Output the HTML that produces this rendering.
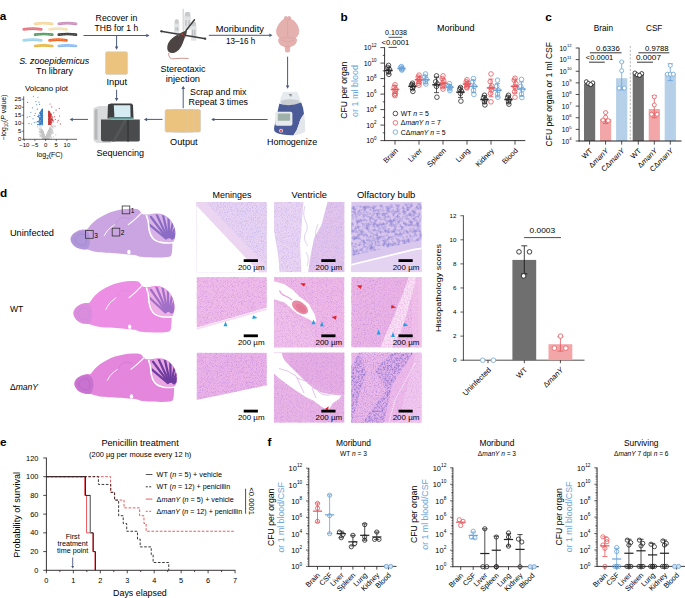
<!DOCTYPE html><html><head><meta charset="utf-8"><style>html,body{margin:0;padding:0;background:#fff;}svg{display:block;}</style></head><body>
<svg width="685" height="598" viewBox="0 0 685 598" font-family='"Liberation Sans", sans-serif'>
<rect width="685" height="598" fill="#fff"/>
<text x="-0.30" y="20.30" font-size="11.8" fill="#000" font-weight="bold" >a</text>
<path d="M35.099999999999994,23.799999999999997 Q43.7,22.4 52.300000000000004,23.799999999999997" fill="none" stroke="#f4d89e" stroke-width="2.7" stroke-linecap="round"/>
<path d="M35.099999999999994,23.799999999999997 Q43.7,22.4 52.300000000000004,23.799999999999997" fill="none" stroke="#ffffff" stroke-width="1.0" stroke-linecap="round" stroke-dasharray="0.01 1.55" opacity="0.35"/>
<path d="M58.8,23.799999999999997 Q67.4,22.4 76.0,23.799999999999997" fill="none" stroke="#c98dbd" stroke-width="2.7" stroke-linecap="round"/>
<path d="M58.8,23.799999999999997 Q67.4,22.4 76.0,23.799999999999997" fill="none" stroke="#ffffff" stroke-width="1.0" stroke-linecap="round" stroke-dasharray="0.01 1.55" opacity="0.35"/>
<path d="M23.7,29.4 Q32.5,28.0 41.300000000000004,29.4" fill="none" stroke="#e66f79" stroke-width="2.7" stroke-linecap="round"/>
<path d="M23.7,29.4 Q32.5,28.0 41.300000000000004,29.4" fill="none" stroke="#ffffff" stroke-width="1.0" stroke-linecap="round" stroke-dasharray="0.01 1.55" opacity="0.35"/>
<path d="M49.5,29.4 Q58.0,28.0 66.5,29.4" fill="none" stroke="#f4e1b6" stroke-width="2.7" stroke-linecap="round"/>
<path d="M49.5,29.4 Q58.0,28.0 66.5,29.4" fill="none" stroke="#ffffff" stroke-width="1.0" stroke-linecap="round" stroke-dasharray="0.01 1.55" opacity="0.35"/>
<path d="M35.099999999999994,34.699999999999996 Q43.7,33.3 52.300000000000004,34.699999999999996" fill="none" stroke="#4f9a5b" stroke-width="2.7" stroke-linecap="round"/>
<path d="M35.099999999999994,34.699999999999996 Q43.7,33.3 52.300000000000004,34.699999999999996" fill="none" stroke="#ffffff" stroke-width="1.0" stroke-linecap="round" stroke-dasharray="0.01 1.55" opacity="0.35"/>
<path d="M58.8,34.699999999999996 Q67.4,33.3 76.0,34.699999999999996" fill="none" stroke="#363636" stroke-width="2.7" stroke-linecap="round"/>
<path d="M58.8,34.699999999999996 Q67.4,33.3 76.0,34.699999999999996" fill="none" stroke="#ffffff" stroke-width="1.0" stroke-linecap="round" stroke-dasharray="0.01 1.55" opacity="0.35"/>
<path d="M23.7,40.3 Q32.5,38.9 41.300000000000004,40.3" fill="none" stroke="#9dd2ed" stroke-width="2.7" stroke-linecap="round"/>
<path d="M23.7,40.3 Q32.5,38.9 41.300000000000004,40.3" fill="none" stroke="#ffffff" stroke-width="1.0" stroke-linecap="round" stroke-dasharray="0.01 1.55" opacity="0.35"/>
<path d="M49.5,40.3 Q58.0,38.9 66.5,40.3" fill="none" stroke="#f3621f" stroke-width="2.7" stroke-linecap="round"/>
<path d="M49.5,40.3 Q58.0,38.9 66.5,40.3" fill="none" stroke="#ffffff" stroke-width="1.0" stroke-linecap="round" stroke-dasharray="0.01 1.55" opacity="0.35"/>
<path d="M35.099999999999994,46.0 Q43.7,44.6 52.300000000000004,46.0" fill="none" stroke="#e4b644" stroke-width="2.7" stroke-linecap="round"/>
<path d="M35.099999999999994,46.0 Q43.7,44.6 52.300000000000004,46.0" fill="none" stroke="#ffffff" stroke-width="1.0" stroke-linecap="round" stroke-dasharray="0.01 1.55" opacity="0.35"/>
<path d="M58.8,46.0 Q67.4,44.6 76.0,46.0" fill="none" stroke="#8abaf0" stroke-width="2.7" stroke-linecap="round"/>
<path d="M58.8,46.0 Q67.4,44.6 76.0,46.0" fill="none" stroke="#ffffff" stroke-width="1.0" stroke-linecap="round" stroke-dasharray="0.01 1.55" opacity="0.35"/>
<text x="19.20" y="64.00" font-size="8.6" font-style="italic" textLength="70" lengthAdjust="spacingAndGlyphs" >S. zooepidemicus</text>
<text x="36.00" y="74.20" font-size="8.6" textLength="37" lengthAdjust="spacingAndGlyphs" >Tn library</text>
<line x1="83.50" y1="35.50" x2="146.80" y2="35.50" stroke="#4c5a7a" stroke-width="1.0" />
<path d="M149.50,35.50 L146.30,37.26 L146.30,33.74 Z" fill="#4c5a7a"/>
<line x1="116.60" y1="35.50" x2="116.60" y2="47.10" stroke="#4c5a7a" stroke-width="1.0" />
<path d="M116.60,49.80 L114.84,46.60 L118.36,46.60 Z" fill="#4c5a7a"/>
<text x="95.60" y="20.90" font-size="8.4" textLength="41.8" lengthAdjust="spacingAndGlyphs" >Recover in</text>
<text x="94.60" y="31.10" font-size="8.4" textLength="43.6" lengthAdjust="spacingAndGlyphs" >THB for 1 h</text>
<rect x="105.50" y="51.70" width="22.10" height="22.80" fill="#ebc27e" rx="1.6" stroke="#d7d2cc" stroke-width="0.7"/>
<text x="106.40" y="85.00" font-size="8.4" textLength="20.7" lengthAdjust="spacingAndGlyphs" >Input</text>
<line x1="116.60" y1="89.80" x2="116.60" y2="98.60" stroke="#4c5a7a" stroke-width="1.0" />
<path d="M116.60,101.30 L114.84,98.10 L118.36,98.10 Z" fill="#4c5a7a"/>
<path d="M93.5,108 L99,106 L111,106 L111,143 L98,143 Q93.5,142 93.5,139 Z" fill="#d9dadc" stroke="none" stroke-width="1" />
<path d="M94.5,110 L97.5,109 L97.5,140 L94.5,139 Z" fill="#b5b7ba" stroke="none" stroke-width="1" />
<path d="M107.5,118.5 L108,104.5 L111,103.5 L131.5,103.5 L133,105 L133.5,118.5 Z" fill="#3e3f41" stroke="none" stroke-width="1" />
<path d="M113.8,105.3 L130.3,105.3 L130.6,117 L114.4,117 Z" fill="#d6ecf3" stroke="none" stroke-width="1" />
<rect x="109.00" y="117.30" width="24.50" height="1.60" fill="#5f9c98" />
<path d="M101,119.6 L139.8,119.6 L139.8,140.5 Q139.5,141.6 137.5,141.6 L103,141.6 Q101,141.2 101,139.5 Z" fill="#4a4b4d" stroke="none" stroke-width="1" />
<path d="M127,120 L129,120 L129,141.5 L127,141.5 Z" fill="#3b3c3e" stroke="none" stroke-width="1" />
<path d="M112,141.5 L124,120 L127,120 L115,141.5 Z" fill="#555658" stroke="none" stroke-width="1" />
<text x="96.40" y="156.30" font-size="8.6" textLength="47.7" lengthAdjust="spacingAndGlyphs" >Sequencing</text>
<line x1="162.50" y1="119.40" x2="146.60" y2="119.40" stroke="#4c5a7a" stroke-width="1.0" />
<path d="M143.90,119.40 L147.10,117.64 L147.10,121.16 Z" fill="#4c5a7a"/>
<text x="25.00" y="91.40" font-size="7.2" textLength="43" lengthAdjust="spacingAndGlyphs" >Volcano plot</text>
<circle cx="42.63" cy="131.26" r="0.55" fill="#c6c6c6"/><circle cx="47.07" cy="136.25" r="0.55" fill="#c6c6c6"/><circle cx="42.34" cy="135.99" r="0.55" fill="#c6c6c6"/><circle cx="45.85" cy="138.05" r="0.55" fill="#c6c6c6"/><circle cx="42.65" cy="137.27" r="0.55" fill="#c6c6c6"/><circle cx="42.44" cy="134.96" r="0.55" fill="#c6c6c6"/><circle cx="50.28" cy="129.23" r="0.55" fill="#c6c6c6"/><circle cx="48.75" cy="137.98" r="0.55" fill="#c6c6c6"/><circle cx="53.16" cy="127.86" r="0.55" fill="#c6c6c6"/><circle cx="45.23" cy="137.67" r="0.55" fill="#c6c6c6"/><circle cx="46.29" cy="137.29" r="0.55" fill="#c6c6c6"/><circle cx="46.43" cy="138.70" r="0.55" fill="#c6c6c6"/><circle cx="46.78" cy="138.80" r="0.55" fill="#c6c6c6"/><circle cx="47.95" cy="134.93" r="0.55" fill="#c6c6c6"/><circle cx="41.06" cy="131.07" r="0.55" fill="#c6c6c6"/><circle cx="47.97" cy="133.95" r="0.55" fill="#c6c6c6"/><circle cx="41.94" cy="132.99" r="0.55" fill="#c6c6c6"/><circle cx="46.03" cy="138.22" r="0.55" fill="#c6c6c6"/><circle cx="55.19" cy="126.01" r="0.55" fill="#c6c6c6"/><circle cx="45.89" cy="137.69" r="0.55" fill="#c6c6c6"/><circle cx="45.23" cy="138.27" r="0.55" fill="#c6c6c6"/><circle cx="47.87" cy="137.93" r="0.55" fill="#c6c6c6"/><circle cx="46.31" cy="136.59" r="0.55" fill="#c6c6c6"/><circle cx="43.23" cy="135.36" r="0.55" fill="#c6c6c6"/><circle cx="51.22" cy="139.14" r="0.55" fill="#c6c6c6"/><circle cx="44.62" cy="137.88" r="0.55" fill="#c6c6c6"/><circle cx="48.67" cy="130.74" r="0.55" fill="#c6c6c6"/><circle cx="44.36" cy="136.84" r="0.55" fill="#c6c6c6"/><circle cx="49.53" cy="130.06" r="0.55" fill="#c6c6c6"/><circle cx="47.76" cy="136.35" r="0.55" fill="#c6c6c6"/><circle cx="48.16" cy="132.03" r="0.55" fill="#c6c6c6"/><circle cx="47.33" cy="134.70" r="0.55" fill="#c6c6c6"/><circle cx="47.57" cy="137.78" r="0.55" fill="#c6c6c6"/><circle cx="47.44" cy="138.25" r="0.55" fill="#c6c6c6"/><circle cx="46.53" cy="136.81" r="0.55" fill="#c6c6c6"/><circle cx="44.37" cy="136.68" r="0.55" fill="#c6c6c6"/><circle cx="47.67" cy="137.45" r="0.55" fill="#c6c6c6"/><circle cx="50.22" cy="129.79" r="0.55" fill="#c6c6c6"/><circle cx="48.18" cy="136.34" r="0.55" fill="#c6c6c6"/><circle cx="47.97" cy="136.12" r="0.55" fill="#c6c6c6"/><circle cx="50.95" cy="132.37" r="0.55" fill="#c6c6c6"/><circle cx="45.12" cy="137.03" r="0.55" fill="#c6c6c6"/><circle cx="46.71" cy="135.71" r="0.55" fill="#c6c6c6"/><circle cx="48.72" cy="132.56" r="0.55" fill="#c6c6c6"/><circle cx="52.78" cy="133.46" r="0.55" fill="#c6c6c6"/><circle cx="50.96" cy="133.02" r="0.55" fill="#c6c6c6"/><circle cx="46.38" cy="137.78" r="0.55" fill="#c6c6c6"/><circle cx="43.57" cy="138.02" r="0.55" fill="#c6c6c6"/><circle cx="49.12" cy="135.13" r="0.55" fill="#c6c6c6"/><circle cx="48.00" cy="134.11" r="0.55" fill="#c6c6c6"/><circle cx="43.92" cy="134.10" r="0.55" fill="#c6c6c6"/><circle cx="48.23" cy="134.38" r="0.55" fill="#c6c6c6"/><circle cx="41.06" cy="134.90" r="0.55" fill="#c6c6c6"/><circle cx="43.51" cy="137.25" r="0.55" fill="#c6c6c6"/><circle cx="50.32" cy="133.80" r="0.55" fill="#c6c6c6"/><circle cx="43.24" cy="136.73" r="0.55" fill="#c6c6c6"/><circle cx="45.59" cy="138.81" r="0.55" fill="#c6c6c6"/><circle cx="39.45" cy="124.99" r="0.55" fill="#c6c6c6"/><circle cx="48.81" cy="133.93" r="0.55" fill="#c6c6c6"/><circle cx="43.48" cy="137.66" r="0.55" fill="#c6c6c6"/><circle cx="52.94" cy="133.06" r="0.55" fill="#c6c6c6"/><circle cx="47.74" cy="134.09" r="0.55" fill="#c6c6c6"/><circle cx="45.80" cy="138.01" r="0.55" fill="#c6c6c6"/><circle cx="51.19" cy="132.24" r="0.55" fill="#c6c6c6"/><circle cx="48.03" cy="137.87" r="0.55" fill="#c6c6c6"/><circle cx="49.98" cy="134.43" r="0.55" fill="#c6c6c6"/><circle cx="40.97" cy="130.03" r="0.55" fill="#c6c6c6"/><circle cx="44.05" cy="136.96" r="0.55" fill="#c6c6c6"/><circle cx="47.65" cy="138.77" r="0.55" fill="#c6c6c6"/><circle cx="45.10" cy="138.17" r="0.55" fill="#c6c6c6"/><circle cx="45.10" cy="138.43" r="0.55" fill="#c6c6c6"/><circle cx="46.35" cy="137.60" r="0.55" fill="#c6c6c6"/><circle cx="44.70" cy="137.43" r="0.55" fill="#c6c6c6"/><circle cx="45.38" cy="137.61" r="0.55" fill="#c6c6c6"/><circle cx="50.06" cy="129.69" r="0.55" fill="#c6c6c6"/><circle cx="45.53" cy="138.25" r="0.55" fill="#c6c6c6"/><circle cx="46.50" cy="138.99" r="0.55" fill="#c6c6c6"/><circle cx="46.60" cy="135.82" r="0.55" fill="#c6c6c6"/><circle cx="43.87" cy="138.76" r="0.55" fill="#c6c6c6"/><circle cx="39.24" cy="128.05" r="0.55" fill="#c6c6c6"/><circle cx="41.56" cy="133.76" r="0.55" fill="#c6c6c6"/><circle cx="46.53" cy="135.79" r="0.55" fill="#c6c6c6"/><circle cx="49.13" cy="131.16" r="0.55" fill="#c6c6c6"/><circle cx="47.62" cy="133.55" r="0.55" fill="#c6c6c6"/><circle cx="45.68" cy="138.02" r="0.55" fill="#c6c6c6"/><circle cx="41.71" cy="129.22" r="0.55" fill="#c6c6c6"/><circle cx="43.51" cy="133.37" r="0.55" fill="#c6c6c6"/><circle cx="49.41" cy="129.68" r="0.55" fill="#c6c6c6"/><circle cx="41.77" cy="129.69" r="0.55" fill="#c6c6c6"/><circle cx="48.47" cy="133.45" r="0.55" fill="#c6c6c6"/><circle cx="44.10" cy="135.76" r="0.55" fill="#c6c6c6"/><circle cx="44.10" cy="135.67" r="0.55" fill="#c6c6c6"/><circle cx="49.50" cy="128.69" r="0.55" fill="#c6c6c6"/><circle cx="47.94" cy="132.90" r="0.55" fill="#c6c6c6"/><circle cx="45.65" cy="138.13" r="0.55" fill="#c6c6c6"/><circle cx="43.30" cy="134.38" r="0.55" fill="#c6c6c6"/><circle cx="41.09" cy="136.56" r="0.55" fill="#c6c6c6"/><circle cx="47.96" cy="133.44" r="0.55" fill="#c6c6c6"/><circle cx="49.73" cy="132.08" r="0.55" fill="#c6c6c6"/><circle cx="46.73" cy="137.65" r="0.55" fill="#c6c6c6"/><circle cx="44.99" cy="137.24" r="0.55" fill="#c6c6c6"/><circle cx="42.94" cy="132.00" r="0.55" fill="#c6c6c6"/><circle cx="46.01" cy="138.19" r="0.55" fill="#c6c6c6"/><circle cx="46.45" cy="136.67" r="0.55" fill="#c6c6c6"/><circle cx="46.52" cy="136.00" r="0.55" fill="#c6c6c6"/><circle cx="47.64" cy="134.47" r="0.55" fill="#c6c6c6"/><circle cx="40.56" cy="132.45" r="0.55" fill="#c6c6c6"/><circle cx="48.12" cy="133.56" r="0.55" fill="#c6c6c6"/><circle cx="46.96" cy="135.29" r="0.55" fill="#c6c6c6"/><circle cx="48.82" cy="130.75" r="0.55" fill="#c6c6c6"/><circle cx="48.02" cy="134.16" r="0.55" fill="#c6c6c6"/><circle cx="44.16" cy="136.92" r="0.55" fill="#c6c6c6"/><circle cx="48.16" cy="132.62" r="0.55" fill="#c6c6c6"/><circle cx="48.48" cy="131.86" r="0.55" fill="#c6c6c6"/><circle cx="44.39" cy="137.36" r="0.55" fill="#c6c6c6"/><circle cx="39.43" cy="134.22" r="0.55" fill="#c6c6c6"/><circle cx="43.91" cy="137.18" r="0.55" fill="#c6c6c6"/><circle cx="46.71" cy="136.98" r="0.55" fill="#c6c6c6"/><circle cx="43.75" cy="136.43" r="0.55" fill="#c6c6c6"/><circle cx="43.73" cy="134.09" r="0.55" fill="#c6c6c6"/><circle cx="49.05" cy="137.28" r="0.55" fill="#c6c6c6"/><circle cx="45.68" cy="139.11" r="0.55" fill="#c6c6c6"/><circle cx="46.59" cy="136.32" r="0.55" fill="#c6c6c6"/><circle cx="45.45" cy="138.12" r="0.55" fill="#c6c6c6"/><circle cx="44.25" cy="138.88" r="0.55" fill="#c6c6c6"/><circle cx="50.61" cy="135.28" r="0.55" fill="#c6c6c6"/><circle cx="45.43" cy="137.79" r="0.55" fill="#c6c6c6"/><circle cx="46.20" cy="138.15" r="0.55" fill="#c6c6c6"/><circle cx="46.57" cy="136.56" r="0.55" fill="#c6c6c6"/><circle cx="46.69" cy="136.89" r="0.55" fill="#c6c6c6"/><circle cx="43.25" cy="133.21" r="0.55" fill="#c6c6c6"/><circle cx="43.08" cy="132.13" r="0.55" fill="#c6c6c6"/><circle cx="45.29" cy="138.00" r="0.55" fill="#c6c6c6"/><circle cx="44.33" cy="137.76" r="0.55" fill="#c6c6c6"/><circle cx="49.16" cy="131.26" r="0.55" fill="#c6c6c6"/><circle cx="46.24" cy="138.30" r="0.55" fill="#c6c6c6"/><circle cx="45.67" cy="138.13" r="0.55" fill="#c6c6c6"/><circle cx="48.56" cy="133.63" r="0.55" fill="#c6c6c6"/><circle cx="42.52" cy="134.33" r="0.55" fill="#c6c6c6"/><circle cx="42.96" cy="132.66" r="0.55" fill="#c6c6c6"/><circle cx="47.01" cy="134.81" r="0.55" fill="#c6c6c6"/><circle cx="45.37" cy="137.79" r="0.55" fill="#c6c6c6"/><circle cx="48.12" cy="133.77" r="0.55" fill="#c6c6c6"/><circle cx="48.25" cy="132.07" r="0.55" fill="#c6c6c6"/><circle cx="43.45" cy="133.33" r="0.55" fill="#c6c6c6"/><circle cx="48.54" cy="132.01" r="0.55" fill="#c6c6c6"/><circle cx="48.94" cy="132.10" r="0.55" fill="#c6c6c6"/><circle cx="44.96" cy="138.21" r="0.55" fill="#c6c6c6"/><circle cx="45.13" cy="137.45" r="0.55" fill="#c6c6c6"/><circle cx="40.98" cy="129.15" r="0.55" fill="#c6c6c6"/><circle cx="47.39" cy="133.78" r="0.55" fill="#c6c6c6"/><circle cx="51.83" cy="124.74" r="0.55" fill="#c6c6c6"/><circle cx="41.25" cy="133.37" r="0.55" fill="#c6c6c6"/><circle cx="44.90" cy="136.49" r="0.55" fill="#c6c6c6"/><circle cx="47.61" cy="137.93" r="0.55" fill="#c6c6c6"/><circle cx="44.00" cy="136.17" r="0.55" fill="#c6c6c6"/><circle cx="41.52" cy="132.09" r="0.55" fill="#c6c6c6"/><circle cx="44.55" cy="138.85" r="0.55" fill="#c6c6c6"/><circle cx="46.39" cy="136.51" r="0.55" fill="#c6c6c6"/><circle cx="45.09" cy="138.42" r="0.55" fill="#c6c6c6"/><circle cx="43.54" cy="137.38" r="0.55" fill="#c6c6c6"/><circle cx="50.23" cy="135.34" r="0.55" fill="#c6c6c6"/><circle cx="41.60" cy="129.48" r="0.55" fill="#c6c6c6"/><circle cx="45.57" cy="138.21" r="0.55" fill="#c6c6c6"/><circle cx="49.07" cy="129.96" r="0.55" fill="#c6c6c6"/><circle cx="44.95" cy="138.64" r="0.55" fill="#c6c6c6"/><circle cx="46.63" cy="137.51" r="0.55" fill="#c6c6c6"/><circle cx="49.37" cy="130.75" r="0.55" fill="#c6c6c6"/><circle cx="43.86" cy="134.36" r="0.55" fill="#c6c6c6"/><circle cx="43.44" cy="134.73" r="0.55" fill="#c6c6c6"/><circle cx="45.00" cy="136.83" r="0.55" fill="#c6c6c6"/><circle cx="48.54" cy="131.45" r="0.55" fill="#c6c6c6"/><circle cx="47.43" cy="133.72" r="0.55" fill="#c6c6c6"/><circle cx="51.26" cy="129.28" r="0.55" fill="#c6c6c6"/><circle cx="44.36" cy="136.37" r="0.55" fill="#c6c6c6"/><circle cx="45.20" cy="137.82" r="0.55" fill="#c6c6c6"/><circle cx="45.51" cy="137.82" r="0.55" fill="#c6c6c6"/><circle cx="45.62" cy="138.40" r="0.55" fill="#c6c6c6"/><circle cx="41.98" cy="132.23" r="0.55" fill="#c6c6c6"/><circle cx="48.94" cy="133.22" r="0.55" fill="#c6c6c6"/><circle cx="45.66" cy="138.32" r="0.55" fill="#c6c6c6"/><circle cx="45.07" cy="137.80" r="0.55" fill="#c6c6c6"/><circle cx="52.09" cy="132.58" r="0.55" fill="#c6c6c6"/><circle cx="44.34" cy="136.55" r="0.55" fill="#c6c6c6"/><circle cx="48.09" cy="132.86" r="0.55" fill="#c6c6c6"/><circle cx="48.15" cy="132.35" r="0.55" fill="#c6c6c6"/><circle cx="43.63" cy="137.07" r="0.55" fill="#c6c6c6"/><circle cx="46.38" cy="136.93" r="0.55" fill="#c6c6c6"/><circle cx="47.33" cy="134.61" r="0.55" fill="#c6c6c6"/><circle cx="45.37" cy="139.11" r="0.55" fill="#c6c6c6"/><circle cx="46.71" cy="136.14" r="0.55" fill="#c6c6c6"/><circle cx="47.90" cy="135.85" r="0.55" fill="#c6c6c6"/><circle cx="43.65" cy="137.76" r="0.55" fill="#c6c6c6"/><circle cx="49.07" cy="131.32" r="0.55" fill="#c6c6c6"/><circle cx="48.41" cy="135.80" r="0.55" fill="#c6c6c6"/><circle cx="48.34" cy="136.32" r="0.55" fill="#c6c6c6"/><circle cx="43.11" cy="135.26" r="0.55" fill="#c6c6c6"/><circle cx="45.46" cy="138.35" r="0.55" fill="#c6c6c6"/><circle cx="44.42" cy="137.71" r="0.55" fill="#c6c6c6"/><circle cx="45.73" cy="138.09" r="0.55" fill="#c6c6c6"/><circle cx="43.83" cy="134.27" r="0.55" fill="#c6c6c6"/><circle cx="43.42" cy="134.44" r="0.55" fill="#c6c6c6"/><circle cx="47.28" cy="134.85" r="0.55" fill="#c6c6c6"/><circle cx="44.44" cy="135.72" r="0.55" fill="#c6c6c6"/><circle cx="48.01" cy="135.76" r="0.55" fill="#c6c6c6"/><circle cx="44.64" cy="135.87" r="0.55" fill="#c6c6c6"/><circle cx="48.00" cy="132.73" r="0.55" fill="#c6c6c6"/><circle cx="55.77" cy="134.88" r="0.55" fill="#c6c6c6"/><circle cx="46.33" cy="137.95" r="0.55" fill="#c6c6c6"/><circle cx="50.49" cy="136.09" r="0.55" fill="#c6c6c6"/><circle cx="47.46" cy="134.30" r="0.55" fill="#c6c6c6"/><circle cx="43.50" cy="137.47" r="0.55" fill="#c6c6c6"/><circle cx="42.57" cy="138.54" r="0.55" fill="#c6c6c6"/><circle cx="48.45" cy="136.20" r="0.55" fill="#c6c6c6"/><circle cx="43.51" cy="133.11" r="0.55" fill="#c6c6c6"/><circle cx="40.46" cy="135.57" r="0.55" fill="#c6c6c6"/><circle cx="41.35" cy="131.69" r="0.55" fill="#c6c6c6"/><circle cx="45.86" cy="137.78" r="0.55" fill="#c6c6c6"/><circle cx="46.42" cy="138.45" r="0.55" fill="#c6c6c6"/><circle cx="47.01" cy="138.65" r="0.55" fill="#c6c6c6"/><circle cx="42.86" cy="133.70" r="0.55" fill="#c6c6c6"/><circle cx="44.96" cy="138.41" r="0.55" fill="#c6c6c6"/><circle cx="46.78" cy="135.60" r="0.55" fill="#c6c6c6"/><circle cx="47.75" cy="132.90" r="0.55" fill="#c6c6c6"/><circle cx="47.14" cy="138.36" r="0.55" fill="#c6c6c6"/><circle cx="45.48" cy="137.77" r="0.55" fill="#c6c6c6"/><circle cx="41.44" cy="133.53" r="0.55" fill="#c6c6c6"/><circle cx="47.14" cy="136.14" r="0.55" fill="#c6c6c6"/><circle cx="43.10" cy="133.92" r="0.55" fill="#c6c6c6"/><circle cx="45.74" cy="139.18" r="0.55" fill="#c6c6c6"/><circle cx="44.41" cy="137.81" r="0.55" fill="#c6c6c6"/><circle cx="40.93" cy="131.50" r="0.55" fill="#c6c6c6"/><circle cx="45.84" cy="138.60" r="0.55" fill="#c6c6c6"/><circle cx="43.20" cy="136.91" r="0.55" fill="#c6c6c6"/><circle cx="45.54" cy="137.96" r="0.55" fill="#c6c6c6"/><circle cx="45.99" cy="137.36" r="0.55" fill="#c6c6c6"/><circle cx="44.48" cy="136.29" r="0.55" fill="#c6c6c6"/><circle cx="40.74" cy="131.76" r="0.55" fill="#c6c6c6"/><circle cx="43.36" cy="132.71" r="0.55" fill="#c6c6c6"/><circle cx="44.10" cy="135.01" r="0.55" fill="#c6c6c6"/><circle cx="45.71" cy="138.00" r="0.55" fill="#c6c6c6"/><circle cx="52.13" cy="126.61" r="0.55" fill="#c6c6c6"/><circle cx="47.15" cy="134.62" r="0.55" fill="#c6c6c6"/><circle cx="43.43" cy="133.27" r="0.55" fill="#c6c6c6"/><circle cx="44.42" cy="135.78" r="0.55" fill="#c6c6c6"/><circle cx="41.57" cy="132.91" r="0.55" fill="#c6c6c6"/><circle cx="45.85" cy="138.32" r="0.55" fill="#c6c6c6"/><circle cx="44.98" cy="137.54" r="0.55" fill="#c6c6c6"/><circle cx="48.62" cy="132.77" r="0.55" fill="#c6c6c6"/><circle cx="46.20" cy="137.25" r="0.55" fill="#c6c6c6"/><circle cx="46.78" cy="136.08" r="0.55" fill="#c6c6c6"/><circle cx="52.66" cy="131.61" r="0.55" fill="#c6c6c6"/><circle cx="44.09" cy="135.93" r="0.55" fill="#c6c6c6"/><circle cx="42.99" cy="135.00" r="0.55" fill="#c6c6c6"/><circle cx="50.01" cy="129.70" r="0.55" fill="#c6c6c6"/><circle cx="46.02" cy="137.34" r="0.55" fill="#c6c6c6"/><circle cx="46.62" cy="136.51" r="0.55" fill="#c6c6c6"/><circle cx="45.95" cy="137.52" r="0.55" fill="#c6c6c6"/><circle cx="45.91" cy="138.96" r="0.55" fill="#c6c6c6"/><circle cx="48.84" cy="135.90" r="0.55" fill="#c6c6c6"/><circle cx="45.13" cy="138.25" r="0.55" fill="#c6c6c6"/><circle cx="46.92" cy="135.11" r="0.55" fill="#c6c6c6"/><circle cx="42.88" cy="131.64" r="0.55" fill="#c6c6c6"/><circle cx="45.00" cy="137.37" r="0.55" fill="#c6c6c6"/><circle cx="49.98" cy="128.89" r="0.55" fill="#c6c6c6"/><circle cx="45.91" cy="138.87" r="0.55" fill="#c6c6c6"/><circle cx="42.20" cy="137.82" r="0.55" fill="#c6c6c6"/><circle cx="43.33" cy="132.85" r="0.55" fill="#c6c6c6"/><circle cx="47.71" cy="137.11" r="0.55" fill="#c6c6c6"/><circle cx="48.67" cy="133.61" r="0.55" fill="#c6c6c6"/><circle cx="45.29" cy="137.34" r="0.55" fill="#c6c6c6"/><circle cx="45.41" cy="138.26" r="0.55" fill="#c6c6c6"/><circle cx="42.33" cy="134.30" r="0.55" fill="#c6c6c6"/><circle cx="45.40" cy="138.47" r="0.55" fill="#c6c6c6"/><circle cx="44.03" cy="136.92" r="0.55" fill="#c6c6c6"/><circle cx="43.08" cy="133.29" r="0.55" fill="#c6c6c6"/><circle cx="45.89" cy="138.44" r="0.55" fill="#c6c6c6"/><circle cx="46.47" cy="138.79" r="0.55" fill="#c6c6c6"/><circle cx="48.60" cy="134.47" r="0.55" fill="#c6c6c6"/><circle cx="49.90" cy="128.41" r="0.55" fill="#c6c6c6"/><circle cx="46.02" cy="137.03" r="0.55" fill="#c6c6c6"/><circle cx="45.14" cy="136.98" r="0.55" fill="#c6c6c6"/><circle cx="51.42" cy="130.41" r="0.55" fill="#c6c6c6"/><circle cx="48.71" cy="133.67" r="0.55" fill="#c6c6c6"/><circle cx="48.07" cy="134.40" r="0.55" fill="#c6c6c6"/><circle cx="45.68" cy="137.88" r="0.55" fill="#c6c6c6"/><circle cx="45.50" cy="137.78" r="0.55" fill="#c6c6c6"/><circle cx="42.95" cy="132.53" r="0.55" fill="#c6c6c6"/><circle cx="44.94" cy="137.13" r="0.55" fill="#c6c6c6"/><circle cx="45.20" cy="137.89" r="0.55" fill="#c6c6c6"/><circle cx="46.29" cy="137.30" r="0.55" fill="#c6c6c6"/><circle cx="46.90" cy="138.04" r="0.55" fill="#c6c6c6"/><circle cx="42.17" cy="133.35" r="0.55" fill="#c6c6c6"/><circle cx="47.47" cy="136.71" r="0.55" fill="#c6c6c6"/><circle cx="43.51" cy="133.87" r="0.55" fill="#c6c6c6"/><circle cx="44.60" cy="136.77" r="0.55" fill="#c6c6c6"/><circle cx="52.88" cy="127.04" r="0.55" fill="#c6c6c6"/><circle cx="45.93" cy="138.43" r="0.55" fill="#c6c6c6"/><circle cx="50.45" cy="128.11" r="0.55" fill="#c6c6c6"/><circle cx="49.87" cy="130.58" r="0.55" fill="#c6c6c6"/><circle cx="44.63" cy="136.41" r="0.55" fill="#c6c6c6"/><circle cx="47.74" cy="134.74" r="0.55" fill="#c6c6c6"/><circle cx="42.73" cy="132.40" r="0.55" fill="#c6c6c6"/><circle cx="43.89" cy="137.31" r="0.55" fill="#c6c6c6"/><circle cx="46.08" cy="136.99" r="0.55" fill="#c6c6c6"/><circle cx="53.78" cy="125.64" r="0.55" fill="#c6c6c6"/><circle cx="46.98" cy="137.20" r="0.55" fill="#c6c6c6"/><circle cx="46.27" cy="137.57" r="0.55" fill="#c6c6c6"/><circle cx="45.11" cy="137.59" r="0.55" fill="#c6c6c6"/><circle cx="45.12" cy="138.80" r="0.55" fill="#c6c6c6"/><circle cx="49.60" cy="131.69" r="0.55" fill="#c6c6c6"/><circle cx="48.18" cy="133.62" r="0.55" fill="#c6c6c6"/><circle cx="43.81" cy="137.11" r="0.55" fill="#c6c6c6"/><circle cx="48.29" cy="135.21" r="0.55" fill="#c6c6c6"/><circle cx="45.85" cy="138.90" r="0.55" fill="#c6c6c6"/><circle cx="40.73" cy="135.66" r="0.55" fill="#c6c6c6"/><circle cx="47.44" cy="134.43" r="0.55" fill="#c6c6c6"/><circle cx="42.41" cy="135.76" r="0.55" fill="#c6c6c6"/><circle cx="44.12" cy="135.03" r="0.55" fill="#c6c6c6"/><circle cx="47.01" cy="136.73" r="0.55" fill="#c6c6c6"/><circle cx="41.28" cy="133.34" r="0.55" fill="#c6c6c6"/><circle cx="39.16" cy="129.01" r="0.55" fill="#c6c6c6"/><circle cx="45.87" cy="138.13" r="0.55" fill="#c6c6c6"/><circle cx="39.78" cy="131.18" r="0.55" fill="#c6c6c6"/><circle cx="50.67" cy="136.37" r="0.55" fill="#c6c6c6"/><circle cx="49.27" cy="137.03" r="0.55" fill="#c6c6c6"/><circle cx="43.09" cy="133.46" r="0.55" fill="#c6c6c6"/><circle cx="44.77" cy="137.71" r="0.55" fill="#c6c6c6"/><circle cx="46.20" cy="138.22" r="0.55" fill="#c6c6c6"/><circle cx="44.94" cy="137.05" r="0.55" fill="#c6c6c6"/><circle cx="48.08" cy="133.32" r="0.55" fill="#c6c6c6"/><circle cx="47.19" cy="135.20" r="0.55" fill="#c6c6c6"/><circle cx="45.71" cy="138.46" r="0.55" fill="#c6c6c6"/><circle cx="47.54" cy="134.40" r="0.55" fill="#c6c6c6"/><circle cx="45.10" cy="137.28" r="0.55" fill="#c6c6c6"/><circle cx="47.06" cy="135.88" r="0.55" fill="#c6c6c6"/><circle cx="51.77" cy="125.32" r="0.55" fill="#c6c6c6"/><circle cx="42.80" cy="134.42" r="0.55" fill="#c6c6c6"/><circle cx="46.80" cy="137.20" r="0.55" fill="#c6c6c6"/><circle cx="43.79" cy="136.05" r="0.55" fill="#c6c6c6"/><circle cx="51.43" cy="132.90" r="0.55" fill="#c6c6c6"/><circle cx="43.68" cy="136.09" r="0.55" fill="#c6c6c6"/><circle cx="44.28" cy="136.74" r="0.55" fill="#c6c6c6"/><circle cx="48.00" cy="135.31" r="0.55" fill="#c6c6c6"/><circle cx="47.24" cy="134.74" r="0.55" fill="#c6c6c6"/><circle cx="49.39" cy="132.11" r="0.55" fill="#c6c6c6"/><circle cx="47.87" cy="136.92" r="0.55" fill="#c6c6c6"/><circle cx="42.97" cy="132.85" r="0.55" fill="#c6c6c6"/><circle cx="47.68" cy="138.66" r="0.55" fill="#c6c6c6"/><circle cx="44.49" cy="136.65" r="0.55" fill="#c6c6c6"/><circle cx="42.57" cy="130.91" r="0.55" fill="#c6c6c6"/><circle cx="45.04" cy="137.27" r="0.55" fill="#c6c6c6"/><circle cx="46.37" cy="137.13" r="0.55" fill="#c6c6c6"/><circle cx="45.08" cy="137.09" r="0.55" fill="#c6c6c6"/><circle cx="47.02" cy="135.40" r="0.55" fill="#c6c6c6"/><circle cx="46.60" cy="135.83" r="0.55" fill="#c6c6c6"/><circle cx="49.42" cy="136.03" r="0.55" fill="#c6c6c6"/><circle cx="48.02" cy="133.34" r="0.55" fill="#c6c6c6"/><circle cx="44.79" cy="138.00" r="0.55" fill="#c6c6c6"/><circle cx="44.35" cy="135.65" r="0.55" fill="#c6c6c6"/><circle cx="41.35" cy="132.72" r="0.55" fill="#c6c6c6"/><circle cx="45.39" cy="138.37" r="0.55" fill="#c6c6c6"/><circle cx="50.09" cy="131.39" r="0.55" fill="#c6c6c6"/><circle cx="45.21" cy="137.76" r="0.55" fill="#c6c6c6"/><circle cx="45.24" cy="137.25" r="0.55" fill="#c6c6c6"/><circle cx="41.74" cy="133.11" r="0.55" fill="#c6c6c6"/><circle cx="47.92" cy="133.05" r="0.55" fill="#c6c6c6"/><circle cx="42.38" cy="131.36" r="0.55" fill="#c6c6c6"/><circle cx="48.95" cy="130.20" r="0.55" fill="#c6c6c6"/><circle cx="41.00" cy="129.85" r="0.55" fill="#c6c6c6"/><circle cx="41.71" cy="129.98" r="0.55" fill="#c6c6c6"/><circle cx="45.37" cy="138.21" r="0.55" fill="#c6c6c6"/><circle cx="44.66" cy="136.33" r="0.55" fill="#c6c6c6"/><circle cx="46.77" cy="135.21" r="0.55" fill="#c6c6c6"/><circle cx="44.83" cy="138.09" r="0.55" fill="#c6c6c6"/><circle cx="47.21" cy="136.21" r="0.55" fill="#c6c6c6"/><circle cx="44.11" cy="138.41" r="0.55" fill="#c6c6c6"/><circle cx="53.11" cy="132.01" r="0.55" fill="#c6c6c6"/><circle cx="49.04" cy="131.10" r="0.55" fill="#c6c6c6"/><circle cx="48.68" cy="136.20" r="0.55" fill="#c6c6c6"/><circle cx="48.87" cy="132.68" r="0.55" fill="#c6c6c6"/><circle cx="47.20" cy="134.45" r="0.55" fill="#c6c6c6"/><circle cx="47.32" cy="137.33" r="0.55" fill="#c6c6c6"/><circle cx="46.33" cy="138.09" r="0.55" fill="#c6c6c6"/><circle cx="46.43" cy="136.90" r="0.55" fill="#c6c6c6"/><circle cx="50.42" cy="134.06" r="0.55" fill="#c6c6c6"/><circle cx="46.92" cy="137.75" r="0.55" fill="#c6c6c6"/><circle cx="48.10" cy="133.13" r="0.55" fill="#c6c6c6"/><circle cx="44.70" cy="136.25" r="0.55" fill="#c6c6c6"/><circle cx="49.27" cy="132.80" r="0.55" fill="#c6c6c6"/><circle cx="45.65" cy="137.98" r="0.55" fill="#c6c6c6"/><circle cx="51.82" cy="131.55" r="0.55" fill="#c6c6c6"/><circle cx="39.37" cy="129.77" r="0.55" fill="#c6c6c6"/><circle cx="43.99" cy="137.21" r="0.55" fill="#c6c6c6"/><circle cx="52.44" cy="126.38" r="0.55" fill="#c6c6c6"/><circle cx="48.10" cy="135.19" r="0.55" fill="#c6c6c6"/><circle cx="42.73" cy="135.54" r="0.55" fill="#c6c6c6"/><circle cx="45.45" cy="137.67" r="0.55" fill="#c6c6c6"/><circle cx="44.91" cy="139.10" r="0.55" fill="#c6c6c6"/><circle cx="44.32" cy="136.52" r="0.55" fill="#c6c6c6"/><circle cx="42.60" cy="132.36" r="0.55" fill="#c6c6c6"/><circle cx="49.61" cy="131.22" r="0.55" fill="#c6c6c6"/><circle cx="46.92" cy="137.04" r="0.55" fill="#c6c6c6"/><circle cx="47.38" cy="136.82" r="0.55" fill="#c6c6c6"/><circle cx="48.30" cy="133.36" r="0.55" fill="#c6c6c6"/><circle cx="43.58" cy="133.18" r="0.55" fill="#c6c6c6"/><circle cx="45.67" cy="138.83" r="0.55" fill="#c6c6c6"/><circle cx="49.44" cy="130.31" r="0.55" fill="#c6c6c6"/><circle cx="51.18" cy="126.01" r="0.55" fill="#c6c6c6"/><circle cx="46.07" cy="137.15" r="0.55" fill="#c6c6c6"/><circle cx="47.94" cy="133.64" r="0.55" fill="#c6c6c6"/><circle cx="47.12" cy="138.08" r="0.55" fill="#c6c6c6"/><circle cx="42.93" cy="131.81" r="0.55" fill="#c6c6c6"/><circle cx="46.42" cy="136.94" r="0.55" fill="#c6c6c6"/><circle cx="47.50" cy="134.22" r="0.55" fill="#c6c6c6"/><circle cx="44.18" cy="136.53" r="0.55" fill="#c6c6c6"/><circle cx="47.08" cy="134.99" r="0.55" fill="#c6c6c6"/><circle cx="45.42" cy="138.63" r="0.55" fill="#c6c6c6"/><circle cx="42.76" cy="136.63" r="0.55" fill="#c6c6c6"/><circle cx="45.11" cy="137.11" r="0.55" fill="#c6c6c6"/><circle cx="45.13" cy="138.78" r="0.55" fill="#c6c6c6"/><circle cx="48.25" cy="135.55" r="0.55" fill="#c6c6c6"/><circle cx="41.72" cy="133.56" r="0.55" fill="#c6c6c6"/><circle cx="46.93" cy="135.73" r="0.55" fill="#c6c6c6"/><circle cx="48.21" cy="134.54" r="0.55" fill="#c6c6c6"/><circle cx="47.74" cy="133.00" r="0.55" fill="#c6c6c6"/><circle cx="47.97" cy="138.80" r="0.55" fill="#c6c6c6"/><circle cx="42.48" cy="134.41" r="0.55" fill="#c6c6c6"/><circle cx="45.52" cy="138.25" r="0.55" fill="#c6c6c6"/><circle cx="44.05" cy="136.16" r="0.55" fill="#c6c6c6"/><circle cx="54.59" cy="126.40" r="0.55" fill="#c6c6c6"/><circle cx="46.59" cy="137.88" r="0.55" fill="#c6c6c6"/><circle cx="44.31" cy="136.87" r="0.55" fill="#c6c6c6"/><circle cx="44.50" cy="136.58" r="0.55" fill="#c6c6c6"/><circle cx="45.28" cy="138.12" r="0.55" fill="#c6c6c6"/><circle cx="48.43" cy="132.96" r="0.55" fill="#c6c6c6"/><circle cx="45.95" cy="137.54" r="0.55" fill="#c6c6c6"/><circle cx="47.88" cy="135.83" r="0.55" fill="#c6c6c6"/><circle cx="49.39" cy="130.74" r="0.55" fill="#c6c6c6"/><circle cx="44.82" cy="137.67" r="0.55" fill="#c6c6c6"/><circle cx="46.59" cy="138.17" r="0.55" fill="#c6c6c6"/><circle cx="44.95" cy="138.61" r="0.55" fill="#c6c6c6"/><circle cx="44.12" cy="137.57" r="0.55" fill="#c6c6c6"/><circle cx="42.11" cy="133.70" r="0.55" fill="#c6c6c6"/><circle cx="47.96" cy="137.66" r="0.55" fill="#c6c6c6"/><circle cx="42.85" cy="136.06" r="0.55" fill="#c6c6c6"/><circle cx="46.81" cy="136.85" r="0.55" fill="#c6c6c6"/><circle cx="47.22" cy="138.23" r="0.55" fill="#c6c6c6"/><circle cx="48.60" cy="133.62" r="0.55" fill="#c6c6c6"/><circle cx="44.63" cy="136.51" r="0.55" fill="#c6c6c6"/><circle cx="46.57" cy="137.26" r="0.55" fill="#c6c6c6"/><circle cx="40.91" cy="132.82" r="0.55" fill="#c6c6c6"/><circle cx="45.61" cy="138.54" r="0.55" fill="#c6c6c6"/><circle cx="46.28" cy="136.94" r="0.55" fill="#c6c6c6"/><circle cx="50.90" cy="128.37" r="0.55" fill="#c6c6c6"/><circle cx="45.47" cy="138.12" r="0.55" fill="#c6c6c6"/><circle cx="48.50" cy="134.96" r="0.55" fill="#c6c6c6"/><circle cx="46.32" cy="136.98" r="0.55" fill="#c6c6c6"/><circle cx="48.15" cy="134.36" r="0.55" fill="#c6c6c6"/><circle cx="47.70" cy="133.81" r="0.55" fill="#c6c6c6"/><circle cx="47.76" cy="137.15" r="0.55" fill="#c6c6c6"/><circle cx="42.63" cy="132.12" r="0.55" fill="#c6c6c6"/><circle cx="48.90" cy="134.37" r="0.55" fill="#c6c6c6"/><circle cx="44.02" cy="135.95" r="0.55" fill="#c6c6c6"/><circle cx="48.79" cy="130.43" r="0.55" fill="#c6c6c6"/><circle cx="49.44" cy="132.23" r="0.55" fill="#c6c6c6"/><circle cx="44.89" cy="138.17" r="0.55" fill="#c6c6c6"/><circle cx="40.88" cy="127.09" r="0.55" fill="#c6c6c6"/><circle cx="44.74" cy="138.55" r="0.55" fill="#c6c6c6"/><circle cx="44.71" cy="137.83" r="0.55" fill="#c6c6c6"/><circle cx="42.22" cy="134.47" r="0.55" fill="#c6c6c6"/><circle cx="44.04" cy="134.49" r="0.55" fill="#c6c6c6"/><circle cx="44.04" cy="137.86" r="0.55" fill="#c6c6c6"/><circle cx="48.40" cy="131.42" r="0.55" fill="#c6c6c6"/><circle cx="49.98" cy="131.10" r="0.55" fill="#c6c6c6"/><circle cx="50.55" cy="129.98" r="0.55" fill="#c6c6c6"/><circle cx="44.01" cy="134.47" r="0.55" fill="#c6c6c6"/><circle cx="45.22" cy="137.12" r="0.55" fill="#c6c6c6"/><circle cx="47.58" cy="137.59" r="0.55" fill="#c6c6c6"/><circle cx="42.60" cy="131.72" r="0.55" fill="#c6c6c6"/><circle cx="44.61" cy="137.74" r="0.55" fill="#c6c6c6"/><circle cx="51.77" cy="128.73" r="0.55" fill="#c6c6c6"/><circle cx="46.89" cy="136.24" r="0.55" fill="#c6c6c6"/><circle cx="44.47" cy="138.45" r="0.55" fill="#c6c6c6"/><circle cx="47.74" cy="132.92" r="0.55" fill="#c6c6c6"/><circle cx="46.38" cy="136.27" r="0.55" fill="#c6c6c6"/><circle cx="44.73" cy="136.65" r="0.55" fill="#c6c6c6"/><circle cx="44.03" cy="135.09" r="0.55" fill="#c6c6c6"/><circle cx="43.29" cy="133.31" r="0.55" fill="#c6c6c6"/><circle cx="48.54" cy="138.59" r="0.55" fill="#c6c6c6"/><circle cx="47.00" cy="137.85" r="0.55" fill="#c6c6c6"/><circle cx="48.99" cy="133.97" r="0.55" fill="#c6c6c6"/><circle cx="44.47" cy="136.60" r="0.55" fill="#c6c6c6"/><circle cx="45.30" cy="138.40" r="0.55" fill="#c6c6c6"/><circle cx="43.76" cy="134.92" r="0.55" fill="#c6c6c6"/><circle cx="44.99" cy="138.92" r="0.55" fill="#c6c6c6"/><circle cx="45.29" cy="137.32" r="0.55" fill="#c6c6c6"/><circle cx="44.66" cy="136.70" r="0.55" fill="#c6c6c6"/><circle cx="43.22" cy="134.02" r="0.55" fill="#c6c6c6"/><circle cx="46.56" cy="136.42" r="0.55" fill="#c6c6c6"/><circle cx="46.26" cy="137.44" r="0.55" fill="#c6c6c6"/><circle cx="41.40" cy="127.96" r="0.55" fill="#c6c6c6"/><circle cx="48.90" cy="133.91" r="0.55" fill="#c6c6c6"/><circle cx="41.39" cy="132.39" r="0.55" fill="#c6c6c6"/><circle cx="40.51" cy="130.11" r="0.55" fill="#c6c6c6"/><circle cx="43.60" cy="135.16" r="0.55" fill="#c6c6c6"/><circle cx="40.55" cy="132.52" r="0.55" fill="#c6c6c6"/><circle cx="48.51" cy="137.85" r="0.55" fill="#c6c6c6"/><circle cx="45.12" cy="137.27" r="0.55" fill="#c6c6c6"/><circle cx="40.14" cy="128.72" r="0.55" fill="#c6c6c6"/><circle cx="46.06" cy="137.56" r="0.55" fill="#c6c6c6"/><circle cx="43.66" cy="138.10" r="0.55" fill="#c6c6c6"/><circle cx="48.17" cy="134.36" r="0.55" fill="#c6c6c6"/><circle cx="48.16" cy="135.03" r="0.55" fill="#c6c6c6"/><circle cx="50.08" cy="131.10" r="0.55" fill="#c6c6c6"/><circle cx="47.40" cy="136.92" r="0.55" fill="#c6c6c6"/><circle cx="45.06" cy="138.22" r="0.55" fill="#c6c6c6"/><circle cx="48.64" cy="137.58" r="0.55" fill="#c6c6c6"/><circle cx="52.17" cy="127.74" r="0.55" fill="#c6c6c6"/><circle cx="42.20" cy="130.62" r="0.55" fill="#c6c6c6"/><circle cx="41.61" cy="134.89" r="0.55" fill="#c6c6c6"/><circle cx="48.41" cy="132.56" r="0.55" fill="#c6c6c6"/><circle cx="40.55" cy="135.96" r="0.55" fill="#c6c6c6"/><circle cx="43.58" cy="133.96" r="0.55" fill="#c6c6c6"/><circle cx="48.48" cy="131.33" r="0.55" fill="#c6c6c6"/><circle cx="48.45" cy="139.21" r="0.55" fill="#c6c6c6"/><circle cx="46.12" cy="138.01" r="0.55" fill="#c6c6c6"/><circle cx="48.37" cy="137.80" r="0.55" fill="#c6c6c6"/><circle cx="50.06" cy="132.40" r="0.55" fill="#c6c6c6"/><circle cx="42.90" cy="135.12" r="0.55" fill="#c6c6c6"/><circle cx="45.30" cy="139.05" r="0.55" fill="#c6c6c6"/><circle cx="45.59" cy="138.08" r="0.55" fill="#c6c6c6"/><circle cx="44.87" cy="136.38" r="0.55" fill="#c6c6c6"/><circle cx="49.07" cy="129.80" r="0.55" fill="#c6c6c6"/><circle cx="44.17" cy="137.03" r="0.55" fill="#c6c6c6"/><circle cx="46.35" cy="136.36" r="0.55" fill="#c6c6c6"/><circle cx="47.49" cy="134.07" r="0.55" fill="#c6c6c6"/><circle cx="44.92" cy="137.74" r="0.55" fill="#c6c6c6"/><circle cx="44.35" cy="135.32" r="0.55" fill="#c6c6c6"/><circle cx="46.32" cy="136.29" r="0.55" fill="#c6c6c6"/><circle cx="47.19" cy="137.40" r="0.55" fill="#c6c6c6"/><circle cx="49.78" cy="128.81" r="0.55" fill="#c6c6c6"/><circle cx="47.28" cy="134.91" r="0.55" fill="#c6c6c6"/><circle cx="46.43" cy="137.66" r="0.55" fill="#c6c6c6"/><circle cx="50.57" cy="128.51" r="0.55" fill="#c6c6c6"/><circle cx="42.74" cy="136.85" r="0.55" fill="#c6c6c6"/><circle cx="43.85" cy="135.92" r="0.55" fill="#c6c6c6"/><circle cx="39.86" cy="136.08" r="0.55" fill="#c6c6c6"/><circle cx="46.42" cy="136.64" r="0.55" fill="#c6c6c6"/><circle cx="48.37" cy="136.31" r="0.55" fill="#c6c6c6"/><circle cx="46.88" cy="135.89" r="0.55" fill="#c6c6c6"/><circle cx="47.87" cy="133.44" r="0.55" fill="#c6c6c6"/><circle cx="43.18" cy="132.71" r="0.55" fill="#c6c6c6"/><circle cx="48.96" cy="132.48" r="0.55" fill="#c6c6c6"/><circle cx="46.34" cy="136.38" r="0.55" fill="#c6c6c6"/><circle cx="48.36" cy="133.10" r="0.55" fill="#c6c6c6"/><circle cx="45.36" cy="138.86" r="0.55" fill="#c6c6c6"/><circle cx="49.94" cy="127.71" r="0.55" fill="#c6c6c6"/><circle cx="42.86" cy="133.92" r="0.55" fill="#c6c6c6"/><circle cx="47.27" cy="138.47" r="0.55" fill="#c6c6c6"/><circle cx="44.19" cy="137.26" r="0.55" fill="#c6c6c6"/><circle cx="44.70" cy="136.27" r="0.55" fill="#c6c6c6"/><circle cx="47.97" cy="133.40" r="0.55" fill="#c6c6c6"/><circle cx="47.21" cy="137.08" r="0.55" fill="#c6c6c6"/><circle cx="45.39" cy="138.65" r="0.55" fill="#c6c6c6"/><circle cx="49.47" cy="129.39" r="0.55" fill="#c6c6c6"/><circle cx="46.75" cy="136.75" r="0.55" fill="#c6c6c6"/><circle cx="45.97" cy="137.47" r="0.55" fill="#c6c6c6"/><circle cx="41.24" cy="131.54" r="0.55" fill="#c6c6c6"/><circle cx="50.26" cy="134.84" r="0.55" fill="#c6c6c6"/><circle cx="42.28" cy="134.28" r="0.55" fill="#c6c6c6"/><circle cx="44.65" cy="136.52" r="0.55" fill="#c6c6c6"/><circle cx="46.72" cy="136.67" r="0.55" fill="#c6c6c6"/><circle cx="42.75" cy="131.95" r="0.55" fill="#c6c6c6"/><circle cx="44.68" cy="135.90" r="0.55" fill="#c6c6c6"/><circle cx="42.94" cy="136.62" r="0.55" fill="#c6c6c6"/><circle cx="46.34" cy="137.04" r="0.55" fill="#c6c6c6"/><circle cx="44.39" cy="137.54" r="0.55" fill="#c6c6c6"/><circle cx="41.58" cy="129.82" r="0.55" fill="#c6c6c6"/><circle cx="47.77" cy="133.64" r="0.55" fill="#c6c6c6"/><circle cx="46.31" cy="138.09" r="0.55" fill="#c6c6c6"/><circle cx="49.23" cy="132.08" r="0.55" fill="#c6c6c6"/><circle cx="45.28" cy="137.80" r="0.55" fill="#c6c6c6"/><circle cx="46.03" cy="137.40" r="0.55" fill="#c6c6c6"/><circle cx="40.97" cy="134.86" r="0.55" fill="#c6c6c6"/><circle cx="43.54" cy="137.29" r="0.55" fill="#c6c6c6"/><circle cx="49.26" cy="133.19" r="0.55" fill="#c6c6c6"/><circle cx="46.39" cy="137.35" r="0.55" fill="#c6c6c6"/><circle cx="45.62" cy="139.02" r="0.55" fill="#c6c6c6"/><circle cx="50.98" cy="125.89" r="0.55" fill="#c6c6c6"/><circle cx="42.87" cy="132.49" r="0.55" fill="#c6c6c6"/><circle cx="44.57" cy="137.71" r="0.55" fill="#c6c6c6"/><circle cx="47.48" cy="138.43" r="0.55" fill="#c6c6c6"/><circle cx="47.93" cy="135.86" r="0.55" fill="#c6c6c6"/><circle cx="43.57" cy="136.53" r="0.55" fill="#c6c6c6"/><circle cx="43.69" cy="135.02" r="0.55" fill="#c6c6c6"/><circle cx="50.40" cy="134.85" r="0.55" fill="#c6c6c6"/><circle cx="48.74" cy="135.41" r="0.55" fill="#c6c6c6"/><circle cx="48.31" cy="132.32" r="0.55" fill="#c6c6c6"/><circle cx="49.61" cy="129.83" r="0.55" fill="#c6c6c6"/><circle cx="48.67" cy="134.57" r="0.55" fill="#c6c6c6"/><circle cx="47.10" cy="137.35" r="0.55" fill="#c6c6c6"/><circle cx="46.83" cy="136.54" r="0.55" fill="#c6c6c6"/><circle cx="45.88" cy="137.64" r="0.55" fill="#c6c6c6"/><circle cx="47.57" cy="135.54" r="0.55" fill="#c6c6c6"/><circle cx="45.89" cy="137.64" r="0.55" fill="#c6c6c6"/><circle cx="48.02" cy="132.67" r="0.55" fill="#c6c6c6"/><circle cx="46.53" cy="138.21" r="0.55" fill="#c6c6c6"/><circle cx="44.20" cy="136.52" r="0.55" fill="#c6c6c6"/><circle cx="47.48" cy="138.06" r="0.55" fill="#c6c6c6"/><circle cx="55.06" cy="126.75" r="0.55" fill="#c6c6c6"/><circle cx="48.00" cy="133.43" r="0.55" fill="#c6c6c6"/><circle cx="46.29" cy="137.23" r="0.55" fill="#c6c6c6"/><circle cx="48.13" cy="136.16" r="0.55" fill="#c6c6c6"/><circle cx="39.77" cy="131.25" r="0.55" fill="#c6c6c6"/><circle cx="47.57" cy="136.17" r="0.55" fill="#c6c6c6"/><circle cx="49.81" cy="137.65" r="0.55" fill="#c6c6c6"/><circle cx="45.58" cy="138.53" r="0.55" fill="#c6c6c6"/><circle cx="45.46" cy="138.45" r="0.55" fill="#c6c6c6"/><circle cx="45.25" cy="137.59" r="0.55" fill="#c6c6c6"/><circle cx="48.47" cy="131.69" r="0.55" fill="#c6c6c6"/><circle cx="43.24" cy="134.91" r="0.55" fill="#c6c6c6"/><circle cx="41.85" cy="133.53" r="0.55" fill="#c6c6c6"/><circle cx="49.36" cy="130.41" r="0.55" fill="#c6c6c6"/><circle cx="46.58" cy="137.98" r="0.55" fill="#c6c6c6"/><circle cx="48.53" cy="133.48" r="0.55" fill="#c6c6c6"/><circle cx="46.99" cy="137.46" r="0.55" fill="#c6c6c6"/><circle cx="47.63" cy="135.39" r="0.55" fill="#c6c6c6"/><circle cx="44.94" cy="136.44" r="0.55" fill="#c6c6c6"/><circle cx="48.85" cy="132.09" r="0.55" fill="#c6c6c6"/><circle cx="47.25" cy="136.35" r="0.55" fill="#c6c6c6"/><circle cx="44.60" cy="138.53" r="0.55" fill="#c6c6c6"/><circle cx="45.08" cy="138.13" r="0.55" fill="#c6c6c6"/><circle cx="43.57" cy="138.74" r="0.55" fill="#c6c6c6"/><circle cx="46.92" cy="136.75" r="0.55" fill="#c6c6c6"/><circle cx="48.00" cy="132.58" r="0.55" fill="#c6c6c6"/><circle cx="45.55" cy="138.54" r="0.55" fill="#c6c6c6"/><circle cx="43.88" cy="137.54" r="0.55" fill="#c6c6c6"/><circle cx="48.44" cy="132.38" r="0.55" fill="#c6c6c6"/><circle cx="45.01" cy="137.08" r="0.55" fill="#c6c6c6"/><circle cx="46.50" cy="137.56" r="0.55" fill="#c6c6c6"/><circle cx="45.72" cy="138.42" r="0.55" fill="#c6c6c6"/><circle cx="51.00" cy="132.02" r="0.55" fill="#c6c6c6"/><circle cx="48.89" cy="131.43" r="0.55" fill="#c6c6c6"/><circle cx="45.10" cy="137.88" r="0.55" fill="#c6c6c6"/><circle cx="45.91" cy="138.44" r="0.55" fill="#c6c6c6"/><circle cx="47.56" cy="134.90" r="0.55" fill="#c6c6c6"/><circle cx="46.43" cy="138.89" r="0.55" fill="#c6c6c6"/><circle cx="44.91" cy="137.27" r="0.55" fill="#c6c6c6"/><circle cx="48.72" cy="136.64" r="0.55" fill="#c6c6c6"/><circle cx="45.45" cy="137.94" r="0.55" fill="#c6c6c6"/><circle cx="43.95" cy="135.19" r="0.55" fill="#c6c6c6"/><circle cx="47.16" cy="136.96" r="0.55" fill="#c6c6c6"/><circle cx="47.53" cy="134.47" r="0.55" fill="#c6c6c6"/><circle cx="43.75" cy="134.05" r="0.55" fill="#c6c6c6"/><circle cx="47.56" cy="136.84" r="0.55" fill="#c6c6c6"/><circle cx="45.36" cy="138.56" r="0.55" fill="#c6c6c6"/><circle cx="48.49" cy="138.09" r="0.55" fill="#c6c6c6"/><circle cx="49.90" cy="131.05" r="0.55" fill="#c6c6c6"/><circle cx="46.63" cy="135.99" r="0.55" fill="#c6c6c6"/><circle cx="48.33" cy="133.12" r="0.55" fill="#c6c6c6"/><circle cx="45.67" cy="137.92" r="0.55" fill="#c6c6c6"/><circle cx="46.92" cy="135.80" r="0.55" fill="#c6c6c6"/><circle cx="50.17" cy="127.35" r="0.55" fill="#c6c6c6"/><circle cx="47.40" cy="135.04" r="0.55" fill="#c6c6c6"/><circle cx="44.53" cy="138.39" r="0.55" fill="#c6c6c6"/><circle cx="43.54" cy="138.14" r="0.55" fill="#c6c6c6"/><circle cx="47.24" cy="136.36" r="0.55" fill="#c6c6c6"/><circle cx="44.49" cy="137.46" r="0.55" fill="#c6c6c6"/><circle cx="48.90" cy="136.25" r="0.55" fill="#c6c6c6"/><circle cx="43.45" cy="137.10" r="0.55" fill="#c6c6c6"/><circle cx="47.84" cy="134.08" r="0.55" fill="#c6c6c6"/><circle cx="46.11" cy="137.99" r="0.55" fill="#c6c6c6"/><circle cx="47.25" cy="136.17" r="0.55" fill="#c6c6c6"/><circle cx="48.17" cy="133.27" r="0.55" fill="#c6c6c6"/><circle cx="49.01" cy="132.66" r="0.55" fill="#c6c6c6"/><circle cx="45.84" cy="138.24" r="0.55" fill="#c6c6c6"/><circle cx="45.46" cy="138.41" r="0.55" fill="#c6c6c6"/><circle cx="48.63" cy="137.80" r="0.55" fill="#c6c6c6"/><circle cx="47.12" cy="136.07" r="0.55" fill="#c6c6c6"/><circle cx="43.35" cy="135.88" r="0.55" fill="#c6c6c6"/><circle cx="44.42" cy="137.49" r="0.55" fill="#c6c6c6"/><circle cx="48.56" cy="131.45" r="0.55" fill="#c6c6c6"/><circle cx="46.40" cy="137.01" r="0.55" fill="#c6c6c6"/><circle cx="45.72" cy="138.73" r="0.55" fill="#c6c6c6"/><circle cx="50.14" cy="131.56" r="0.55" fill="#c6c6c6"/><circle cx="40.86" cy="132.40" r="0.55" fill="#c6c6c6"/><circle cx="41.45" cy="131.22" r="0.55" fill="#c6c6c6"/><circle cx="50.49" cy="129.45" r="0.55" fill="#c6c6c6"/><circle cx="44.34" cy="136.06" r="0.55" fill="#c6c6c6"/><circle cx="43.59" cy="136.47" r="0.55" fill="#c6c6c6"/><circle cx="47.55" cy="133.95" r="0.55" fill="#c6c6c6"/><circle cx="48.01" cy="132.62" r="0.55" fill="#c6c6c6"/><circle cx="44.16" cy="138.63" r="0.55" fill="#c6c6c6"/><circle cx="48.20" cy="135.58" r="0.55" fill="#c6c6c6"/><circle cx="48.51" cy="134.81" r="0.55" fill="#c6c6c6"/><circle cx="47.59" cy="137.04" r="0.55" fill="#c6c6c6"/><circle cx="45.80" cy="138.57" r="0.55" fill="#c6c6c6"/><circle cx="45.16" cy="139.26" r="0.55" fill="#c6c6c6"/><circle cx="44.19" cy="136.06" r="0.55" fill="#c6c6c6"/><circle cx="44.41" cy="136.59" r="0.55" fill="#c6c6c6"/><circle cx="47.30" cy="135.16" r="0.55" fill="#c6c6c6"/><circle cx="42.32" cy="132.82" r="0.55" fill="#c6c6c6"/><circle cx="44.87" cy="136.58" r="0.55" fill="#c6c6c6"/><circle cx="48.48" cy="134.95" r="0.55" fill="#c6c6c6"/><circle cx="45.54" cy="137.97" r="0.55" fill="#c6c6c6"/><circle cx="44.32" cy="135.79" r="0.55" fill="#c6c6c6"/><circle cx="50.09" cy="129.67" r="0.55" fill="#c6c6c6"/><circle cx="51.07" cy="134.50" r="0.55" fill="#c6c6c6"/><circle cx="44.86" cy="137.00" r="0.55" fill="#c6c6c6"/><circle cx="42.46" cy="134.44" r="0.55" fill="#c6c6c6"/><circle cx="46.24" cy="137.97" r="0.55" fill="#c6c6c6"/><circle cx="46.00" cy="138.35" r="0.55" fill="#c6c6c6"/><circle cx="42.60" cy="135.61" r="0.55" fill="#c6c6c6"/><circle cx="45.24" cy="137.86" r="0.55" fill="#c6c6c6"/><circle cx="47.57" cy="137.56" r="0.55" fill="#c6c6c6"/><circle cx="46.99" cy="138.12" r="0.55" fill="#c6c6c6"/><circle cx="46.43" cy="136.64" r="0.55" fill="#c6c6c6"/><circle cx="48.34" cy="132.57" r="0.55" fill="#c6c6c6"/><circle cx="48.01" cy="134.74" r="0.55" fill="#c6c6c6"/><circle cx="48.93" cy="130.75" r="0.55" fill="#c6c6c6"/><circle cx="50.78" cy="136.93" r="0.55" fill="#c6c6c6"/><circle cx="45.95" cy="137.45" r="0.55" fill="#c6c6c6"/><circle cx="49.33" cy="133.45" r="0.55" fill="#c6c6c6"/><circle cx="45.58" cy="138.21" r="0.55" fill="#c6c6c6"/><circle cx="43.96" cy="136.63" r="0.55" fill="#c6c6c6"/><circle cx="43.67" cy="133.96" r="0.55" fill="#c6c6c6"/><circle cx="50.08" cy="128.54" r="0.55" fill="#c6c6c6"/><circle cx="43.38" cy="133.93" r="0.55" fill="#c6c6c6"/><circle cx="44.83" cy="136.95" r="0.55" fill="#c6c6c6"/><circle cx="48.46" cy="136.96" r="0.55" fill="#c6c6c6"/><circle cx="41.67" cy="133.32" r="0.55" fill="#c6c6c6"/><circle cx="45.05" cy="138.36" r="0.55" fill="#c6c6c6"/><circle cx="44.27" cy="138.96" r="0.55" fill="#c6c6c6"/><circle cx="40.35" cy="125.65" r="0.55" fill="#c6c6c6"/><circle cx="42.65" cy="136.79" r="0.55" fill="#c6c6c6"/><circle cx="44.92" cy="137.09" r="0.55" fill="#c6c6c6"/><circle cx="43.35" cy="135.46" r="0.55" fill="#c6c6c6"/><circle cx="53.63" cy="136.89" r="0.55" fill="#c6c6c6"/><circle cx="42.65" cy="132.45" r="0.55" fill="#c6c6c6"/><circle cx="46.63" cy="137.53" r="0.55" fill="#c6c6c6"/><circle cx="46.58" cy="136.28" r="0.55" fill="#c6c6c6"/><circle cx="47.43" cy="136.38" r="0.55" fill="#c6c6c6"/><circle cx="45.97" cy="139.05" r="0.55" fill="#c6c6c6"/><circle cx="42.95" cy="135.06" r="0.55" fill="#c6c6c6"/><circle cx="45.18" cy="138.17" r="0.55" fill="#c6c6c6"/><circle cx="47.68" cy="136.35" r="0.55" fill="#c6c6c6"/><circle cx="40.99" cy="132.25" r="0.55" fill="#c6c6c6"/><circle cx="42.54" cy="130.75" r="0.55" fill="#c6c6c6"/><circle cx="42.84" cy="134.80" r="0.55" fill="#c6c6c6"/><circle cx="44.83" cy="136.55" r="0.55" fill="#c6c6c6"/><circle cx="42.75" cy="136.73" r="0.55" fill="#c6c6c6"/><circle cx="46.63" cy="135.70" r="0.55" fill="#c6c6c6"/><circle cx="47.20" cy="137.06" r="0.55" fill="#c6c6c6"/><circle cx="44.63" cy="137.46" r="0.55" fill="#c6c6c6"/><circle cx="46.13" cy="139.06" r="0.55" fill="#c6c6c6"/><circle cx="44.61" cy="136.54" r="0.55" fill="#c6c6c6"/><circle cx="45.40" cy="138.49" r="0.55" fill="#c6c6c6"/><circle cx="46.47" cy="137.45" r="0.55" fill="#c6c6c6"/><circle cx="49.18" cy="134.90" r="0.55" fill="#c6c6c6"/><circle cx="46.99" cy="134.99" r="0.55" fill="#c6c6c6"/><circle cx="46.35" cy="137.78" r="0.55" fill="#c6c6c6"/><circle cx="47.58" cy="135.39" r="0.55" fill="#c6c6c6"/><circle cx="46.86" cy="134.99" r="0.55" fill="#c6c6c6"/><circle cx="47.68" cy="135.24" r="0.55" fill="#c6c6c6"/><circle cx="51.36" cy="130.60" r="0.55" fill="#c6c6c6"/><circle cx="47.00" cy="138.46" r="0.55" fill="#c6c6c6"/><circle cx="43.42" cy="134.73" r="0.55" fill="#c6c6c6"/><circle cx="43.89" cy="136.80" r="0.55" fill="#c6c6c6"/><circle cx="42.79" cy="131.57" r="0.55" fill="#c6c6c6"/><circle cx="51.91" cy="130.24" r="0.55" fill="#c6c6c6"/><circle cx="39.32" cy="126.07" r="0.55" fill="#c6c6c6"/><circle cx="45.76" cy="139.11" r="0.55" fill="#c6c6c6"/><circle cx="44.32" cy="137.80" r="0.55" fill="#c6c6c6"/><circle cx="46.83" cy="137.01" r="0.55" fill="#c6c6c6"/><circle cx="46.77" cy="135.84" r="0.55" fill="#c6c6c6"/><circle cx="44.80" cy="139.09" r="0.55" fill="#c6c6c6"/><circle cx="49.13" cy="135.47" r="0.55" fill="#c6c6c6"/><circle cx="46.43" cy="137.07" r="0.55" fill="#c6c6c6"/><circle cx="45.92" cy="137.49" r="0.55" fill="#c6c6c6"/><circle cx="47.22" cy="136.32" r="0.55" fill="#c6c6c6"/><circle cx="41.66" cy="129.87" r="0.55" fill="#c6c6c6"/><circle cx="48.25" cy="131.71" r="0.55" fill="#c6c6c6"/><circle cx="41.84" cy="136.69" r="0.55" fill="#c6c6c6"/><circle cx="48.71" cy="132.20" r="0.55" fill="#c6c6c6"/><circle cx="45.16" cy="138.28" r="0.55" fill="#c6c6c6"/><circle cx="46.54" cy="136.76" r="0.55" fill="#c6c6c6"/><circle cx="45.70" cy="138.67" r="0.55" fill="#c6c6c6"/><circle cx="43.99" cy="135.30" r="0.55" fill="#c6c6c6"/><circle cx="47.75" cy="133.62" r="0.55" fill="#c6c6c6"/><circle cx="43.42" cy="135.80" r="0.55" fill="#c6c6c6"/><circle cx="49.00" cy="134.90" r="0.55" fill="#c6c6c6"/><circle cx="48.05" cy="137.56" r="0.55" fill="#c6c6c6"/><circle cx="44.65" cy="137.46" r="0.55" fill="#c6c6c6"/><circle cx="45.93" cy="137.57" r="0.55" fill="#c6c6c6"/><circle cx="44.12" cy="135.93" r="0.55" fill="#c6c6c6"/><circle cx="45.29" cy="138.77" r="0.55" fill="#c6c6c6"/><circle cx="44.46" cy="138.05" r="0.55" fill="#c6c6c6"/><circle cx="44.29" cy="139.03" r="0.55" fill="#c6c6c6"/><circle cx="48.41" cy="133.98" r="0.55" fill="#c6c6c6"/><circle cx="44.02" cy="135.80" r="0.55" fill="#c6c6c6"/><circle cx="47.42" cy="133.80" r="0.55" fill="#c6c6c6"/><circle cx="47.63" cy="136.18" r="0.55" fill="#c6c6c6"/><circle cx="51.52" cy="126.84" r="0.55" fill="#c6c6c6"/><circle cx="52.41" cy="130.41" r="0.55" fill="#c6c6c6"/><circle cx="51.20" cy="124.89" r="0.55" fill="#c6c6c6"/><circle cx="46.57" cy="136.37" r="0.55" fill="#c6c6c6"/><circle cx="48.82" cy="136.10" r="0.55" fill="#c6c6c6"/><circle cx="45.42" cy="137.63" r="0.55" fill="#c6c6c6"/><circle cx="50.16" cy="133.10" r="0.55" fill="#c6c6c6"/><circle cx="47.09" cy="134.47" r="0.55" fill="#c6c6c6"/><circle cx="48.41" cy="136.74" r="0.55" fill="#c6c6c6"/><circle cx="44.23" cy="135.79" r="0.55" fill="#c6c6c6"/><circle cx="44.00" cy="137.28" r="0.55" fill="#c6c6c6"/><circle cx="41.70" cy="129.60" r="0.55" fill="#c6c6c6"/><circle cx="42.15" cy="132.06" r="0.55" fill="#c6c6c6"/><circle cx="42.43" cy="136.88" r="0.55" fill="#c6c6c6"/><circle cx="45.92" cy="137.46" r="0.55" fill="#c6c6c6"/><circle cx="44.90" cy="136.98" r="0.55" fill="#c6c6c6"/><circle cx="43.19" cy="135.10" r="0.55" fill="#c6c6c6"/><circle cx="44.52" cy="136.45" r="0.55" fill="#c6c6c6"/><circle cx="47.36" cy="135.36" r="0.55" fill="#c6c6c6"/><circle cx="45.32" cy="137.82" r="0.55" fill="#c6c6c6"/><circle cx="45.96" cy="137.98" r="0.55" fill="#c6c6c6"/><circle cx="42.92" cy="131.90" r="0.55" fill="#c6c6c6"/><circle cx="43.96" cy="137.61" r="0.55" fill="#c6c6c6"/><circle cx="37.47" cy="127.00" r="0.55" fill="#c6c6c6"/><circle cx="47.73" cy="136.11" r="0.55" fill="#c6c6c6"/><circle cx="45.33" cy="138.18" r="0.55" fill="#c6c6c6"/><circle cx="37.68" cy="125.75" r="0.55" fill="#c6c6c6"/><circle cx="51.92" cy="129.67" r="0.55" fill="#c6c6c6"/><circle cx="52.05" cy="133.12" r="0.55" fill="#c6c6c6"/><circle cx="48.18" cy="132.09" r="0.55" fill="#c6c6c6"/><circle cx="42.64" cy="131.79" r="0.55" fill="#c6c6c6"/><circle cx="47.01" cy="134.65" r="0.55" fill="#c6c6c6"/><circle cx="42.85" cy="137.77" r="0.55" fill="#c6c6c6"/><circle cx="49.03" cy="135.15" r="0.55" fill="#c6c6c6"/><circle cx="42.84" cy="132.33" r="0.55" fill="#c6c6c6"/><circle cx="42.73" cy="131.79" r="0.55" fill="#c6c6c6"/><circle cx="47.01" cy="137.55" r="0.55" fill="#c6c6c6"/><circle cx="45.29" cy="138.88" r="0.55" fill="#c6c6c6"/><circle cx="49.95" cy="131.06" r="0.55" fill="#c6c6c6"/><circle cx="46.77" cy="137.55" r="0.55" fill="#c6c6c6"/><circle cx="42.89" cy="132.48" r="0.55" fill="#c6c6c6"/><circle cx="48.95" cy="132.79" r="0.55" fill="#c6c6c6"/><circle cx="42.26" cy="130.53" r="0.55" fill="#c6c6c6"/><circle cx="46.49" cy="137.43" r="0.55" fill="#c6c6c6"/><circle cx="44.50" cy="138.31" r="0.55" fill="#c6c6c6"/><circle cx="48.52" cy="131.70" r="0.55" fill="#c6c6c6"/><circle cx="46.61" cy="135.97" r="0.55" fill="#c6c6c6"/><circle cx="47.33" cy="136.22" r="0.55" fill="#c6c6c6"/><circle cx="47.21" cy="134.63" r="0.55" fill="#c6c6c6"/><circle cx="41.59" cy="137.05" r="0.55" fill="#c6c6c6"/><circle cx="42.02" cy="129.47" r="0.55" fill="#c6c6c6"/><circle cx="47.08" cy="134.83" r="0.55" fill="#c6c6c6"/><circle cx="49.79" cy="129.91" r="0.55" fill="#c6c6c6"/><circle cx="47.37" cy="135.95" r="0.55" fill="#c6c6c6"/><circle cx="49.92" cy="138.35" r="0.55" fill="#c6c6c6"/><circle cx="44.74" cy="136.76" r="0.55" fill="#c6c6c6"/><circle cx="48.07" cy="135.95" r="0.55" fill="#c6c6c6"/><circle cx="42.62" cy="136.27" r="0.55" fill="#c6c6c6"/><circle cx="43.45" cy="137.42" r="0.55" fill="#c6c6c6"/><circle cx="44.95" cy="138.47" r="0.55" fill="#c6c6c6"/><circle cx="43.11" cy="137.30" r="0.55" fill="#c6c6c6"/><circle cx="49.58" cy="133.45" r="0.55" fill="#c6c6c6"/><circle cx="44.65" cy="137.96" r="0.55" fill="#c6c6c6"/><circle cx="50.28" cy="128.86" r="0.55" fill="#c6c6c6"/><circle cx="45.89" cy="138.23" r="0.55" fill="#c6c6c6"/><circle cx="44.98" cy="138.42" r="0.55" fill="#c6c6c6"/><circle cx="48.67" cy="132.73" r="0.55" fill="#c6c6c6"/><circle cx="41.45" cy="132.71" r="0.55" fill="#c6c6c6"/><circle cx="48.37" cy="134.34" r="0.55" fill="#c6c6c6"/><circle cx="39.42" cy="131.49" r="0.55" fill="#c6c6c6"/><circle cx="45.76" cy="137.95" r="0.55" fill="#c6c6c6"/><circle cx="46.37" cy="137.83" r="0.55" fill="#c6c6c6"/><circle cx="49.66" cy="129.12" r="0.55" fill="#c6c6c6"/><circle cx="44.79" cy="136.74" r="0.55" fill="#c6c6c6"/><circle cx="51.33" cy="130.10" r="0.55" fill="#c6c6c6"/><circle cx="48.54" cy="132.31" r="0.55" fill="#c6c6c6"/><circle cx="44.91" cy="137.14" r="0.55" fill="#c6c6c6"/><circle cx="45.07" cy="137.78" r="0.55" fill="#c6c6c6"/><circle cx="46.35" cy="137.86" r="0.55" fill="#c6c6c6"/><circle cx="39.60" cy="132.24" r="0.55" fill="#c6c6c6"/><circle cx="48.53" cy="132.60" r="0.55" fill="#c6c6c6"/><circle cx="45.05" cy="137.77" r="0.55" fill="#c6c6c6"/><circle cx="44.19" cy="137.91" r="0.55" fill="#c6c6c6"/><circle cx="47.70" cy="135.53" r="0.55" fill="#c6c6c6"/><circle cx="44.74" cy="137.54" r="0.55" fill="#c6c6c6"/><circle cx="48.35" cy="133.55" r="0.55" fill="#c6c6c6"/><circle cx="41.14" cy="130.95" r="0.55" fill="#c6c6c6"/><circle cx="50.82" cy="136.07" r="0.55" fill="#c6c6c6"/><circle cx="49.48" cy="133.51" r="0.55" fill="#c6c6c6"/><circle cx="42.89" cy="133.18" r="0.55" fill="#c6c6c6"/><circle cx="49.18" cy="134.08" r="0.55" fill="#c6c6c6"/><circle cx="51.46" cy="137.76" r="0.55" fill="#c6c6c6"/><circle cx="41.97" cy="131.69" r="0.55" fill="#c6c6c6"/><circle cx="43.45" cy="135.22" r="0.55" fill="#c6c6c6"/><circle cx="46.53" cy="137.53" r="0.55" fill="#c6c6c6"/><circle cx="44.22" cy="134.78" r="0.55" fill="#c6c6c6"/><circle cx="42.70" cy="131.16" r="0.55" fill="#c6c6c6"/><circle cx="40.69" cy="113.61" r="0.5" fill="#3b7dc4"/><circle cx="42.62" cy="114.02" r="0.5" fill="#3b7dc4"/><circle cx="40.58" cy="123.97" r="0.5" fill="#3b7dc4"/><circle cx="36.00" cy="122.06" r="0.5" fill="#3b7dc4"/><circle cx="40.31" cy="122.03" r="0.5" fill="#3b7dc4"/><circle cx="41.00" cy="110.93" r="0.5" fill="#3b7dc4"/><circle cx="42.23" cy="122.57" r="0.5" fill="#3b7dc4"/><circle cx="40.83" cy="119.41" r="0.5" fill="#3b7dc4"/><circle cx="42.67" cy="122.07" r="0.5" fill="#3b7dc4"/><circle cx="41.87" cy="114.81" r="0.5" fill="#3b7dc4"/><circle cx="40.33" cy="121.57" r="0.5" fill="#3b7dc4"/><circle cx="40.39" cy="114.23" r="0.5" fill="#3b7dc4"/><circle cx="42.30" cy="122.93" r="0.5" fill="#3b7dc4"/><circle cx="39.23" cy="119.59" r="0.5" fill="#3b7dc4"/><circle cx="38.72" cy="115.01" r="0.5" fill="#3b7dc4"/><circle cx="42.32" cy="110.35" r="0.5" fill="#3b7dc4"/><circle cx="40.85" cy="117.44" r="0.5" fill="#3b7dc4"/><circle cx="42.43" cy="116.12" r="0.5" fill="#3b7dc4"/><circle cx="39.98" cy="121.11" r="0.5" fill="#3b7dc4"/><circle cx="40.42" cy="118.19" r="0.5" fill="#3b7dc4"/><circle cx="40.86" cy="123.07" r="0.5" fill="#3b7dc4"/><circle cx="40.86" cy="123.64" r="0.5" fill="#3b7dc4"/><circle cx="41.03" cy="113.87" r="0.5" fill="#3b7dc4"/><circle cx="42.59" cy="120.76" r="0.5" fill="#3b7dc4"/><circle cx="42.14" cy="121.40" r="0.5" fill="#3b7dc4"/><circle cx="42.37" cy="117.51" r="0.5" fill="#3b7dc4"/><circle cx="40.62" cy="113.40" r="0.5" fill="#3b7dc4"/><circle cx="41.91" cy="123.24" r="0.5" fill="#3b7dc4"/><circle cx="42.03" cy="109.60" r="0.5" fill="#3b7dc4"/><circle cx="41.77" cy="116.82" r="0.5" fill="#3b7dc4"/><circle cx="40.39" cy="113.53" r="0.5" fill="#3b7dc4"/><circle cx="41.17" cy="111.02" r="0.5" fill="#3b7dc4"/><circle cx="42.46" cy="122.34" r="0.5" fill="#3b7dc4"/><circle cx="42.56" cy="111.28" r="0.5" fill="#3b7dc4"/><circle cx="42.41" cy="122.31" r="0.5" fill="#3b7dc4"/><circle cx="39.53" cy="118.63" r="0.5" fill="#3b7dc4"/><circle cx="41.75" cy="120.26" r="0.5" fill="#3b7dc4"/><circle cx="42.54" cy="108.86" r="0.5" fill="#3b7dc4"/><circle cx="40.27" cy="124.27" r="0.5" fill="#3b7dc4"/><circle cx="39.64" cy="119.91" r="0.5" fill="#3b7dc4"/><circle cx="41.33" cy="123.23" r="0.5" fill="#3b7dc4"/><circle cx="41.97" cy="110.49" r="0.5" fill="#3b7dc4"/><circle cx="41.60" cy="115.02" r="0.5" fill="#3b7dc4"/><circle cx="40.65" cy="112.87" r="0.5" fill="#3b7dc4"/><circle cx="40.24" cy="118.42" r="0.5" fill="#3b7dc4"/><circle cx="41.85" cy="110.90" r="0.5" fill="#3b7dc4"/><circle cx="41.37" cy="114.01" r="0.5" fill="#3b7dc4"/><circle cx="41.66" cy="120.95" r="0.5" fill="#3b7dc4"/><circle cx="41.27" cy="117.94" r="0.5" fill="#3b7dc4"/><circle cx="41.13" cy="119.74" r="0.5" fill="#3b7dc4"/><circle cx="40.71" cy="124.19" r="0.5" fill="#3b7dc4"/><circle cx="41.78" cy="112.05" r="0.5" fill="#3b7dc4"/><circle cx="40.42" cy="117.66" r="0.5" fill="#3b7dc4"/><circle cx="41.78" cy="118.73" r="0.5" fill="#3b7dc4"/><circle cx="42.56" cy="118.69" r="0.5" fill="#3b7dc4"/><circle cx="41.80" cy="120.03" r="0.5" fill="#3b7dc4"/><circle cx="41.26" cy="114.00" r="0.5" fill="#3b7dc4"/><circle cx="42.57" cy="116.77" r="0.5" fill="#3b7dc4"/><circle cx="40.65" cy="111.79" r="0.5" fill="#3b7dc4"/><circle cx="42.60" cy="124.75" r="0.5" fill="#3b7dc4"/><circle cx="38.42" cy="121.22" r="0.5" fill="#3b7dc4"/><circle cx="39.86" cy="117.53" r="0.5" fill="#3b7dc4"/><circle cx="41.55" cy="115.74" r="0.5" fill="#3b7dc4"/><circle cx="41.46" cy="116.13" r="0.5" fill="#3b7dc4"/><circle cx="41.77" cy="116.95" r="0.5" fill="#3b7dc4"/><circle cx="40.53" cy="114.81" r="0.5" fill="#3b7dc4"/><circle cx="41.87" cy="120.96" r="0.5" fill="#3b7dc4"/><circle cx="42.42" cy="120.44" r="0.5" fill="#3b7dc4"/><circle cx="42.11" cy="111.21" r="0.5" fill="#3b7dc4"/><circle cx="40.67" cy="119.41" r="0.5" fill="#3b7dc4"/><circle cx="42.04" cy="123.52" r="0.5" fill="#3b7dc4"/><circle cx="39.73" cy="113.00" r="0.5" fill="#3b7dc4"/><circle cx="41.83" cy="119.97" r="0.5" fill="#3b7dc4"/><circle cx="41.14" cy="113.13" r="0.5" fill="#3b7dc4"/><circle cx="42.02" cy="123.97" r="0.5" fill="#3b7dc4"/><circle cx="39.89" cy="115.46" r="0.5" fill="#3b7dc4"/><circle cx="40.01" cy="117.96" r="0.5" fill="#3b7dc4"/><circle cx="41.88" cy="110.50" r="0.5" fill="#3b7dc4"/><circle cx="42.44" cy="109.54" r="0.5" fill="#3b7dc4"/><circle cx="42.39" cy="112.58" r="0.5" fill="#3b7dc4"/><circle cx="42.53" cy="112.68" r="0.5" fill="#3b7dc4"/><circle cx="42.61" cy="117.89" r="0.5" fill="#3b7dc4"/><circle cx="40.23" cy="113.08" r="0.5" fill="#3b7dc4"/><circle cx="37.46" cy="124.23" r="0.5" fill="#3b7dc4"/><circle cx="42.29" cy="112.72" r="0.5" fill="#3b7dc4"/><circle cx="40.57" cy="119.80" r="0.5" fill="#3b7dc4"/><circle cx="40.66" cy="123.27" r="0.5" fill="#3b7dc4"/><circle cx="42.02" cy="119.84" r="0.5" fill="#3b7dc4"/><circle cx="42.64" cy="122.93" r="0.5" fill="#3b7dc4"/><circle cx="41.94" cy="111.86" r="0.5" fill="#3b7dc4"/><circle cx="41.43" cy="123.19" r="0.5" fill="#3b7dc4"/><circle cx="40.51" cy="123.29" r="0.5" fill="#3b7dc4"/><circle cx="40.86" cy="117.09" r="0.5" fill="#3b7dc4"/><circle cx="38.04" cy="116.24" r="0.5" fill="#3b7dc4"/><circle cx="42.21" cy="116.27" r="0.5" fill="#3b7dc4"/><circle cx="40.68" cy="113.47" r="0.5" fill="#3b7dc4"/><circle cx="39.77" cy="119.14" r="0.5" fill="#3b7dc4"/><circle cx="39.83" cy="124.48" r="0.5" fill="#3b7dc4"/><circle cx="40.92" cy="115.45" r="0.5" fill="#3b7dc4"/><circle cx="41.90" cy="110.45" r="0.5" fill="#3b7dc4"/><circle cx="39.62" cy="120.26" r="0.5" fill="#3b7dc4"/><circle cx="42.59" cy="111.91" r="0.5" fill="#3b7dc4"/><circle cx="40.08" cy="122.76" r="0.5" fill="#3b7dc4"/><circle cx="40.67" cy="116.92" r="0.5" fill="#3b7dc4"/><circle cx="42.16" cy="122.25" r="0.5" fill="#3b7dc4"/><circle cx="40.93" cy="119.97" r="0.5" fill="#3b7dc4"/><circle cx="40.65" cy="119.60" r="0.5" fill="#3b7dc4"/><circle cx="41.38" cy="116.42" r="0.5" fill="#3b7dc4"/><circle cx="41.67" cy="116.01" r="0.5" fill="#3b7dc4"/><circle cx="41.12" cy="118.00" r="0.5" fill="#3b7dc4"/><circle cx="40.92" cy="115.12" r="0.5" fill="#3b7dc4"/><circle cx="42.50" cy="121.01" r="0.5" fill="#3b7dc4"/><circle cx="42.49" cy="115.39" r="0.5" fill="#3b7dc4"/><circle cx="39.44" cy="121.88" r="0.5" fill="#3b7dc4"/><circle cx="39.24" cy="120.61" r="0.5" fill="#3b7dc4"/><circle cx="41.23" cy="114.50" r="0.5" fill="#3b7dc4"/><circle cx="40.15" cy="117.74" r="0.5" fill="#3b7dc4"/><circle cx="41.56" cy="110.23" r="0.5" fill="#3b7dc4"/><circle cx="40.83" cy="118.14" r="0.5" fill="#3b7dc4"/><circle cx="41.51" cy="121.41" r="0.5" fill="#3b7dc4"/><circle cx="42.70" cy="119.71" r="0.5" fill="#3b7dc4"/><circle cx="41.78" cy="111.87" r="0.5" fill="#3b7dc4"/><circle cx="39.65" cy="118.09" r="0.5" fill="#3b7dc4"/><circle cx="42.03" cy="116.18" r="0.5" fill="#3b7dc4"/><circle cx="42.14" cy="109.73" r="0.5" fill="#3b7dc4"/><circle cx="41.71" cy="113.22" r="0.5" fill="#3b7dc4"/><circle cx="42.40" cy="112.06" r="0.5" fill="#3b7dc4"/><circle cx="41.85" cy="121.49" r="0.5" fill="#3b7dc4"/><circle cx="41.93" cy="115.36" r="0.5" fill="#3b7dc4"/><circle cx="40.33" cy="123.29" r="0.5" fill="#3b7dc4"/><circle cx="42.47" cy="110.08" r="0.5" fill="#3b7dc4"/><circle cx="40.05" cy="113.25" r="0.5" fill="#3b7dc4"/><circle cx="42.00" cy="109.94" r="0.5" fill="#3b7dc4"/><circle cx="40.93" cy="114.82" r="0.5" fill="#3b7dc4"/><circle cx="41.70" cy="113.81" r="0.5" fill="#3b7dc4"/><circle cx="38.84" cy="122.05" r="0.5" fill="#3b7dc4"/><circle cx="42.72" cy="115.82" r="0.5" fill="#3b7dc4"/><circle cx="42.31" cy="120.76" r="0.5" fill="#3b7dc4"/><circle cx="42.30" cy="122.74" r="0.5" fill="#3b7dc4"/><circle cx="41.23" cy="117.86" r="0.5" fill="#3b7dc4"/><circle cx="42.48" cy="120.29" r="0.5" fill="#3b7dc4"/><circle cx="41.07" cy="117.63" r="0.5" fill="#3b7dc4"/><circle cx="41.88" cy="111.54" r="0.5" fill="#3b7dc4"/><circle cx="41.86" cy="111.64" r="0.5" fill="#3b7dc4"/><circle cx="40.75" cy="114.81" r="0.5" fill="#3b7dc4"/><circle cx="41.11" cy="117.24" r="0.5" fill="#3b7dc4"/><circle cx="40.28" cy="114.84" r="0.5" fill="#3b7dc4"/><circle cx="38.88" cy="122.09" r="0.5" fill="#3b7dc4"/><circle cx="38.23" cy="121.36" r="0.5" fill="#3b7dc4"/><circle cx="41.12" cy="113.62" r="0.5" fill="#3b7dc4"/><circle cx="42.49" cy="118.76" r="0.5" fill="#3b7dc4"/><circle cx="40.50" cy="115.17" r="0.5" fill="#3b7dc4"/><circle cx="40.46" cy="117.38" r="0.5" fill="#3b7dc4"/><circle cx="41.88" cy="119.46" r="0.5" fill="#3b7dc4"/><circle cx="42.16" cy="123.10" r="0.5" fill="#3b7dc4"/><circle cx="37.79" cy="116.46" r="0.5" fill="#3b7dc4"/><circle cx="42.29" cy="110.30" r="0.5" fill="#3b7dc4"/><circle cx="42.06" cy="123.25" r="0.5" fill="#3b7dc4"/><circle cx="41.78" cy="109.70" r="0.5" fill="#3b7dc4"/><circle cx="42.31" cy="119.86" r="0.5" fill="#3b7dc4"/><circle cx="42.22" cy="114.18" r="0.5" fill="#3b7dc4"/><circle cx="42.20" cy="123.78" r="0.5" fill="#3b7dc4"/><circle cx="40.12" cy="112.39" r="0.5" fill="#3b7dc4"/><circle cx="42.23" cy="113.86" r="0.5" fill="#3b7dc4"/><circle cx="40.53" cy="117.91" r="0.5" fill="#3b7dc4"/><circle cx="39.91" cy="123.91" r="0.5" fill="#3b7dc4"/><circle cx="41.44" cy="117.07" r="0.5" fill="#3b7dc4"/><circle cx="42.50" cy="119.02" r="0.5" fill="#3b7dc4"/><circle cx="41.37" cy="114.51" r="0.5" fill="#3b7dc4"/><circle cx="42.71" cy="117.84" r="0.5" fill="#3b7dc4"/><circle cx="41.90" cy="117.30" r="0.5" fill="#3b7dc4"/><circle cx="42.65" cy="115.54" r="0.5" fill="#3b7dc4"/><circle cx="40.15" cy="123.15" r="0.5" fill="#3b7dc4"/><circle cx="42.27" cy="120.02" r="0.5" fill="#3b7dc4"/><circle cx="41.10" cy="111.48" r="0.5" fill="#3b7dc4"/><circle cx="40.01" cy="112.66" r="0.5" fill="#3b7dc4"/><circle cx="38.32" cy="116.45" r="0.5" fill="#3b7dc4"/><circle cx="41.29" cy="111.26" r="0.5" fill="#3b7dc4"/><circle cx="40.38" cy="117.13" r="0.5" fill="#3b7dc4"/><circle cx="42.42" cy="113.64" r="0.5" fill="#3b7dc4"/><circle cx="40.59" cy="112.32" r="0.5" fill="#3b7dc4"/><circle cx="40.90" cy="123.66" r="0.5" fill="#3b7dc4"/><circle cx="37.62" cy="124.59" r="0.5" fill="#3b7dc4"/><circle cx="42.10" cy="123.09" r="0.5" fill="#3b7dc4"/><circle cx="39.25" cy="124.59" r="0.5" fill="#3b7dc4"/><circle cx="38.99" cy="124.52" r="0.5" fill="#3b7dc4"/><circle cx="41.23" cy="117.35" r="0.5" fill="#3b7dc4"/><circle cx="40.00" cy="117.62" r="0.5" fill="#3b7dc4"/><circle cx="42.55" cy="124.85" r="0.5" fill="#3b7dc4"/><circle cx="39.04" cy="124.12" r="0.5" fill="#3b7dc4"/><circle cx="41.21" cy="112.85" r="0.5" fill="#3b7dc4"/><circle cx="37.41" cy="121.47" r="0.5" fill="#3b7dc4"/><circle cx="41.76" cy="124.64" r="0.5" fill="#3b7dc4"/><circle cx="41.11" cy="113.88" r="0.5" fill="#3b7dc4"/><circle cx="42.51" cy="116.18" r="0.5" fill="#3b7dc4"/><circle cx="40.03" cy="120.66" r="0.5" fill="#3b7dc4"/><circle cx="41.70" cy="121.30" r="0.5" fill="#3b7dc4"/><circle cx="40.73" cy="112.82" r="0.5" fill="#3b7dc4"/><circle cx="42.20" cy="120.81" r="0.5" fill="#3b7dc4"/><circle cx="41.69" cy="117.59" r="0.5" fill="#3b7dc4"/><circle cx="42.33" cy="121.00" r="0.5" fill="#3b7dc4"/><circle cx="40.93" cy="115.71" r="0.5" fill="#3b7dc4"/><circle cx="42.56" cy="120.64" r="0.5" fill="#3b7dc4"/><circle cx="40.26" cy="113.55" r="0.5" fill="#3b7dc4"/><circle cx="42.13" cy="120.07" r="0.5" fill="#3b7dc4"/><circle cx="41.37" cy="120.03" r="0.5" fill="#3b7dc4"/><circle cx="42.27" cy="112.12" r="0.5" fill="#3b7dc4"/><circle cx="39.71" cy="118.37" r="0.5" fill="#3b7dc4"/><circle cx="39.68" cy="121.93" r="0.5" fill="#3b7dc4"/><circle cx="41.09" cy="121.76" r="0.5" fill="#3b7dc4"/><circle cx="37.44" cy="121.75" r="0.5" fill="#3b7dc4"/><circle cx="39.57" cy="120.66" r="0.5" fill="#3b7dc4"/><circle cx="37.47" cy="121.60" r="0.5" fill="#3b7dc4"/><circle cx="39.44" cy="123.29" r="0.5" fill="#3b7dc4"/><circle cx="41.85" cy="119.64" r="0.5" fill="#3b7dc4"/><circle cx="39.29" cy="115.90" r="0.5" fill="#3b7dc4"/><circle cx="41.51" cy="116.02" r="0.5" fill="#3b7dc4"/><circle cx="41.57" cy="113.74" r="0.5" fill="#3b7dc4"/><circle cx="39.01" cy="124.71" r="0.5" fill="#3b7dc4"/><circle cx="42.15" cy="116.91" r="0.5" fill="#3b7dc4"/><circle cx="42.17" cy="110.26" r="0.5" fill="#3b7dc4"/><circle cx="42.21" cy="122.56" r="0.5" fill="#3b7dc4"/><circle cx="41.57" cy="110.45" r="0.5" fill="#3b7dc4"/><circle cx="38.72" cy="115.15" r="0.5" fill="#3b7dc4"/><circle cx="40.16" cy="123.06" r="0.5" fill="#3b7dc4"/><circle cx="38.79" cy="117.33" r="0.5" fill="#3b7dc4"/><circle cx="41.47" cy="122.85" r="0.5" fill="#3b7dc4"/><circle cx="42.27" cy="113.92" r="0.5" fill="#3b7dc4"/><circle cx="40.30" cy="112.55" r="0.5" fill="#3b7dc4"/><circle cx="40.52" cy="118.82" r="0.5" fill="#3b7dc4"/><circle cx="49.08" cy="121.15" r="0.5" fill="#c8393b"/><circle cx="49.10" cy="112.11" r="0.5" fill="#c8393b"/><circle cx="49.47" cy="120.32" r="0.5" fill="#c8393b"/><circle cx="48.96" cy="124.19" r="0.5" fill="#c8393b"/><circle cx="48.86" cy="123.16" r="0.5" fill="#c8393b"/><circle cx="49.50" cy="117.99" r="0.5" fill="#c8393b"/><circle cx="50.62" cy="116.10" r="0.5" fill="#c8393b"/><circle cx="49.04" cy="117.66" r="0.5" fill="#c8393b"/><circle cx="49.15" cy="121.85" r="0.5" fill="#c8393b"/><circle cx="48.71" cy="123.78" r="0.5" fill="#c8393b"/><circle cx="49.54" cy="112.86" r="0.5" fill="#c8393b"/><circle cx="51.17" cy="119.45" r="0.5" fill="#c8393b"/><circle cx="49.30" cy="117.30" r="0.5" fill="#c8393b"/><circle cx="49.78" cy="121.14" r="0.5" fill="#c8393b"/><circle cx="49.70" cy="119.00" r="0.5" fill="#c8393b"/><circle cx="52.90" cy="119.82" r="0.5" fill="#c8393b"/><circle cx="49.57" cy="122.39" r="0.5" fill="#c8393b"/><circle cx="50.06" cy="113.28" r="0.5" fill="#c8393b"/><circle cx="48.86" cy="114.25" r="0.5" fill="#c8393b"/><circle cx="48.53" cy="119.11" r="0.5" fill="#c8393b"/><circle cx="49.45" cy="122.60" r="0.5" fill="#c8393b"/><circle cx="48.81" cy="114.56" r="0.5" fill="#c8393b"/><circle cx="48.56" cy="121.72" r="0.5" fill="#c8393b"/><circle cx="48.81" cy="113.69" r="0.5" fill="#c8393b"/><circle cx="50.97" cy="119.74" r="0.5" fill="#c8393b"/><circle cx="48.50" cy="122.23" r="0.5" fill="#c8393b"/><circle cx="49.93" cy="124.35" r="0.5" fill="#c8393b"/><circle cx="48.62" cy="121.15" r="0.5" fill="#c8393b"/><circle cx="49.69" cy="118.82" r="0.5" fill="#c8393b"/><circle cx="49.60" cy="116.81" r="0.5" fill="#c8393b"/><circle cx="49.14" cy="112.90" r="0.5" fill="#c8393b"/><circle cx="49.95" cy="117.64" r="0.5" fill="#c8393b"/><circle cx="50.33" cy="119.39" r="0.5" fill="#c8393b"/><circle cx="49.54" cy="120.55" r="0.5" fill="#c8393b"/><circle cx="49.55" cy="112.72" r="0.5" fill="#c8393b"/><circle cx="49.12" cy="113.30" r="0.5" fill="#c8393b"/><circle cx="49.23" cy="118.04" r="0.5" fill="#c8393b"/><circle cx="49.17" cy="111.58" r="0.5" fill="#c8393b"/><circle cx="48.73" cy="114.67" r="0.5" fill="#c8393b"/><circle cx="49.50" cy="121.80" r="0.5" fill="#c8393b"/><circle cx="49.35" cy="112.31" r="0.5" fill="#c8393b"/><circle cx="48.98" cy="120.96" r="0.5" fill="#c8393b"/><circle cx="50.62" cy="120.87" r="0.5" fill="#c8393b"/><circle cx="49.97" cy="117.93" r="0.5" fill="#c8393b"/><circle cx="52.35" cy="120.17" r="0.5" fill="#c8393b"/><circle cx="48.55" cy="119.43" r="0.5" fill="#c8393b"/><circle cx="50.48" cy="121.72" r="0.5" fill="#c8393b"/><circle cx="48.50" cy="116.59" r="0.5" fill="#c8393b"/><circle cx="49.77" cy="123.72" r="0.5" fill="#c8393b"/><circle cx="49.88" cy="118.64" r="0.5" fill="#c8393b"/><circle cx="50.91" cy="114.10" r="0.5" fill="#c8393b"/><circle cx="48.76" cy="120.93" r="0.5" fill="#c8393b"/><circle cx="49.15" cy="114.05" r="0.5" fill="#c8393b"/><circle cx="48.74" cy="121.56" r="0.5" fill="#c8393b"/><circle cx="49.94" cy="121.70" r="0.5" fill="#c8393b"/><circle cx="51.17" cy="115.16" r="0.5" fill="#c8393b"/><circle cx="50.28" cy="118.22" r="0.5" fill="#c8393b"/><circle cx="48.53" cy="111.27" r="0.5" fill="#c8393b"/><circle cx="50.44" cy="121.45" r="0.5" fill="#c8393b"/><circle cx="48.61" cy="112.87" r="0.5" fill="#c8393b"/><circle cx="50.05" cy="122.45" r="0.5" fill="#c8393b"/><circle cx="48.51" cy="121.77" r="0.5" fill="#c8393b"/><circle cx="50.04" cy="112.82" r="0.5" fill="#c8393b"/><circle cx="51.14" cy="114.98" r="0.5" fill="#c8393b"/><circle cx="49.69" cy="115.77" r="0.5" fill="#c8393b"/><circle cx="51.28" cy="116.29" r="0.5" fill="#c8393b"/><circle cx="48.82" cy="113.48" r="0.5" fill="#c8393b"/><circle cx="49.49" cy="120.91" r="0.5" fill="#c8393b"/><circle cx="48.62" cy="124.54" r="0.5" fill="#c8393b"/><circle cx="52.31" cy="120.17" r="0.5" fill="#c8393b"/><circle cx="50.15" cy="117.45" r="0.5" fill="#c8393b"/><circle cx="51.00" cy="114.87" r="0.5" fill="#c8393b"/><circle cx="50.72" cy="124.13" r="0.5" fill="#c8393b"/><circle cx="49.49" cy="116.16" r="0.5" fill="#c8393b"/><circle cx="52.23" cy="116.77" r="0.5" fill="#c8393b"/><circle cx="51.56" cy="121.69" r="0.5" fill="#c8393b"/><circle cx="49.51" cy="114.99" r="0.5" fill="#c8393b"/><circle cx="50.90" cy="113.92" r="0.5" fill="#c8393b"/><circle cx="49.12" cy="115.01" r="0.5" fill="#c8393b"/><circle cx="49.10" cy="124.07" r="0.5" fill="#c8393b"/><circle cx="50.45" cy="115.65" r="0.5" fill="#c8393b"/><circle cx="50.64" cy="114.84" r="0.5" fill="#c8393b"/><circle cx="52.20" cy="118.90" r="0.5" fill="#c8393b"/><circle cx="50.21" cy="118.93" r="0.5" fill="#c8393b"/><circle cx="49.68" cy="124.57" r="0.5" fill="#c8393b"/><circle cx="49.54" cy="122.77" r="0.5" fill="#c8393b"/><circle cx="48.83" cy="115.74" r="0.5" fill="#c8393b"/><circle cx="49.66" cy="114.93" r="0.5" fill="#c8393b"/><circle cx="49.19" cy="120.61" r="0.5" fill="#c8393b"/><circle cx="50.42" cy="121.65" r="0.5" fill="#c8393b"/><circle cx="49.43" cy="115.85" r="0.5" fill="#c8393b"/><circle cx="50.76" cy="114.21" r="0.5" fill="#c8393b"/><circle cx="50.38" cy="114.08" r="0.5" fill="#c8393b"/><circle cx="51.90" cy="122.03" r="0.5" fill="#c8393b"/><circle cx="50.75" cy="113.97" r="0.5" fill="#c8393b"/><circle cx="49.19" cy="114.44" r="0.5" fill="#c8393b"/><circle cx="49.17" cy="117.82" r="0.5" fill="#c8393b"/><circle cx="49.68" cy="118.62" r="0.5" fill="#c8393b"/><circle cx="51.80" cy="119.57" r="0.5" fill="#c8393b"/><circle cx="49.23" cy="118.52" r="0.5" fill="#c8393b"/><circle cx="48.53" cy="122.00" r="0.5" fill="#c8393b"/><circle cx="49.78" cy="117.51" r="0.5" fill="#c8393b"/><circle cx="48.57" cy="123.86" r="0.5" fill="#c8393b"/><circle cx="50.00" cy="124.22" r="0.5" fill="#c8393b"/><circle cx="49.77" cy="112.84" r="0.5" fill="#c8393b"/><circle cx="50.13" cy="117.08" r="0.5" fill="#c8393b"/><circle cx="49.98" cy="121.95" r="0.5" fill="#c8393b"/><circle cx="49.38" cy="118.60" r="0.5" fill="#c8393b"/><circle cx="49.32" cy="119.11" r="0.5" fill="#c8393b"/><circle cx="48.70" cy="115.17" r="0.5" fill="#c8393b"/><circle cx="48.65" cy="115.76" r="0.5" fill="#c8393b"/><circle cx="50.65" cy="114.11" r="0.5" fill="#c8393b"/><circle cx="49.55" cy="117.84" r="0.5" fill="#c8393b"/><circle cx="49.23" cy="111.49" r="0.5" fill="#c8393b"/><circle cx="49.57" cy="114.95" r="0.5" fill="#c8393b"/><circle cx="48.67" cy="124.06" r="0.5" fill="#c8393b"/><circle cx="49.75" cy="121.40" r="0.5" fill="#c8393b"/><circle cx="50.23" cy="116.21" r="0.5" fill="#c8393b"/><circle cx="48.70" cy="114.02" r="0.5" fill="#c8393b"/><circle cx="49.96" cy="116.83" r="0.5" fill="#c8393b"/><circle cx="49.00" cy="118.93" r="0.5" fill="#c8393b"/><circle cx="50.30" cy="123.59" r="0.5" fill="#c8393b"/><circle cx="52.68" cy="117.16" r="0.5" fill="#c8393b"/><circle cx="49.15" cy="124.11" r="0.5" fill="#c8393b"/><circle cx="49.70" cy="116.00" r="0.5" fill="#c8393b"/><circle cx="49.07" cy="118.90" r="0.5" fill="#c8393b"/><circle cx="49.73" cy="117.57" r="0.5" fill="#c8393b"/><circle cx="49.78" cy="115.44" r="0.5" fill="#c8393b"/><circle cx="50.51" cy="116.93" r="0.5" fill="#c8393b"/><circle cx="49.90" cy="117.17" r="0.5" fill="#c8393b"/><circle cx="51.06" cy="123.46" r="0.5" fill="#c8393b"/><circle cx="49.26" cy="124.13" r="0.5" fill="#c8393b"/><circle cx="48.79" cy="123.84" r="0.5" fill="#c8393b"/><circle cx="48.53" cy="119.25" r="0.5" fill="#c8393b"/><circle cx="49.27" cy="112.13" r="0.5" fill="#c8393b"/><circle cx="48.64" cy="112.75" r="0.5" fill="#c8393b"/><circle cx="50.75" cy="121.29" r="0.5" fill="#c8393b"/><circle cx="48.67" cy="110.92" r="0.5" fill="#c8393b"/><circle cx="49.54" cy="122.00" r="0.5" fill="#c8393b"/><circle cx="49.48" cy="113.55" r="0.5" fill="#c8393b"/><circle cx="50.24" cy="120.07" r="0.5" fill="#c8393b"/><circle cx="48.58" cy="112.18" r="0.5" fill="#c8393b"/><circle cx="48.62" cy="114.78" r="0.5" fill="#c8393b"/><circle cx="51.50" cy="120.25" r="0.5" fill="#c8393b"/><circle cx="49.70" cy="119.08" r="0.5" fill="#c8393b"/><circle cx="49.85" cy="120.90" r="0.5" fill="#c8393b"/><circle cx="49.73" cy="121.00" r="0.5" fill="#c8393b"/><circle cx="49.72" cy="115.02" r="0.5" fill="#c8393b"/><circle cx="50.34" cy="114.41" r="0.5" fill="#c8393b"/><circle cx="49.02" cy="118.64" r="0.5" fill="#c8393b"/><circle cx="51.08" cy="114.25" r="0.5" fill="#c8393b"/><circle cx="51.05" cy="116.29" r="0.5" fill="#c8393b"/><circle cx="50.56" cy="116.28" r="0.5" fill="#c8393b"/><circle cx="49.96" cy="121.19" r="0.5" fill="#c8393b"/><circle cx="49.16" cy="116.01" r="0.5" fill="#c8393b"/><circle cx="52.60" cy="119.00" r="0.5" fill="#c8393b"/><circle cx="50.76" cy="122.31" r="0.5" fill="#c8393b"/><circle cx="49.47" cy="114.79" r="0.5" fill="#c8393b"/><circle cx="53.11" cy="122.11" r="0.5" fill="#c8393b"/><circle cx="49.65" cy="115.73" r="0.5" fill="#c8393b"/><circle cx="50.24" cy="115.66" r="0.5" fill="#c8393b"/><circle cx="48.67" cy="121.18" r="0.5" fill="#c8393b"/><circle cx="49.39" cy="119.61" r="0.5" fill="#c8393b"/><circle cx="49.27" cy="111.60" r="0.5" fill="#c8393b"/><circle cx="49.72" cy="124.10" r="0.5" fill="#c8393b"/><circle cx="52.04" cy="119.30" r="0.5" fill="#c8393b"/><circle cx="49.89" cy="119.97" r="0.5" fill="#c8393b"/><circle cx="51.42" cy="118.72" r="0.5" fill="#c8393b"/><circle cx="49.16" cy="114.78" r="0.5" fill="#c8393b"/><circle cx="51.29" cy="118.74" r="0.5" fill="#c8393b"/><circle cx="48.51" cy="116.78" r="0.5" fill="#c8393b"/><circle cx="51.15" cy="119.00" r="0.5" fill="#c8393b"/><circle cx="49.40" cy="114.58" r="0.5" fill="#c8393b"/><circle cx="48.56" cy="120.21" r="0.5" fill="#c8393b"/><circle cx="49.10" cy="121.13" r="0.5" fill="#c8393b"/><circle cx="52.62" cy="119.90" r="0.5" fill="#c8393b"/><circle cx="50.45" cy="122.90" r="0.5" fill="#c8393b"/><circle cx="48.84" cy="116.14" r="0.5" fill="#c8393b"/><circle cx="50.46" cy="121.47" r="0.5" fill="#c8393b"/><circle cx="50.05" cy="114.96" r="0.5" fill="#c8393b"/><circle cx="49.32" cy="116.82" r="0.5" fill="#c8393b"/><circle cx="48.94" cy="118.51" r="0.5" fill="#c8393b"/><circle cx="53.64" cy="120.68" r="0.5" fill="#c8393b"/><circle cx="49.46" cy="112.38" r="0.5" fill="#c8393b"/><circle cx="50.21" cy="123.96" r="0.5" fill="#c8393b"/><circle cx="50.78" cy="121.48" r="0.5" fill="#c8393b"/><circle cx="49.42" cy="113.97" r="0.5" fill="#c8393b"/><circle cx="50.92" cy="120.65" r="0.5" fill="#c8393b"/><circle cx="48.72" cy="117.28" r="0.5" fill="#c8393b"/><circle cx="50.07" cy="124.57" r="0.5" fill="#c8393b"/><circle cx="50.24" cy="123.08" r="0.5" fill="#c8393b"/><circle cx="50.25" cy="121.13" r="0.5" fill="#c8393b"/><circle cx="51.25" cy="122.21" r="0.5" fill="#c8393b"/><circle cx="51.34" cy="122.99" r="0.5" fill="#c8393b"/><circle cx="49.02" cy="113.98" r="0.5" fill="#c8393b"/><circle cx="48.97" cy="114.69" r="0.5" fill="#c8393b"/><circle cx="48.66" cy="115.00" r="0.5" fill="#c8393b"/><circle cx="50.45" cy="124.53" r="0.5" fill="#c8393b"/><circle cx="49.90" cy="122.23" r="0.5" fill="#c8393b"/><circle cx="51.55" cy="117.68" r="0.5" fill="#c8393b"/><circle cx="27.67" cy="102.41" r="0.55" fill="#3b7dc4"/><circle cx="33.43" cy="96.31" r="0.55" fill="#3b7dc4"/><circle cx="37.91" cy="97.28" r="0.55" fill="#3b7dc4"/><circle cx="32.36" cy="107.86" r="0.55" fill="#3b7dc4"/><circle cx="29.80" cy="116.52" r="0.55" fill="#3b7dc4"/><circle cx="27.24" cy="117.16" r="0.55" fill="#3b7dc4"/><circle cx="31.72" cy="124.06" r="0.55" fill="#3b7dc4"/><circle cx="34.28" cy="122.46" r="0.55" fill="#3b7dc4"/><circle cx="35.35" cy="113.32" r="0.55" fill="#3b7dc4"/><circle cx="36.63" cy="104.81" r="0.55" fill="#3b7dc4"/><circle cx="30.87" cy="112.19" r="0.55" fill="#3b7dc4"/><circle cx="33.00" cy="118.77" r="0.55" fill="#3b7dc4"/><circle cx="35.99" cy="101.61" r="0.55" fill="#3b7dc4"/><circle cx="38.98" cy="102.09" r="0.55" fill="#3b7dc4"/><circle cx="39.62" cy="104.33" r="0.55" fill="#3b7dc4"/><circle cx="28.95" cy="123.58" r="0.55" fill="#3b7dc4"/><circle cx="34.71" cy="115.56" r="0.55" fill="#3b7dc4"/><circle cx="37.27" cy="109.14" r="0.55" fill="#3b7dc4"/><circle cx="50.08" cy="104.01" r="0.55" fill="#c8393b"/><circle cx="59.26" cy="108.34" r="0.55" fill="#c8393b"/><circle cx="59.48" cy="116.04" r="0.55" fill="#c8393b"/><circle cx="55.42" cy="119.25" r="0.55" fill="#c8393b"/><circle cx="60.33" cy="123.90" r="0.55" fill="#c8393b"/><circle cx="57.34" cy="121.98" r="0.55" fill="#c8393b"/><circle cx="53.71" cy="112.83" r="0.55" fill="#c8393b"/><circle cx="56.06" cy="110.11" r="0.55" fill="#c8393b"/><circle cx="51.79" cy="106.90" r="0.55" fill="#c8393b"/><circle cx="58.20" cy="120.37" r="0.55" fill="#c8393b"/><circle cx="54.57" cy="116.68" r="0.55" fill="#c8393b"/>
<line x1="23.70" y1="96.30" x2="23.70" y2="139.70" stroke="#231f20" stroke-width="0.7" />
<line x1="23.40" y1="139.30" x2="77.00" y2="139.30" stroke="#231f20" stroke-width="0.7" />
<line x1="21.90" y1="139.30" x2="23.70" y2="139.30" stroke="#231f20" stroke-width="0.6" />
<text x="21.30" y="141.40" font-size="6.0" text-anchor="end" >0</text>
<line x1="21.90" y1="131.28" x2="23.70" y2="131.28" stroke="#231f20" stroke-width="0.6" />
<text x="21.30" y="133.38" font-size="6.0" text-anchor="end" >5</text>
<line x1="21.90" y1="123.26" x2="23.70" y2="123.26" stroke="#231f20" stroke-width="0.6" />
<text x="21.30" y="125.36" font-size="6.0" text-anchor="end" >10</text>
<line x1="21.90" y1="115.24" x2="23.70" y2="115.24" stroke="#231f20" stroke-width="0.6" />
<text x="21.30" y="117.34" font-size="6.0" text-anchor="end" >15</text>
<line x1="21.90" y1="107.22" x2="23.70" y2="107.22" stroke="#231f20" stroke-width="0.6" />
<text x="21.30" y="109.32" font-size="6.0" text-anchor="end" >20</text>
<line x1="21.90" y1="99.20" x2="23.70" y2="99.20" stroke="#231f20" stroke-width="0.6" />
<text x="21.30" y="101.30" font-size="6.0" text-anchor="end" >25</text>
<line x1="24.25" y1="139.30" x2="24.25" y2="141.10" stroke="#231f20" stroke-width="0.6" />
<text x="24.25" y="147.40" font-size="6.0" text-anchor="middle" >−10</text>
<line x1="34.92" y1="139.30" x2="34.92" y2="141.10" stroke="#231f20" stroke-width="0.6" />
<text x="34.92" y="147.40" font-size="6.0" text-anchor="middle" >−5</text>
<line x1="45.60" y1="139.30" x2="45.60" y2="141.10" stroke="#231f20" stroke-width="0.6" />
<text x="45.60" y="147.40" font-size="6.0" text-anchor="middle" >0</text>
<line x1="56.28" y1="139.30" x2="56.28" y2="141.10" stroke="#231f20" stroke-width="0.6" />
<text x="56.28" y="147.40" font-size="6.0" text-anchor="middle" >5</text>
<line x1="66.95" y1="139.30" x2="66.95" y2="141.10" stroke="#231f20" stroke-width="0.6" />
<text x="66.95" y="147.40" font-size="6.0" text-anchor="middle" >10</text>
<text x="36.80" y="157.00" font-size="7.0" >log<tspan font-size="4.6" dy="1.6">2</tspan><tspan dy="-1.6">(FC)</tspan></text>
<text x="6.2" y="117.5" font-size="6.9" text-anchor="middle" transform="rotate(-90 6.2 117.5)">−log<tspan font-size="4.6" dy="1.6">10</tspan><tspan dy="-1.6">(</tspan><tspan font-style="italic">P</tspan> value)</text>
<line x1="88.00" y1="119.40" x2="72.30" y2="119.40" stroke="#4c5a7a" stroke-width="1.0" />
<path d="M69.60,119.40 L72.80,117.64 L72.80,121.16 Z" fill="#4c5a7a"/>
<line x1="183.20" y1="8.80" x2="183.20" y2="31.00" stroke="#a5a7aa" stroke-width="0.6" />
<rect x="174.20" y="22.30" width="5.20" height="12.20" fill="#e2e3e5" rx="0.8"/>
<rect x="174.80" y="19.30" width="4.00" height="4.50" fill="#c9cacc" rx="1.5"/>
<rect x="175.40" y="27.30" width="1.20" height="3.20" fill="#b9bbbe" />
<rect x="177.00" y="27.30" width="1.20" height="3.20" fill="#b9bbbe" />
<rect x="184.20" y="15.10" width="6.70" height="14.70" fill="#e2e3e5" rx="0.8"/>
<rect x="184.80" y="12.10" width="5.50" height="4.50" fill="#c9cacc" rx="1.5"/>
<rect x="185.40" y="20.10" width="1.20" height="5.70" fill="#b9bbbe" />
<rect x="188.50" y="20.10" width="1.20" height="5.70" fill="#b9bbbe" />
<rect x="190.90" y="24.70" width="5.70" height="16.00" fill="#e2e3e5" rx="0.8"/>
<rect x="191.50" y="21.70" width="4.50" height="4.50" fill="#c9cacc" rx="1.5"/>
<rect x="192.10" y="29.70" width="1.20" height="7.00" fill="#b9bbbe" />
<rect x="194.20" y="29.70" width="1.20" height="7.00" fill="#b9bbbe" />
<path d="M160.9,31.2 L205.6,38.8" fill="none" stroke="#3e3e40" stroke-width="1.5" stroke-linecap="round"/>
<circle cx="161.5" cy="31.3" r="1.1" fill="#3e3e40"/><circle cx="205" cy="38.7" r="1.1" fill="#3e3e40"/>
<path d="M194.5,19.8 L186,30.5" fill="none" stroke="#3e3e40" stroke-width="1.5" stroke-linecap="round"/>
<path d="M186.8,30.2 C184,31 178,34 172.5,38 C168.5,41 166.8,45 167.3,49 C167.8,52.5 171,54 175,52.5 C179,51 181.8,46.5 183.4,41.5 C184.8,37.5 187.3,33.5 186.8,30.2 Z" fill="#4b4442" stroke="none" stroke-width="1" />
<circle cx="182.3" cy="34.4" r="0.8" fill="#c9504c"/><circle cx="178.6" cy="35.6" r="0.7" fill="#b7645e"/><circle cx="184.8" cy="37.2" r="0.7" fill="#b7645e"/>
<path d="M168.6,53 Q168.5,59.5 174,58.8 Q181,57.8 188.5,58.5" fill="none" stroke="#c27a72" stroke-width="0.8" />
<text x="160.50" y="72.20" font-size="8.6" textLength="45.1" lengthAdjust="spacingAndGlyphs" >Stereotaxic</text>
<text x="165.70" y="82.10" font-size="8.6" textLength="34.4" lengthAdjust="spacingAndGlyphs" >injection</text>
<line x1="208.80" y1="35.30" x2="269.80" y2="35.30" stroke="#4c5a7a" stroke-width="1.0" />
<path d="M272.50,35.30 L269.30,37.06 L269.30,33.54 Z" fill="#4c5a7a"/>
<text x="215.80" y="32.40" font-size="8.6" textLength="48.1" lengthAdjust="spacingAndGlyphs" >Moribundity</text>
<text x="226.00" y="43.80" font-size="8.6" textLength="29.2" lengthAdjust="spacingAndGlyphs" >13–16 h</text>
<ellipse cx="285.9" cy="18.6" rx="1.7" ry="2.3" fill="#e4b1af" stroke="#d99595" stroke-width="0.4"/>
<ellipse cx="289.2" cy="18.6" rx="1.7" ry="2.3" fill="#e4b1af" stroke="#d99595" stroke-width="0.4"/>
<path d="M285,46 L285.4,51.6 Q287.5,52.8 289.6,51.6 L290,46 Z" fill="#e4b1af" stroke="#d99595" stroke-width="0.4" />
<path d="M278.6,39 C277.8,43 281,46.2 285,46.6 L290,46.6 C294,46.2 297.2,43 296.6,39 C294,36.6 290,36.2 287.6,36.8 C285,36.2 281,36.6 278.6,39 Z" fill="#e4b1af" stroke="#d99595" stroke-width="0.45" />
<path d="M284,19.6 C281,20.6 278,25 276.5,30 C276,34 278,37.6 281.2,38.2 C284,38.4 286.5,37.5 287.6,36.6 C288.7,37.5 291.2,38.4 294,38.2 C297.2,37.6 299.2,34 298.8,30 C298,25 294.5,20.6 291.4,19.6 C290,19.2 288.6,19.6 287.6,20.6 C286.6,19.6 285.4,19.2 284,19.6 Z" fill="#e4b1af" stroke="#d99595" stroke-width="0.45" />
<path d="M287.6,20.8 L287.6,36.4 M281,40.5 Q287.6,43.2 294.3,40.5" fill="none" stroke="#d99595" stroke-width="0.45" />
<line x1="287.60" y1="56.70" x2="287.60" y2="86.10" stroke="#4c5a7a" stroke-width="1.0" />
<path d="M287.60,88.80 L285.84,85.60 L289.36,85.60 Z" fill="#4c5a7a"/>
<path d="M283.4,92.3 L296.9,92.3 Q299,96 300.9,103.4 Q290,106.5 279.5,104 Q281,97 283.4,92.3 Z" fill="#e5ebee" stroke="#d3d9dd" stroke-width="0.3" />
<ellipse cx="290.2" cy="102.3" rx="9.6" ry="3.1" fill="#caced2"/>
<path d="M288.5,94 L292,94 L291,97 Z" fill="#8d9196" stroke="none" stroke-width="1" />
<path d="M279.3,103.8 Q290,107.2 301.2,102.6 Q303.6,108 304,114 Q300,119 299.3,123 Q297.5,130 293.5,135.3 Q282,135.6 276,132.6 Q273.6,131.2 274,128 Z" fill="#4b5b97" stroke="none" stroke-width="1" />
<path d="M304,114 Q305.6,122 305.2,131.6 Q300,135.2 293.5,135.3 Q297.5,130 299.3,123 Q300,119 304,114 Z" fill="#e3e6ea" stroke="none" stroke-width="1" />
<rect x="275.20" y="111.70" width="17.20" height="14.00" fill="#e7eaed" rx="1.8"/>
<rect x="277.80" y="113.60" width="12.30" height="7.20" fill="#a0b1a9" rx="0.5"/>
<circle cx="281.1" cy="130.7" r="1.9" fill="#f2f2f2"/><circle cx="281.1" cy="130.7" r="1.25" fill="#db4c50"/>
<text x="267.00" y="145.40" font-size="8.6" textLength="50.2" lengthAdjust="spacingAndGlyphs" >Homogenize</text>
<line x1="267.60" y1="119.50" x2="213.90" y2="119.50" stroke="#4c5a7a" stroke-width="1.0" />
<path d="M211.20,119.50 L214.40,117.74 L214.40,121.26 Z" fill="#4c5a7a"/>
<rect x="178.40" y="109.60" width="22.10" height="22.50" fill="#ebc27e" rx="1.6" stroke="#d0cbc4" stroke-width="0.7"/>
<rect x="171.80" y="109.60" width="22.10" height="22.50" fill="#ebc27e" rx="1.6" stroke="#d0cbc4" stroke-width="0.7"/>
<rect x="165.10" y="109.60" width="22.10" height="22.50" fill="#ebc27e" rx="1.6" stroke="#d0cbc4" stroke-width="0.7"/>
<text x="170.10" y="145.40" font-size="8.6" textLength="27.6" lengthAdjust="spacingAndGlyphs" >Output</text>
<line x1="183.20" y1="108.20" x2="183.20" y2="88.50" stroke="#4c5a7a" stroke-width="1.0" />
<path d="M183.20,85.80 L184.96,89.00 L181.44,89.00 Z" fill="#4c5a7a"/>
<text x="190.00" y="94.90" font-size="8.4" textLength="56.5" lengthAdjust="spacingAndGlyphs" >Scrap and mix</text>
<text x="188.50" y="104.80" font-size="8.4" textLength="59.5" lengthAdjust="spacingAndGlyphs" >Repeat 3 times</text>
<text x="340.60" y="20.90" font-size="11.8" fill="#000" font-weight="bold" >b</text>
<text x="437.00" y="31.30" font-size="8.6" textLength="37.6" lengthAdjust="spacingAndGlyphs" >Moribund</text>
<line x1="384.60" y1="47.30" x2="384.60" y2="141.00" stroke="#231f20" stroke-width="0.9" />
<line x1="384.20" y1="140.60" x2="525.30" y2="140.60" stroke="#231f20" stroke-width="0.9" />
<line x1="380.40" y1="140.60" x2="384.60" y2="140.60" stroke="#231f20" stroke-width="0.8" />
<text x="374.11" y="139.80" font-size="4.48" >0</text>
<text x="374.01" y="143.47" font-size="7.0" text-anchor="end" >10</text>
<line x1="382.80" y1="132.85" x2="384.60" y2="132.85" stroke="#231f20" stroke-width="0.8" />
<line x1="380.40" y1="125.10" x2="384.60" y2="125.10" stroke="#231f20" stroke-width="0.8" />
<text x="374.11" y="124.30" font-size="4.48" >2</text>
<text x="374.01" y="127.97" font-size="7.0" text-anchor="end" >10</text>
<line x1="382.80" y1="117.35" x2="384.60" y2="117.35" stroke="#231f20" stroke-width="0.8" />
<line x1="380.40" y1="109.60" x2="384.60" y2="109.60" stroke="#231f20" stroke-width="0.8" />
<text x="374.11" y="108.80" font-size="4.48" >4</text>
<text x="374.01" y="112.47" font-size="7.0" text-anchor="end" >10</text>
<line x1="382.80" y1="101.85" x2="384.60" y2="101.85" stroke="#231f20" stroke-width="0.8" />
<line x1="380.40" y1="94.10" x2="384.60" y2="94.10" stroke="#231f20" stroke-width="0.8" />
<text x="374.11" y="93.30" font-size="4.48" >6</text>
<text x="374.01" y="96.97" font-size="7.0" text-anchor="end" >10</text>
<line x1="382.80" y1="86.35" x2="384.60" y2="86.35" stroke="#231f20" stroke-width="0.8" />
<line x1="380.40" y1="78.60" x2="384.60" y2="78.60" stroke="#231f20" stroke-width="0.8" />
<text x="374.11" y="77.80" font-size="4.48" >8</text>
<text x="374.01" y="81.47" font-size="7.0" text-anchor="end" >10</text>
<line x1="382.80" y1="70.85" x2="384.60" y2="70.85" stroke="#231f20" stroke-width="0.8" />
<line x1="380.40" y1="63.10" x2="384.60" y2="63.10" stroke="#231f20" stroke-width="0.8" />
<text x="371.62" y="62.30" font-size="4.48" >10</text>
<text x="371.52" y="65.97" font-size="7.0" text-anchor="end" >10</text>
<line x1="382.80" y1="55.35" x2="384.60" y2="55.35" stroke="#231f20" stroke-width="0.8" />
<line x1="380.40" y1="47.60" x2="384.60" y2="47.60" stroke="#231f20" stroke-width="0.8" />
<text x="371.62" y="46.80" font-size="4.48" >12</text>
<text x="371.52" y="50.47" font-size="7.0" text-anchor="end" >10</text>
<line x1="395.00" y1="140.60" x2="395.00" y2="144.60" stroke="#231f20" stroke-width="0.8" />
<text x="398.40" y="151.20" font-size="7.4" text-anchor="end" transform="rotate(-45 398.40 151.20)" >Brain</text>
<line x1="419.00" y1="140.60" x2="419.00" y2="144.60" stroke="#231f20" stroke-width="0.8" />
<text x="422.40" y="151.20" font-size="7.4" text-anchor="end" transform="rotate(-45 422.40 151.20)" >Liver</text>
<line x1="443.00" y1="140.60" x2="443.00" y2="144.60" stroke="#231f20" stroke-width="0.8" />
<text x="446.40" y="151.20" font-size="7.4" text-anchor="end" transform="rotate(-45 446.40 151.20)" >Spleen</text>
<line x1="467.00" y1="140.60" x2="467.00" y2="144.60" stroke="#231f20" stroke-width="0.8" />
<text x="470.40" y="151.20" font-size="7.4" text-anchor="end" transform="rotate(-45 470.40 151.20)" >Lung</text>
<line x1="491.00" y1="140.60" x2="491.00" y2="144.60" stroke="#231f20" stroke-width="0.8" />
<text x="494.40" y="151.20" font-size="7.4" text-anchor="end" transform="rotate(-45 494.40 151.20)" >Kidney</text>
<line x1="515.00" y1="140.60" x2="515.00" y2="144.60" stroke="#231f20" stroke-width="0.8" />
<text x="518.40" y="151.20" font-size="7.4" text-anchor="end" transform="rotate(-45 518.40 151.20)" >Blood</text>
<text x="346.60" y="90.20" font-size="8.7" text-anchor="middle" textLength="57" lengthAdjust="spacingAndGlyphs" transform="rotate(-90 346.60 90.20)" >CFU per organ</text>
<text x="357.70" y="91.00" font-size="8.7" text-anchor="middle" fill="#6aa3d8" textLength="51.8" lengthAdjust="spacingAndGlyphs" transform="rotate(-90 357.70 91.00)" >or 1 ml blood</text>
<line x1="388.50" y1="66.96" x2="388.50" y2="73.97" stroke="#2a2a2a" stroke-width="0.8" />
<line x1="386.00" y1="66.96" x2="391.00" y2="66.96" stroke="#2a2a2a" stroke-width="0.8" />
<line x1="386.00" y1="73.97" x2="391.00" y2="73.97" stroke="#2a2a2a" stroke-width="0.8" />
<circle cx="388.50" cy="65.42" r="2.3" fill="none" stroke="#2a2a2a" stroke-width="0.8"/>
<circle cx="387.70" cy="67.36" r="2.3" fill="none" stroke="#2a2a2a" stroke-width="0.8"/>
<circle cx="389.30" cy="69.30" r="2.3" fill="none" stroke="#2a2a2a" stroke-width="0.8"/>
<circle cx="388.50" cy="71.62" r="2.3" fill="none" stroke="#2a2a2a" stroke-width="0.8"/>
<circle cx="388.90" cy="74.34" r="2.3" fill="none" stroke="#2a2a2a" stroke-width="0.8"/>
<line x1="384.30" y1="70.46" x2="392.70" y2="70.46" stroke="#2a2a2a" stroke-width="1.5" />
<line x1="395.00" y1="85.47" x2="395.00" y2="93.43" stroke="#e4575c" stroke-width="0.8" />
<line x1="392.50" y1="85.47" x2="397.50" y2="85.47" stroke="#e4575c" stroke-width="0.8" />
<line x1="392.50" y1="93.43" x2="397.50" y2="93.43" stroke="#e4575c" stroke-width="0.8" />
<circle cx="395.00" cy="84.80" r="2.3" fill="none" stroke="#e4575c" stroke-width="0.8"/>
<circle cx="394.20" cy="87.12" r="2.3" fill="none" stroke="#e4575c" stroke-width="0.8"/>
<circle cx="395.80" cy="89.45" r="2.3" fill="none" stroke="#e4575c" stroke-width="0.8"/>
<circle cx="395.00" cy="91.39" r="2.3" fill="none" stroke="#e4575c" stroke-width="0.8"/>
<circle cx="395.40" cy="93.32" r="2.3" fill="none" stroke="#e4575c" stroke-width="0.8"/>
<circle cx="394.60" cy="94.49" r="2.3" fill="none" stroke="#e4575c" stroke-width="0.8"/>
<circle cx="395.00" cy="95.65" r="2.3" fill="none" stroke="#e4575c" stroke-width="0.8"/>
<line x1="390.80" y1="89.45" x2="399.20" y2="89.45" stroke="#e4575c" stroke-width="1.5" />
<line x1="401.50" y1="67.11" x2="401.50" y2="69.94" stroke="#6aa3d8" stroke-width="0.8" />
<line x1="399.00" y1="67.11" x2="404.00" y2="67.11" stroke="#6aa3d8" stroke-width="0.8" />
<line x1="399.00" y1="69.94" x2="404.00" y2="69.94" stroke="#6aa3d8" stroke-width="0.8" />
<circle cx="401.50" cy="66.59" r="2.3" fill="none" stroke="#6aa3d8" stroke-width="0.8"/>
<circle cx="400.70" cy="67.36" r="2.3" fill="none" stroke="#6aa3d8" stroke-width="0.8"/>
<circle cx="402.30" cy="68.52" r="2.3" fill="none" stroke="#6aa3d8" stroke-width="0.8"/>
<circle cx="401.50" cy="69.30" r="2.3" fill="none" stroke="#6aa3d8" stroke-width="0.8"/>
<circle cx="401.90" cy="70.08" r="2.3" fill="none" stroke="#6aa3d8" stroke-width="0.8"/>
<line x1="397.30" y1="68.52" x2="405.70" y2="68.52" stroke="#6aa3d8" stroke-width="1.5" />
<line x1="412.50" y1="83.14" x2="412.50" y2="89.56" stroke="#2a2a2a" stroke-width="0.8" />
<line x1="410.00" y1="83.14" x2="415.00" y2="83.14" stroke="#2a2a2a" stroke-width="0.8" />
<line x1="410.00" y1="89.56" x2="415.00" y2="89.56" stroke="#2a2a2a" stroke-width="0.8" />
<circle cx="412.50" cy="83.25" r="2.3" fill="none" stroke="#2a2a2a" stroke-width="0.8"/>
<circle cx="411.70" cy="84.80" r="2.3" fill="none" stroke="#2a2a2a" stroke-width="0.8"/>
<circle cx="413.30" cy="86.35" r="2.3" fill="none" stroke="#2a2a2a" stroke-width="0.8"/>
<circle cx="412.50" cy="88.67" r="2.3" fill="none" stroke="#2a2a2a" stroke-width="0.8"/>
<circle cx="412.90" cy="91.39" r="2.3" fill="none" stroke="#2a2a2a" stroke-width="0.8"/>
<line x1="408.30" y1="86.35" x2="416.70" y2="86.35" stroke="#2a2a2a" stroke-width="1.5" />
<line x1="419.00" y1="76.23" x2="419.00" y2="83.30" stroke="#e4575c" stroke-width="0.8" />
<line x1="416.50" y1="76.23" x2="421.50" y2="76.23" stroke="#e4575c" stroke-width="0.8" />
<line x1="416.50" y1="83.30" x2="421.50" y2="83.30" stroke="#e4575c" stroke-width="0.8" />
<circle cx="419.00" cy="75.11" r="2.3" fill="none" stroke="#e4575c" stroke-width="0.8"/>
<circle cx="418.20" cy="77.05" r="2.3" fill="none" stroke="#e4575c" stroke-width="0.8"/>
<circle cx="419.80" cy="78.60" r="2.3" fill="none" stroke="#e4575c" stroke-width="0.8"/>
<circle cx="419.00" cy="79.76" r="2.3" fill="none" stroke="#e4575c" stroke-width="0.8"/>
<circle cx="419.40" cy="81.70" r="2.3" fill="none" stroke="#e4575c" stroke-width="0.8"/>
<circle cx="418.60" cy="83.25" r="2.3" fill="none" stroke="#e4575c" stroke-width="0.8"/>
<circle cx="419.00" cy="85.19" r="2.3" fill="none" stroke="#e4575c" stroke-width="0.8"/>
<line x1="414.80" y1="79.76" x2="423.20" y2="79.76" stroke="#e4575c" stroke-width="1.5" />
<line x1="425.50" y1="75.78" x2="425.50" y2="83.75" stroke="#6aa3d8" stroke-width="0.8" />
<line x1="423.00" y1="75.78" x2="428.00" y2="75.78" stroke="#6aa3d8" stroke-width="0.8" />
<line x1="423.00" y1="83.75" x2="428.00" y2="83.75" stroke="#6aa3d8" stroke-width="0.8" />
<circle cx="425.50" cy="73.95" r="2.3" fill="none" stroke="#6aa3d8" stroke-width="0.8"/>
<circle cx="424.70" cy="76.66" r="2.3" fill="none" stroke="#6aa3d8" stroke-width="0.8"/>
<circle cx="426.30" cy="79.38" r="2.3" fill="none" stroke="#6aa3d8" stroke-width="0.8"/>
<circle cx="425.50" cy="81.70" r="2.3" fill="none" stroke="#6aa3d8" stroke-width="0.8"/>
<circle cx="425.90" cy="84.03" r="2.3" fill="none" stroke="#6aa3d8" stroke-width="0.8"/>
<line x1="421.30" y1="79.76" x2="429.70" y2="79.76" stroke="#6aa3d8" stroke-width="1.5" />
<line x1="436.50" y1="76.97" x2="436.50" y2="92.63" stroke="#2a2a2a" stroke-width="0.8" />
<line x1="434.00" y1="76.97" x2="439.00" y2="76.97" stroke="#2a2a2a" stroke-width="0.8" />
<line x1="434.00" y1="92.63" x2="439.00" y2="92.63" stroke="#2a2a2a" stroke-width="0.8" />
<circle cx="436.50" cy="75.89" r="2.3" fill="none" stroke="#2a2a2a" stroke-width="0.8"/>
<circle cx="435.70" cy="81.70" r="2.3" fill="none" stroke="#2a2a2a" stroke-width="0.8"/>
<circle cx="437.30" cy="84.03" r="2.3" fill="none" stroke="#2a2a2a" stroke-width="0.8"/>
<circle cx="436.50" cy="86.35" r="2.3" fill="none" stroke="#2a2a2a" stroke-width="0.8"/>
<circle cx="436.90" cy="97.20" r="2.3" fill="none" stroke="#2a2a2a" stroke-width="0.8"/>
<line x1="432.30" y1="84.80" x2="440.70" y2="84.80" stroke="#2a2a2a" stroke-width="1.5" />
<line x1="443.00" y1="78.64" x2="443.00" y2="87.86" stroke="#e4575c" stroke-width="0.8" />
<line x1="440.50" y1="78.64" x2="445.50" y2="78.64" stroke="#e4575c" stroke-width="0.8" />
<line x1="440.50" y1="87.86" x2="445.50" y2="87.86" stroke="#e4575c" stroke-width="0.8" />
<circle cx="443.00" cy="75.89" r="2.3" fill="none" stroke="#e4575c" stroke-width="0.8"/>
<circle cx="442.20" cy="78.60" r="2.3" fill="none" stroke="#e4575c" stroke-width="0.8"/>
<circle cx="443.80" cy="80.92" r="2.3" fill="none" stroke="#e4575c" stroke-width="0.8"/>
<circle cx="443.00" cy="82.86" r="2.3" fill="none" stroke="#e4575c" stroke-width="0.8"/>
<circle cx="443.40" cy="84.80" r="2.3" fill="none" stroke="#e4575c" stroke-width="0.8"/>
<circle cx="442.60" cy="86.74" r="2.3" fill="none" stroke="#e4575c" stroke-width="0.8"/>
<circle cx="443.00" cy="89.06" r="2.3" fill="none" stroke="#e4575c" stroke-width="0.8"/>
<line x1="438.80" y1="83.25" x2="447.20" y2="83.25" stroke="#e4575c" stroke-width="1.5" />
<line x1="449.50" y1="84.48" x2="449.50" y2="89.77" stroke="#6aa3d8" stroke-width="0.8" />
<line x1="447.00" y1="84.48" x2="452.00" y2="84.48" stroke="#6aa3d8" stroke-width="0.8" />
<line x1="447.00" y1="89.77" x2="452.00" y2="89.77" stroke="#6aa3d8" stroke-width="0.8" />
<circle cx="449.50" cy="83.64" r="2.3" fill="none" stroke="#6aa3d8" stroke-width="0.8"/>
<circle cx="448.70" cy="85.96" r="2.3" fill="none" stroke="#6aa3d8" stroke-width="0.8"/>
<circle cx="450.30" cy="87.12" r="2.3" fill="none" stroke="#6aa3d8" stroke-width="0.8"/>
<circle cx="449.50" cy="88.67" r="2.3" fill="none" stroke="#6aa3d8" stroke-width="0.8"/>
<circle cx="449.90" cy="90.61" r="2.3" fill="none" stroke="#6aa3d8" stroke-width="0.8"/>
<line x1="445.30" y1="87.12" x2="453.70" y2="87.12" stroke="#6aa3d8" stroke-width="1.5" />
<line x1="460.50" y1="86.90" x2="460.50" y2="97.42" stroke="#2a2a2a" stroke-width="0.8" />
<line x1="458.00" y1="86.90" x2="463.00" y2="86.90" stroke="#2a2a2a" stroke-width="0.8" />
<line x1="458.00" y1="97.42" x2="463.00" y2="97.42" stroke="#2a2a2a" stroke-width="0.8" />
<circle cx="460.50" cy="87.51" r="2.3" fill="none" stroke="#2a2a2a" stroke-width="0.8"/>
<circle cx="459.70" cy="89.45" r="2.3" fill="none" stroke="#2a2a2a" stroke-width="0.8"/>
<circle cx="461.30" cy="91.00" r="2.3" fill="none" stroke="#2a2a2a" stroke-width="0.8"/>
<circle cx="460.50" cy="93.32" r="2.3" fill="none" stroke="#2a2a2a" stroke-width="0.8"/>
<circle cx="460.90" cy="101.07" r="2.3" fill="none" stroke="#2a2a2a" stroke-width="0.8"/>
<line x1="456.30" y1="92.16" x2="464.70" y2="92.16" stroke="#2a2a2a" stroke-width="1.5" />
<line x1="467.00" y1="81.08" x2="467.00" y2="86.97" stroke="#e4575c" stroke-width="0.8" />
<line x1="464.50" y1="81.08" x2="469.50" y2="81.08" stroke="#e4575c" stroke-width="0.8" />
<line x1="464.50" y1="86.97" x2="469.50" y2="86.97" stroke="#e4575c" stroke-width="0.8" />
<circle cx="467.00" cy="79.76" r="2.3" fill="none" stroke="#e4575c" stroke-width="0.8"/>
<circle cx="466.20" cy="81.70" r="2.3" fill="none" stroke="#e4575c" stroke-width="0.8"/>
<circle cx="467.80" cy="83.25" r="2.3" fill="none" stroke="#e4575c" stroke-width="0.8"/>
<circle cx="467.00" cy="84.41" r="2.3" fill="none" stroke="#e4575c" stroke-width="0.8"/>
<circle cx="467.40" cy="85.96" r="2.3" fill="none" stroke="#e4575c" stroke-width="0.8"/>
<circle cx="466.60" cy="87.12" r="2.3" fill="none" stroke="#e4575c" stroke-width="0.8"/>
<circle cx="467.00" cy="87.90" r="2.3" fill="none" stroke="#e4575c" stroke-width="0.8"/>
<line x1="462.80" y1="84.03" x2="471.20" y2="84.03" stroke="#e4575c" stroke-width="1.5" />
<line x1="473.50" y1="79.97" x2="473.50" y2="92.73" stroke="#6aa3d8" stroke-width="0.8" />
<line x1="471.00" y1="79.97" x2="476.00" y2="79.97" stroke="#6aa3d8" stroke-width="0.8" />
<line x1="471.00" y1="92.73" x2="476.00" y2="92.73" stroke="#6aa3d8" stroke-width="0.8" />
<circle cx="473.50" cy="78.60" r="2.3" fill="none" stroke="#6aa3d8" stroke-width="0.8"/>
<circle cx="472.70" cy="81.70" r="2.3" fill="none" stroke="#6aa3d8" stroke-width="0.8"/>
<circle cx="474.30" cy="86.35" r="2.3" fill="none" stroke="#6aa3d8" stroke-width="0.8"/>
<circle cx="473.50" cy="90.22" r="2.3" fill="none" stroke="#6aa3d8" stroke-width="0.8"/>
<circle cx="473.90" cy="94.49" r="2.3" fill="none" stroke="#6aa3d8" stroke-width="0.8"/>
<line x1="469.30" y1="86.35" x2="477.70" y2="86.35" stroke="#6aa3d8" stroke-width="1.5" />
<line x1="484.50" y1="95.77" x2="484.50" y2="103.28" stroke="#2a2a2a" stroke-width="0.8" />
<line x1="482.00" y1="95.77" x2="487.00" y2="95.77" stroke="#2a2a2a" stroke-width="0.8" />
<line x1="482.00" y1="103.28" x2="487.00" y2="103.28" stroke="#2a2a2a" stroke-width="0.8" />
<circle cx="484.50" cy="95.26" r="2.3" fill="none" stroke="#2a2a2a" stroke-width="0.8"/>
<circle cx="483.70" cy="97.59" r="2.3" fill="none" stroke="#2a2a2a" stroke-width="0.8"/>
<circle cx="485.30" cy="99.53" r="2.3" fill="none" stroke="#2a2a2a" stroke-width="0.8"/>
<circle cx="484.50" cy="101.85" r="2.3" fill="none" stroke="#2a2a2a" stroke-width="0.8"/>
<circle cx="484.90" cy="104.95" r="2.3" fill="none" stroke="#2a2a2a" stroke-width="0.8"/>
<line x1="480.30" y1="99.53" x2="488.70" y2="99.53" stroke="#2a2a2a" stroke-width="1.5" />
<line x1="491.00" y1="79.09" x2="491.00" y2="96.71" stroke="#e4575c" stroke-width="0.8" />
<line x1="488.50" y1="79.09" x2="493.50" y2="79.09" stroke="#e4575c" stroke-width="0.8" />
<line x1="488.50" y1="96.71" x2="493.50" y2="96.71" stroke="#e4575c" stroke-width="0.8" />
<circle cx="491.00" cy="73.95" r="2.3" fill="none" stroke="#e4575c" stroke-width="0.8"/>
<circle cx="490.20" cy="81.70" r="2.3" fill="none" stroke="#e4575c" stroke-width="0.8"/>
<circle cx="491.80" cy="85.96" r="2.3" fill="none" stroke="#e4575c" stroke-width="0.8"/>
<circle cx="491.00" cy="87.90" r="2.3" fill="none" stroke="#e4575c" stroke-width="0.8"/>
<circle cx="491.40" cy="90.22" r="2.3" fill="none" stroke="#e4575c" stroke-width="0.8"/>
<circle cx="490.60" cy="93.32" r="2.3" fill="none" stroke="#e4575c" stroke-width="0.8"/>
<circle cx="491.00" cy="101.85" r="2.3" fill="none" stroke="#e4575c" stroke-width="0.8"/>
<line x1="486.80" y1="87.90" x2="495.20" y2="87.90" stroke="#e4575c" stroke-width="1.5" />
<line x1="497.50" y1="83.55" x2="497.50" y2="96.90" stroke="#6aa3d8" stroke-width="0.8" />
<line x1="495.00" y1="83.55" x2="500.00" y2="83.55" stroke="#6aa3d8" stroke-width="0.8" />
<line x1="495.00" y1="96.90" x2="500.00" y2="96.90" stroke="#6aa3d8" stroke-width="0.8" />
<circle cx="497.50" cy="80.15" r="2.3" fill="none" stroke="#6aa3d8" stroke-width="0.8"/>
<circle cx="496.70" cy="86.35" r="2.3" fill="none" stroke="#6aa3d8" stroke-width="0.8"/>
<circle cx="498.30" cy="90.22" r="2.3" fill="none" stroke="#6aa3d8" stroke-width="0.8"/>
<circle cx="497.50" cy="94.10" r="2.3" fill="none" stroke="#6aa3d8" stroke-width="0.8"/>
<circle cx="497.90" cy="97.20" r="2.3" fill="none" stroke="#6aa3d8" stroke-width="0.8"/>
<line x1="493.30" y1="90.22" x2="501.70" y2="90.22" stroke="#6aa3d8" stroke-width="1.5" />
<line x1="508.50" y1="95.97" x2="508.50" y2="103.08" stroke="#2a2a2a" stroke-width="0.8" />
<line x1="506.00" y1="95.97" x2="511.00" y2="95.97" stroke="#2a2a2a" stroke-width="0.8" />
<line x1="506.00" y1="103.08" x2="511.00" y2="103.08" stroke="#2a2a2a" stroke-width="0.8" />
<circle cx="508.50" cy="95.26" r="2.3" fill="none" stroke="#2a2a2a" stroke-width="0.8"/>
<circle cx="507.70" cy="97.20" r="2.3" fill="none" stroke="#2a2a2a" stroke-width="0.8"/>
<circle cx="509.30" cy="99.53" r="2.3" fill="none" stroke="#2a2a2a" stroke-width="0.8"/>
<circle cx="508.50" cy="101.85" r="2.3" fill="none" stroke="#2a2a2a" stroke-width="0.8"/>
<circle cx="508.90" cy="104.17" r="2.3" fill="none" stroke="#2a2a2a" stroke-width="0.8"/>
<line x1="504.30" y1="99.53" x2="512.70" y2="99.53" stroke="#2a2a2a" stroke-width="1.5" />
<line x1="515.00" y1="79.73" x2="515.00" y2="92.97" stroke="#e4575c" stroke-width="0.8" />
<line x1="512.50" y1="79.73" x2="517.50" y2="79.73" stroke="#e4575c" stroke-width="0.8" />
<line x1="512.50" y1="92.97" x2="517.50" y2="92.97" stroke="#e4575c" stroke-width="0.8" />
<circle cx="515.00" cy="78.21" r="2.3" fill="none" stroke="#e4575c" stroke-width="0.8"/>
<circle cx="514.20" cy="80.15" r="2.3" fill="none" stroke="#e4575c" stroke-width="0.8"/>
<circle cx="515.80" cy="83.64" r="2.3" fill="none" stroke="#e4575c" stroke-width="0.8"/>
<circle cx="515.00" cy="86.35" r="2.3" fill="none" stroke="#e4575c" stroke-width="0.8"/>
<circle cx="515.40" cy="88.29" r="2.3" fill="none" stroke="#e4575c" stroke-width="0.8"/>
<circle cx="514.60" cy="91.78" r="2.3" fill="none" stroke="#e4575c" stroke-width="0.8"/>
<circle cx="515.00" cy="97.20" r="2.3" fill="none" stroke="#e4575c" stroke-width="0.8"/>
<line x1="510.80" y1="86.35" x2="519.20" y2="86.35" stroke="#e4575c" stroke-width="1.5" />
<line x1="521.50" y1="82.01" x2="521.50" y2="96.11" stroke="#6aa3d8" stroke-width="0.8" />
<line x1="519.00" y1="82.01" x2="524.00" y2="82.01" stroke="#6aa3d8" stroke-width="0.8" />
<line x1="519.00" y1="96.11" x2="524.00" y2="96.11" stroke="#6aa3d8" stroke-width="0.8" />
<circle cx="521.50" cy="79.38" r="2.3" fill="none" stroke="#6aa3d8" stroke-width="0.8"/>
<circle cx="520.70" cy="86.35" r="2.3" fill="none" stroke="#6aa3d8" stroke-width="0.8"/>
<circle cx="522.30" cy="89.45" r="2.3" fill="none" stroke="#6aa3d8" stroke-width="0.8"/>
<circle cx="521.50" cy="94.10" r="2.3" fill="none" stroke="#6aa3d8" stroke-width="0.8"/>
<circle cx="521.90" cy="97.59" r="2.3" fill="none" stroke="#6aa3d8" stroke-width="0.8"/>
<line x1="517.30" y1="89.06" x2="525.70" y2="89.06" stroke="#6aa3d8" stroke-width="1.5" />
<text x="385.00" y="35.30" font-size="6.8" textLength="21.9" lengthAdjust="spacingAndGlyphs" >0.1038</text>
<line x1="388.50" y1="37.30" x2="402.20" y2="37.30" stroke="#231f20" stroke-width="0.8" />
<text x="381.50" y="44.60" font-size="6.8" textLength="27.8" lengthAdjust="spacingAndGlyphs" >&lt;0.0001</text>
<line x1="388.50" y1="47.40" x2="396.80" y2="47.40" stroke="#231f20" stroke-width="0.8" />
<circle cx="395.40" cy="113.50" r="2.3" fill="none" stroke="#2a2a2a" stroke-width="0.8"/>
<text x="400.80" y="115.90" font-size="6.9" >WT <tspan font-style="italic">n</tspan> = 5</text>
<circle cx="395.40" cy="122.80" r="2.3" fill="none" stroke="#e4575c" stroke-width="0.8"/>
<text x="400.80" y="125.20" font-size="6.9" >Δ<tspan font-style="italic">manY n</tspan> = 7</text>
<circle cx="395.40" cy="132.10" r="2.3" fill="none" stroke="#6aa3d8" stroke-width="0.8"/>
<text x="400.80" y="134.50" font-size="6.9" >CΔ<tspan font-style="italic">manY n</tspan> = 5</text>
<text x="545.20" y="21.20" font-size="11.8" fill="#000" font-weight="bold" >c</text>
<text x="593.80" y="31.10" font-size="8.4" textLength="19.2" lengthAdjust="spacingAndGlyphs" >Brain</text>
<text x="646.00" y="31.10" font-size="8.4" textLength="16.3" lengthAdjust="spacingAndGlyphs" >CSF</text>
<rect x="584.00" y="83.46" width="11.20" height="57.54" fill="#6f6f70" />
<rect x="600.00" y="118.91" width="11.20" height="22.09" fill="#f2a6a8" />
<rect x="616.10" y="78.22" width="11.20" height="62.78" fill="#b5d0e8" />
<rect x="632.70" y="74.16" width="11.20" height="66.84" fill="#6f6f70" />
<rect x="648.70" y="109.03" width="11.20" height="31.97" fill="#f2a6a8" />
<rect x="664.70" y="73.57" width="11.20" height="67.43" fill="#b5d0e8" />
<line x1="630.3" y1="46" x2="630.3" y2="141" stroke="#9a9a9a" stroke-width="0.7" stroke-dasharray="2.2,1.6"/>
<line x1="579.10" y1="47.70" x2="579.10" y2="141.40" stroke="#231f20" stroke-width="0.9" />
<line x1="578.70" y1="141.00" x2="681.50" y2="141.00" stroke="#231f20" stroke-width="1.0" />
<line x1="575.70" y1="141.00" x2="579.10" y2="141.00" stroke="#231f20" stroke-width="0.8" />
<text x="569.25" y="140.20" font-size="4.22" >4</text>
<text x="569.15" y="143.71" font-size="6.6" text-anchor="end" >10</text>
<line x1="575.70" y1="129.38" x2="579.10" y2="129.38" stroke="#231f20" stroke-width="0.8" />
<text x="569.25" y="128.57" font-size="4.22" >5</text>
<text x="569.15" y="132.08" font-size="6.6" text-anchor="end" >10</text>
<line x1="575.70" y1="117.75" x2="579.10" y2="117.75" stroke="#231f20" stroke-width="0.8" />
<text x="569.25" y="116.95" font-size="4.22" >6</text>
<text x="569.15" y="120.46" font-size="6.6" text-anchor="end" >10</text>
<line x1="575.70" y1="106.12" x2="579.10" y2="106.12" stroke="#231f20" stroke-width="0.8" />
<text x="569.25" y="105.33" font-size="4.22" >7</text>
<text x="569.15" y="108.83" font-size="6.6" text-anchor="end" >10</text>
<line x1="575.70" y1="94.50" x2="579.10" y2="94.50" stroke="#231f20" stroke-width="0.8" />
<text x="569.25" y="93.70" font-size="4.22" >8</text>
<text x="569.15" y="97.21" font-size="6.6" text-anchor="end" >10</text>
<line x1="575.70" y1="82.88" x2="579.10" y2="82.88" stroke="#231f20" stroke-width="0.8" />
<text x="569.25" y="82.08" font-size="4.22" >9</text>
<text x="569.15" y="85.58" font-size="6.6" text-anchor="end" >10</text>
<line x1="575.70" y1="71.25" x2="579.10" y2="71.25" stroke="#231f20" stroke-width="0.8" />
<text x="566.90" y="70.45" font-size="4.22" >10</text>
<text x="566.80" y="73.96" font-size="6.6" text-anchor="end" >10</text>
<line x1="575.70" y1="59.62" x2="579.10" y2="59.62" stroke="#231f20" stroke-width="0.8" />
<text x="566.90" y="58.83" font-size="4.22" >11</text>
<text x="566.80" y="62.33" font-size="6.6" text-anchor="end" >10</text>
<line x1="575.70" y1="48.00" x2="579.10" y2="48.00" stroke="#231f20" stroke-width="0.8" />
<text x="566.90" y="47.20" font-size="4.22" >12</text>
<text x="566.80" y="50.71" font-size="6.6" text-anchor="end" >10</text>
<text x="552.10" y="94.20" font-size="8.7" text-anchor="middle" textLength="104.5" lengthAdjust="spacingAndGlyphs" transform="rotate(-90 552.10 94.20)" >CFU per organ or 1 ml CSF</text>
<circle cx="586.40" cy="81.71" r="2.0" fill="#ffffff" stroke="#111" stroke-width="0.8"/>
<circle cx="592.80" cy="82.88" r="2.0" fill="#ffffff" stroke="#111" stroke-width="0.8"/>
<circle cx="588.50" cy="83.46" r="2.0" fill="#ffffff" stroke="#111" stroke-width="0.8"/>
<circle cx="590.70" cy="84.62" r="2.0" fill="#ffffff" stroke="#111" stroke-width="0.8"/>
<line x1="605.60" y1="112.52" x2="605.60" y2="123.56" stroke="#e4575c" stroke-width="0.8" />
<line x1="603.00" y1="112.52" x2="608.20" y2="112.52" stroke="#e4575c" stroke-width="0.8" />
<line x1="603.00" y1="123.56" x2="608.20" y2="123.56" stroke="#e4575c" stroke-width="0.8" />
<circle cx="605.60" cy="112.52" r="2.0" fill="#ffffff" stroke="#e4575c" stroke-width="0.8"/>
<circle cx="605.60" cy="117.17" r="2.0" fill="#ffffff" stroke="#e4575c" stroke-width="0.8"/>
<circle cx="603.00" cy="120.08" r="2.0" fill="#ffffff" stroke="#e4575c" stroke-width="0.8"/>
<circle cx="608.20" cy="120.66" r="2.0" fill="#ffffff" stroke="#e4575c" stroke-width="0.8"/>
<line x1="621.70" y1="61.95" x2="621.70" y2="89.85" stroke="#6aa3d8" stroke-width="0.8" />
<line x1="619.10" y1="61.95" x2="624.30" y2="61.95" stroke="#6aa3d8" stroke-width="0.8" />
<line x1="619.10" y1="89.85" x2="624.30" y2="89.85" stroke="#6aa3d8" stroke-width="0.8" />
<circle cx="621.70" cy="61.95" r="2.0" fill="#ffffff" stroke="#6aa3d8" stroke-width="0.8"/>
<circle cx="621.70" cy="70.67" r="2.0" fill="#ffffff" stroke="#6aa3d8" stroke-width="0.8"/>
<circle cx="619.10" cy="88.11" r="2.0" fill="#ffffff" stroke="#6aa3d8" stroke-width="0.8"/>
<circle cx="624.30" cy="88.11" r="2.0" fill="#ffffff" stroke="#6aa3d8" stroke-width="0.8"/>
<circle cx="634.90" cy="72.99" r="2.0" fill="#ffffff" stroke="#111" stroke-width="0.8"/>
<circle cx="641.70" cy="73.57" r="2.0" fill="#ffffff" stroke="#111" stroke-width="0.8"/>
<circle cx="637.10" cy="74.74" r="2.0" fill="#ffffff" stroke="#111" stroke-width="0.8"/>
<circle cx="639.50" cy="75.32" r="2.0" fill="#ffffff" stroke="#111" stroke-width="0.8"/>
<line x1="654.30" y1="95.66" x2="654.30" y2="117.75" stroke="#e4575c" stroke-width="0.8" />
<line x1="651.70" y1="95.66" x2="656.90" y2="95.66" stroke="#e4575c" stroke-width="0.8" />
<line x1="651.70" y1="117.75" x2="656.90" y2="117.75" stroke="#e4575c" stroke-width="0.8" />
<circle cx="654.30" cy="96.83" r="2.0" fill="#ffffff" stroke="#e4575c" stroke-width="0.8"/>
<circle cx="654.30" cy="104.96" r="2.0" fill="#ffffff" stroke="#e4575c" stroke-width="0.8"/>
<circle cx="651.50" cy="114.26" r="2.0" fill="#ffffff" stroke="#e4575c" stroke-width="0.8"/>
<circle cx="657.10" cy="114.26" r="2.0" fill="#ffffff" stroke="#e4575c" stroke-width="0.8"/>
<line x1="670.30" y1="63.69" x2="670.30" y2="80.55" stroke="#6aa3d8" stroke-width="0.8" />
<line x1="667.70" y1="63.69" x2="672.90" y2="63.69" stroke="#6aa3d8" stroke-width="0.8" />
<line x1="667.70" y1="80.55" x2="672.90" y2="80.55" stroke="#6aa3d8" stroke-width="0.8" />
<circle cx="670.30" cy="65.44" r="2.0" fill="#ffffff" stroke="#6aa3d8" stroke-width="0.8"/>
<circle cx="667.30" cy="74.16" r="2.0" fill="#ffffff" stroke="#6aa3d8" stroke-width="0.8"/>
<circle cx="670.30" cy="74.16" r="2.0" fill="#ffffff" stroke="#6aa3d8" stroke-width="0.8"/>
<circle cx="673.30" cy="74.16" r="2.0" fill="#ffffff" stroke="#6aa3d8" stroke-width="0.8"/>
<text x="585.80" y="60.40" font-size="6.4" textLength="27.5" lengthAdjust="spacingAndGlyphs" >&lt;0.0001</text>
<line x1="589.00" y1="62.20" x2="604.80" y2="62.20" stroke="#231f20" stroke-width="0.9" />
<text x="596.10" y="51.00" font-size="6.4" textLength="23.6" lengthAdjust="spacingAndGlyphs" >0.6336</text>
<line x1="589.90" y1="52.80" x2="621.60" y2="52.80" stroke="#231f20" stroke-width="0.9" />
<text x="635.90" y="60.40" font-size="6.4" textLength="25.1" lengthAdjust="spacingAndGlyphs" >0.0007</text>
<line x1="637.00" y1="62.20" x2="653.00" y2="62.20" stroke="#231f20" stroke-width="0.9" />
<text x="645.00" y="51.00" font-size="6.4" textLength="23.6" lengthAdjust="spacingAndGlyphs" >0.9788</text>
<line x1="638.40" y1="52.80" x2="669.30" y2="52.80" stroke="#231f20" stroke-width="0.9" />
<line x1="589.60" y1="141.00" x2="589.60" y2="144.60" stroke="#231f20" stroke-width="0.8" />
<text x="593.00" y="151.20" font-size="7.4" text-anchor="end" transform="rotate(-45 593.00 151.20)" >WT</text>
<line x1="605.60" y1="141.00" x2="605.60" y2="144.60" stroke="#231f20" stroke-width="0.8" />
<text x="609.00" y="151.20" font-size="7.4" text-anchor="end" transform="rotate(-45 609.00 151.20)" >Δ<tspan font-style="italic">manY</tspan></text>
<line x1="621.70" y1="141.00" x2="621.70" y2="144.60" stroke="#231f20" stroke-width="0.8" />
<text x="625.10" y="151.20" font-size="7.4" text-anchor="end" transform="rotate(-45 625.10 151.20)" >CΔ<tspan font-style="italic">manY</tspan></text>
<line x1="638.30" y1="141.00" x2="638.30" y2="144.60" stroke="#231f20" stroke-width="0.8" />
<text x="641.70" y="151.20" font-size="7.4" text-anchor="end" transform="rotate(-45 641.70 151.20)" >WT</text>
<line x1="654.30" y1="141.00" x2="654.30" y2="144.60" stroke="#231f20" stroke-width="0.8" />
<text x="657.70" y="151.20" font-size="7.4" text-anchor="end" transform="rotate(-45 657.70 151.20)" >Δ<tspan font-style="italic">manY</tspan></text>
<line x1="670.30" y1="141.00" x2="670.30" y2="144.60" stroke="#231f20" stroke-width="0.8" />
<text x="673.70" y="151.20" font-size="7.4" text-anchor="end" transform="rotate(-45 673.70 151.20)" >CΔ<tspan font-style="italic">manY</tspan></text>
<text x="0.00" y="197.20" font-size="11.8" fill="#000" font-weight="bold" >d</text>
<text x="9.90" y="235.90" font-size="8.6" textLength="44.1" lengthAdjust="spacingAndGlyphs" >Uninfected</text>
<text x="9.90" y="312.30" font-size="8.6" >WT</text>
<text x="9.90" y="389.90" font-size="8.6" >Δ<tspan font-style="italic">manY</tspan></text>
<path d="M70.40,239.00 C70.48,237.50 71.40,235.80 72.50,234.50 C73.60,233.20 75.33,232.02 77.00,231.20 C78.67,230.38 80.87,229.92 82.50,229.60 C84.13,229.28 85.72,229.73 86.80,229.30 C87.88,228.87 88.13,227.97 89.00,227.00 C89.87,226.03 90.67,224.80 92.00,223.50 C93.33,222.20 95.00,220.58 97.00,219.20 C99.00,217.82 101.50,216.43 104.00,215.20 C106.50,213.97 109.17,212.73 112.00,211.80 C114.83,210.87 118.00,210.10 121.00,209.60 C124.00,209.10 127.25,208.85 130.00,208.80 C132.75,208.75 135.70,208.73 137.50,209.30 C139.30,209.87 139.88,211.38 140.80,212.20 C141.72,213.02 142.13,213.82 143.00,214.20 C143.87,214.58 144.75,214.48 146.00,214.50 C147.25,214.52 148.67,214.45 150.50,214.30 C152.33,214.15 154.92,213.55 157.00,213.60 C159.08,213.65 161.08,213.87 163.00,214.60 C164.92,215.33 166.92,216.60 168.50,218.00 C170.08,219.40 171.42,221.17 172.50,223.00 C173.58,224.83 174.50,227.00 175.00,229.00 C175.50,231.00 175.67,233.08 175.50,235.00 C175.33,236.92 174.48,239.17 174.00,240.50 C173.52,241.83 172.88,241.75 172.60,243.00 C172.32,244.25 172.48,246.08 172.30,248.00 C172.12,249.92 172.05,253.03 171.50,254.50 C170.95,255.97 170.92,256.30 169.00,256.80 C167.08,257.30 163.50,257.43 160.00,257.50 C156.50,257.57 151.33,257.33 148.00,257.20 C144.67,257.07 142.25,257.07 140.00,256.70 C137.75,256.33 136.50,255.38 134.50,255.00 C132.50,254.62 130.75,254.67 128.00,254.40 C125.25,254.13 121.67,253.67 118.00,253.40 C114.33,253.13 109.50,253.03 106.00,252.80 C102.50,252.57 99.42,252.33 97.00,252.00 C94.58,251.67 93.17,251.20 91.50,250.80 C89.83,250.40 88.75,249.87 87.00,249.60 C85.25,249.33 82.92,249.63 81.00,249.20 C79.08,248.77 77.00,247.95 75.50,247.00 C74.00,246.05 72.85,244.83 72.00,243.50 C71.15,242.17 70.32,240.50 70.40,239.00 Z" fill="#cba4e2"/>
<path d="M71.00,239.00 C71.25,237.50 72.17,235.30 73.50,234.00 C74.83,232.70 77.08,231.82 79.00,231.20 C80.92,230.58 83.33,229.83 85.00,230.30 C86.67,230.77 88.17,232.05 89.00,234.00 C89.83,235.95 90.33,239.50 90.00,242.00 C89.67,244.50 88.67,247.90 87.00,249.00 C85.33,250.10 82.00,249.02 80.00,248.60 C78.00,248.18 76.33,247.43 75.00,246.50 C73.67,245.57 72.67,244.25 72.00,243.00 C71.33,241.75 70.75,240.50 71.00,239.00 Z" fill="#9c8ad2" opacity="0.55"/>
<path d="M75.00,239.50 C75.00,237.92 77.50,235.83 79.00,235.00 C80.50,234.17 82.75,233.67 84.00,234.50 C85.25,235.33 86.42,238.25 86.50,240.00 C86.58,241.75 85.75,244.25 84.50,245.00 C83.25,245.75 80.58,245.42 79.00,244.50 C77.42,243.58 75.00,241.08 75.00,239.50 Z" fill="none" stroke="#9c8ad2" stroke-width="0.9" opacity="0.8"/>
<clipPath id="cbc1"><path d="M149.50,216.50 C150.50,214.25 153.75,214.72 156.00,214.50 C158.25,214.28 160.92,214.53 163.00,215.20 C165.08,215.87 166.92,217.12 168.50,218.50 C170.08,219.88 171.45,221.67 172.50,223.50 C173.55,225.33 174.38,227.50 174.80,229.50 C175.22,231.50 175.22,233.67 175.00,235.50 C174.78,237.33 175.00,239.42 173.50,240.50 C172.00,241.58 168.58,242.00 166.00,242.00 C163.42,242.00 160.25,241.42 158.00,240.50 C155.75,239.58 153.83,238.58 152.50,236.50 C151.17,234.42 150.50,231.33 150.00,228.00 C149.50,224.67 148.50,218.75 149.50,216.50 Z"/></clipPath>
<path d="M149.50,216.50 C150.50,214.25 153.75,214.72 156.00,214.50 C158.25,214.28 160.92,214.53 163.00,215.20 C165.08,215.87 166.92,217.12 168.50,218.50 C170.08,219.88 171.45,221.67 172.50,223.50 C173.55,225.33 174.38,227.50 174.80,229.50 C175.22,231.50 175.22,233.67 175.00,235.50 C174.78,237.33 175.00,239.42 173.50,240.50 C172.00,241.58 168.58,242.00 166.00,242.00 C163.42,242.00 160.25,241.42 158.00,240.50 C155.75,239.58 153.83,238.58 152.50,236.50 C151.17,234.42 150.50,231.33 150.00,228.00 C149.50,224.67 148.50,218.75 149.50,216.50 Z" fill="#d9b2e8"/>
<g clip-path="url(#cbc1)">
<line x1="165.94" y1="238.43" x2="146.02" y2="221.72" stroke="#8a6cc4" stroke-width="2.3" stroke-linecap="round"/>
<line x1="166.59" y1="237.81" x2="150.95" y2="217.04" stroke="#8a6cc4" stroke-width="2.3" stroke-linecap="round"/>
<line x1="167.31" y1="237.37" x2="156.32" y2="213.81" stroke="#8a6cc4" stroke-width="2.3" stroke-linecap="round"/>
<line x1="168.10" y1="237.10" x2="162.25" y2="211.77" stroke="#8a6cc4" stroke-width="2.3" stroke-linecap="round"/>
<line x1="168.93" y1="237.00" x2="168.48" y2="211.00" stroke="#8a6cc4" stroke-width="2.3" stroke-linecap="round"/>
<line x1="169.83" y1="237.09" x2="175.24" y2="211.66" stroke="#8a6cc4" stroke-width="2.3" stroke-linecap="round"/>
<line x1="170.75" y1="237.40" x2="182.15" y2="214.04" stroke="#8a6cc4" stroke-width="2.3" stroke-linecap="round"/>
<line x1="171.57" y1="237.94" x2="188.28" y2="218.02" stroke="#8a6cc4" stroke-width="2.3" stroke-linecap="round"/>
<line x1="172.24" y1="238.65" x2="193.27" y2="223.37" stroke="#8a6cc4" stroke-width="2.3" stroke-linecap="round"/>
</g>
<path d="M141.50,213.20 C140.92,213.75 139.42,215.20 138.00,216.50 C136.58,217.80 134.62,219.65 133.00,221.00 C131.38,222.35 129.08,224.00 128.30,224.60" fill="none" stroke="#ffffff" stroke-width="1.1" stroke-linecap="round"/>
<path d="M146.50,215.50 C146.80,216.58 147.88,219.75 148.30,222.00 C148.72,224.25 148.55,226.75 149.00,229.00 C149.45,231.25 150.00,233.63 151.00,235.50 C152.00,237.37 153.33,239.05 155.00,240.20 C156.67,241.35 158.83,241.93 161.00,242.40 C163.17,242.87 166.00,242.97 168.00,243.00 C170.00,243.03 172.17,242.67 173.00,242.60" fill="none" stroke="#ffffff" stroke-width="1.6" stroke-linecap="round"/>
<path d="M104.30,235.60 C105.00,234.58 106.73,231.33 108.50,229.50 C110.27,227.67 113.83,225.42 114.90,224.60" fill="none" stroke="#ffffff" stroke-width="1.0" stroke-linecap="round"/>
<ellipse cx="128.90" cy="252.00" rx="1.7" ry="2.2" fill="#fff"/>
<path d="M114.00,227.00 C114.67,225.83 116.33,221.58 118.00,220.00 C119.67,218.42 122.00,217.67 124.00,217.50 C126.00,217.33 129.00,218.75 130.00,219.00" fill="none" stroke="#9c8ad2" stroke-width="0.6" opacity="0.6"/>
<path d="M73.30,312.95 C73.38,311.36 74.26,309.56 75.32,308.19 C76.38,306.82 78.06,305.57 79.66,304.70 C81.27,303.84 83.39,303.35 84.96,303.01 C86.54,302.68 88.06,303.15 89.11,302.70 C90.15,302.24 90.39,301.29 91.23,300.27 C92.06,299.24 92.84,297.94 94.12,296.57 C95.41,295.19 97.01,293.49 98.94,292.02 C100.87,290.56 103.28,289.10 105.69,287.80 C108.10,286.49 110.67,285.19 113.40,284.20 C116.13,283.22 119.18,282.41 122.07,281.88 C124.97,281.35 128.10,281.09 130.75,281.03 C133.40,280.98 136.24,280.96 137.98,281.56 C139.71,282.16 140.28,283.76 141.16,284.63 C142.04,285.49 142.44,286.34 143.28,286.74 C144.12,287.15 144.97,287.04 146.17,287.06 C147.38,287.07 148.74,287.00 150.51,286.85 C152.28,286.69 154.77,286.05 156.77,286.11 C158.78,286.16 160.71,286.39 162.56,287.16 C164.41,287.94 166.33,289.28 167.86,290.76 C169.39,292.23 170.67,294.10 171.72,296.04 C172.76,297.98 173.64,300.27 174.13,302.38 C174.61,304.49 174.77,306.69 174.61,308.72 C174.45,310.74 173.63,313.12 173.16,314.53 C172.70,315.94 172.08,315.85 171.81,317.17 C171.54,318.49 171.70,320.43 171.52,322.46 C171.35,324.48 171.28,327.77 170.75,329.32 C170.22,330.87 170.19,331.23 168.34,331.75 C166.49,332.28 163.04,332.42 159.67,332.49 C156.29,332.56 151.31,332.32 148.10,332.18 C144.89,332.04 142.56,332.04 140.39,331.65 C138.22,331.26 137.01,330.26 135.09,329.85 C133.16,329.45 131.47,329.50 128.82,329.22 C126.17,328.94 122.72,328.44 119.18,328.16 C115.65,327.88 110.99,327.77 107.62,327.53 C104.24,327.28 101.27,327.03 98.94,326.68 C96.61,326.33 95.25,325.84 93.64,325.41 C92.03,324.99 90.99,324.43 89.30,324.15 C87.61,323.86 85.36,324.18 83.52,323.72 C81.67,323.27 79.66,322.40 78.22,321.40 C76.77,320.40 75.66,319.11 74.84,317.70 C74.02,316.29 73.22,314.53 73.30,312.95 Z" fill="#ec8ee3"/>
<path d="M73.88,312.95 C74.12,311.36 75.00,309.04 76.29,307.66 C77.57,306.29 79.74,305.36 81.59,304.70 C83.44,304.05 85.77,303.26 87.37,303.75 C88.98,304.25 90.43,305.60 91.23,307.66 C92.03,309.72 92.51,313.47 92.19,316.12 C91.87,318.76 90.91,322.35 89.30,323.51 C87.69,324.67 84.48,323.53 82.55,323.09 C80.63,322.65 79.02,321.86 77.73,320.87 C76.45,319.88 75.48,318.49 74.84,317.17 C74.20,315.85 73.64,314.53 73.88,312.95 Z" fill="#cc8ad8" opacity="0.55"/>
<path d="M77.73,313.47 C77.73,311.80 80.14,309.60 81.59,308.72 C83.04,307.84 85.20,307.31 86.41,308.19 C87.61,309.07 88.74,312.15 88.82,314.00 C88.90,315.85 88.10,318.49 86.89,319.29 C85.69,320.08 83.12,319.73 81.59,318.76 C80.06,317.79 77.73,315.15 77.73,313.47 Z" fill="none" stroke="#cc8ad8" stroke-width="0.9" opacity="0.8"/>
<clipPath id="cbc2"><path d="M149.55,289.17 C150.51,286.79 153.64,287.29 155.81,287.06 C157.98,286.83 160.55,287.09 162.56,287.80 C164.57,288.50 166.33,289.82 167.86,291.28 C169.39,292.75 170.70,294.63 171.72,296.57 C172.73,298.50 173.53,300.79 173.93,302.91 C174.33,305.02 174.33,307.31 174.13,309.25 C173.92,311.18 174.13,313.39 172.68,314.53 C171.23,315.68 167.94,316.12 165.45,316.12 C162.96,316.12 159.91,315.50 157.74,314.53 C155.57,313.56 153.72,312.51 152.44,310.30 C151.15,308.10 150.51,304.84 150.03,301.32 C149.55,297.80 148.58,291.55 149.55,289.17 Z"/></clipPath>
<path d="M149.55,289.17 C150.51,286.79 153.64,287.29 155.81,287.06 C157.98,286.83 160.55,287.09 162.56,287.80 C164.57,288.50 166.33,289.82 167.86,291.28 C169.39,292.75 170.70,294.63 171.72,296.57 C172.73,298.50 173.53,300.79 173.93,302.91 C174.33,305.02 174.33,307.31 174.13,309.25 C173.92,311.18 174.13,313.39 172.68,314.53 C171.23,315.68 167.94,316.12 165.45,316.12 C162.96,316.12 159.91,315.50 157.74,314.53 C155.57,313.56 153.72,312.51 152.44,310.30 C151.15,308.10 150.51,304.84 150.03,301.32 C149.55,297.80 148.58,291.55 149.55,289.17 Z" fill="#eeb0e6"/>
<g clip-path="url(#cbc2)">
<line x1="165.39" y1="312.34" x2="146.19" y2="294.68" stroke="#a070c8" stroke-width="2.3" stroke-linecap="round"/>
<line x1="166.02" y1="311.68" x2="150.94" y2="289.74" stroke="#a070c8" stroke-width="2.3" stroke-linecap="round"/>
<line x1="166.71" y1="311.23" x2="156.12" y2="286.33" stroke="#a070c8" stroke-width="2.3" stroke-linecap="round"/>
<line x1="167.47" y1="310.94" x2="161.84" y2="284.17" stroke="#a070c8" stroke-width="2.3" stroke-linecap="round"/>
<line x1="168.27" y1="310.83" x2="167.84" y2="283.36" stroke="#a070c8" stroke-width="2.3" stroke-linecap="round"/>
<line x1="169.14" y1="310.92" x2="174.35" y2="284.05" stroke="#a070c8" stroke-width="2.3" stroke-linecap="round"/>
<line x1="170.03" y1="311.26" x2="181.02" y2="286.57" stroke="#a070c8" stroke-width="2.3" stroke-linecap="round"/>
<line x1="170.82" y1="311.82" x2="186.93" y2="290.78" stroke="#a070c8" stroke-width="2.3" stroke-linecap="round"/>
<line x1="171.46" y1="312.57" x2="191.74" y2="296.43" stroke="#a070c8" stroke-width="2.3" stroke-linecap="round"/>
</g>
<path d="M141.83,285.68 C141.27,286.26 139.83,287.80 138.46,289.17 C137.09,290.54 135.20,292.50 133.64,293.93 C132.08,295.35 129.87,297.10 129.11,297.73" fill="none" stroke="#ffffff" stroke-width="1.1" stroke-linecap="round"/>
<path d="M146.65,288.11 C146.94,289.26 147.99,292.60 148.39,294.98 C148.79,297.36 148.63,300.00 149.06,302.38 C149.50,304.76 150.03,307.27 150.99,309.25 C151.96,311.22 153.24,313.00 154.85,314.21 C156.45,315.43 158.54,316.05 160.63,316.54 C162.72,317.03 165.45,317.14 167.38,317.17 C169.31,317.21 171.39,316.82 172.20,316.75" fill="none" stroke="#ffffff" stroke-width="1.6" stroke-linecap="round"/>
<path d="M105.98,309.35 C106.65,308.28 108.32,304.84 110.03,302.91 C111.73,300.97 115.17,298.59 116.19,297.73" fill="none" stroke="#ffffff" stroke-width="1.0" stroke-linecap="round"/>
<ellipse cx="129.69" cy="326.68" rx="1.7" ry="2.2" fill="#fff"/>
<path d="M115.33,300.27 C115.97,299.03 117.58,294.54 119.18,292.87 C120.79,291.20 123.04,290.40 124.97,290.23 C126.89,290.05 129.79,291.55 130.75,291.81" fill="none" stroke="#cc8ad8" stroke-width="0.6" opacity="0.6"/>
<path d="M74.20,383.55 C74.28,382.06 75.18,380.38 76.26,379.09 C77.33,377.80 79.03,376.62 80.66,375.81 C82.29,375.00 84.45,374.54 86.05,374.23 C87.65,373.91 89.20,374.36 90.26,373.93 C91.32,373.50 91.56,372.61 92.41,371.65 C93.26,370.69 94.04,369.47 95.35,368.18 C96.65,366.89 98.29,365.28 100.24,363.91 C102.20,362.54 104.65,361.17 107.10,359.94 C109.55,358.72 112.16,357.50 114.93,356.57 C117.71,355.65 120.81,354.88 123.74,354.39 C126.68,353.89 129.86,353.64 132.55,353.60 C135.25,353.55 138.14,353.53 139.90,354.09 C141.66,354.65 142.23,356.16 143.13,356.97 C144.03,357.78 144.43,358.57 145.28,358.95 C146.13,359.33 147.00,359.23 148.22,359.25 C149.44,359.27 150.83,359.20 152.63,359.05 C154.42,358.90 156.95,358.31 158.99,358.36 C161.03,358.41 162.99,358.62 164.87,359.35 C166.74,360.08 168.70,361.33 170.25,362.72 C171.80,364.11 173.11,365.86 174.17,367.68 C175.23,369.50 176.13,371.65 176.61,373.63 C177.10,375.62 177.27,377.68 177.10,379.58 C176.94,381.48 176.11,383.72 175.64,385.04 C175.16,386.36 174.54,386.28 174.26,387.52 C173.99,388.76 174.15,390.58 173.97,392.48 C173.79,394.38 173.73,397.47 173.19,398.93 C172.65,400.38 172.62,400.71 170.74,401.21 C168.86,401.70 165.35,401.83 161.93,401.90 C158.50,401.97 153.44,401.74 150.18,401.60 C146.92,401.47 144.55,401.47 142.35,401.11 C140.14,400.74 138.92,399.80 136.96,399.42 C135.00,399.04 133.29,399.09 130.60,398.83 C127.90,398.56 124.40,398.10 120.81,397.83 C117.22,397.57 112.48,397.47 109.06,397.24 C105.63,397.01 102.61,396.78 100.24,396.45 C97.88,396.11 96.49,395.65 94.86,395.26 C93.23,394.86 92.17,394.33 90.45,394.06 C88.74,393.80 86.46,394.10 84.58,393.67 C82.70,393.24 80.66,392.43 79.19,391.49 C77.72,390.54 76.60,389.34 75.77,388.01 C74.93,386.69 74.12,385.04 74.20,383.55 Z" fill="#e386dc"/>
<path d="M74.79,383.55 C75.03,382.06 75.93,379.88 77.24,378.59 C78.54,377.30 80.74,376.43 82.62,375.81 C84.50,375.20 86.86,374.46 88.49,374.92 C90.13,375.38 91.60,376.66 92.41,378.59 C93.23,380.53 93.72,384.05 93.39,386.53 C93.06,389.01 92.09,392.38 90.45,393.47 C88.82,394.56 85.56,393.49 83.60,393.07 C81.64,392.66 80.01,391.92 78.70,390.99 C77.40,390.06 76.42,388.76 75.77,387.52 C75.11,386.28 74.54,385.04 74.79,383.55 Z" fill="#b464c6" opacity="0.55"/>
<path d="M78.70,384.05 C78.70,382.48 81.15,380.41 82.62,379.58 C84.09,378.76 86.29,378.26 87.52,379.09 C88.74,379.91 89.88,382.81 89.96,384.54 C90.05,386.28 89.23,388.76 88.01,389.50 C86.78,390.25 84.17,389.92 82.62,389.01 C81.07,388.10 78.70,385.62 78.70,384.05 Z" fill="none" stroke="#b464c6" stroke-width="0.9" opacity="0.8"/>
<clipPath id="cbc3"><path d="M151.65,361.23 C152.63,359.00 155.81,359.46 158.01,359.25 C160.21,359.03 162.83,359.28 164.87,359.94 C166.91,360.60 168.70,361.84 170.25,363.22 C171.80,364.59 173.14,366.36 174.17,368.18 C175.19,369.99 176.01,372.14 176.42,374.13 C176.83,376.11 176.83,378.26 176.61,380.08 C176.40,381.90 176.61,383.96 175.15,385.04 C173.68,386.11 170.33,386.53 167.80,386.53 C165.27,386.53 162.17,385.95 159.97,385.04 C157.77,384.13 155.89,383.14 154.58,381.07 C153.28,379.00 152.63,375.95 152.14,372.64 C151.65,369.33 150.67,363.46 151.65,361.23 Z"/></clipPath>
<path d="M151.65,361.23 C152.63,359.00 155.81,359.46 158.01,359.25 C160.21,359.03 162.83,359.28 164.87,359.94 C166.91,360.60 168.70,361.84 170.25,363.22 C171.80,364.59 173.14,366.36 174.17,368.18 C175.19,369.99 176.01,372.14 176.42,374.13 C176.83,376.11 176.83,378.26 176.61,380.08 C176.40,381.90 176.61,383.96 175.15,385.04 C173.68,386.11 170.33,386.53 167.80,386.53 C165.27,386.53 162.17,385.95 159.97,385.04 C157.77,384.13 155.89,383.14 154.58,381.07 C153.28,379.00 152.63,375.95 152.14,372.64 C151.65,369.33 150.67,363.46 151.65,361.23 Z" fill="#e9a6e2"/>
<g clip-path="url(#cbc3)">
<line x1="167.74" y1="382.98" x2="148.24" y2="366.41" stroke="#6e3c9e" stroke-width="2.3" stroke-linecap="round"/>
<line x1="168.38" y1="382.37" x2="153.06" y2="361.77" stroke="#6e3c9e" stroke-width="2.3" stroke-linecap="round"/>
<line x1="169.08" y1="381.94" x2="158.33" y2="358.57" stroke="#6e3c9e" stroke-width="2.3" stroke-linecap="round"/>
<line x1="169.86" y1="381.67" x2="164.13" y2="356.54" stroke="#6e3c9e" stroke-width="2.3" stroke-linecap="round"/>
<line x1="170.67" y1="381.57" x2="170.23" y2="355.78" stroke="#6e3c9e" stroke-width="2.3" stroke-linecap="round"/>
<line x1="171.55" y1="381.65" x2="176.85" y2="356.43" stroke="#6e3c9e" stroke-width="2.3" stroke-linecap="round"/>
<line x1="172.46" y1="381.97" x2="183.62" y2="358.79" stroke="#6e3c9e" stroke-width="2.3" stroke-linecap="round"/>
<line x1="173.26" y1="382.50" x2="189.62" y2="362.74" stroke="#6e3c9e" stroke-width="2.3" stroke-linecap="round"/>
<line x1="173.91" y1="383.20" x2="194.50" y2="368.04" stroke="#6e3c9e" stroke-width="2.3" stroke-linecap="round"/>
</g>
<path d="M143.81,357.96 C143.24,358.51 141.77,359.94 140.39,361.23 C139.00,362.52 137.08,364.36 135.49,365.70 C133.91,367.04 131.66,368.67 130.89,369.27" fill="none" stroke="#ffffff" stroke-width="1.1" stroke-linecap="round"/>
<path d="M148.71,360.24 C149.00,361.32 150.06,364.46 150.47,366.69 C150.88,368.92 150.72,371.40 151.16,373.63 C151.60,375.86 152.14,378.23 153.12,380.08 C154.10,381.93 155.40,383.60 157.03,384.74 C158.66,385.88 160.79,386.46 162.91,386.92 C165.03,387.39 167.80,387.49 169.76,387.52 C171.72,387.55 173.84,387.19 174.66,387.12" fill="none" stroke="#ffffff" stroke-width="1.6" stroke-linecap="round"/>
<path d="M107.39,380.18 C108.08,379.17 109.77,375.95 111.50,374.13 C113.23,372.31 116.73,370.08 117.77,369.27" fill="none" stroke="#ffffff" stroke-width="1.0" stroke-linecap="round"/>
<ellipse cx="131.48" cy="396.45" rx="1.7" ry="2.2" fill="#fff"/>
<path d="M116.89,371.65 C117.54,370.49 119.17,366.27 120.81,364.70 C122.44,363.13 124.72,362.39 126.68,362.22 C128.64,362.06 131.58,363.46 132.55,363.71" fill="none" stroke="#b464c6" stroke-width="0.6" opacity="0.6"/>
<rect x="122.20" y="206.00" width="7.60" height="7.80" fill="none" stroke="#333" stroke-width="0.8"/>
<text x="130.80" y="213.20" font-size="6.6" >1</text>
<rect x="112.20" y="228.20" width="7.60" height="7.80" fill="none" stroke="#333" stroke-width="0.8"/>
<text x="120.80" y="235.40" font-size="6.6" >2</text>
<rect x="85.60" y="230.50" width="7.60" height="7.80" fill="none" stroke="#333" stroke-width="0.8"/>
<text x="94.20" y="237.70" font-size="6.6" >3</text>
<text x="212.60" y="197.60" font-size="8.6" textLength="38.8" lengthAdjust="spacingAndGlyphs" >Meninges</text>
<text x="291.50" y="198.20" font-size="8.6" textLength="35.5" lengthAdjust="spacingAndGlyphs" >Ventricle</text>
<text x="357.00" y="198.20" font-size="8.6" textLength="58.4" lengthAdjust="spacingAndGlyphs" >Olfactory bulb</text>
<defs>
<clipPath id="cp00"><rect x="196.4" y="201.9" width="70.5" height="70.4"/></clipPath>
<clipPath id="cp01"><rect x="196.4" y="277.1" width="70.5" height="70.4"/></clipPath>
<clipPath id="cp02"><rect x="196.4" y="352.4" width="70.5" height="70.4"/></clipPath>
<clipPath id="cp10"><rect x="274.0" y="201.9" width="70.5" height="70.4"/></clipPath>
<clipPath id="cp11"><rect x="274.0" y="277.1" width="70.5" height="70.4"/></clipPath>
<clipPath id="cp12"><rect x="274.0" y="352.4" width="70.5" height="70.4"/></clipPath>
<clipPath id="cp20"><rect x="351.2" y="201.9" width="70.5" height="70.4"/></clipPath>
<clipPath id="cp21"><rect x="351.2" y="277.1" width="70.5" height="70.4"/></clipPath>
<clipPath id="cp22"><rect x="351.2" y="352.4" width="70.5" height="70.4"/></clipPath>
</defs>
<g clip-path="url(#cp00)">
<rect x="196.40" y="201.90" width="70.50" height="70.40" fill="#e8d3f3" />
<filter id="nz1" x="196.4" y="201.9" width="70.5" height="70.4" filterUnits="userSpaceOnUse" color-interpolation-filters="sRGB"><feTurbulence type="fractalNoise" baseFrequency="1.2" numOctaves="1" seed="3" result="t"/><feColorMatrix in="t" type="matrix" values="0 0 0 0 0.686 0 0 0 0 0.647 0 0 0 0 0.894 1.8 0 0 0 -0.82"/></filter>
<rect x="196.4" y="201.9" width="70.5" height="70.4" filter="url(#nz1)"/>
<path d="M196.40,201.90 L205.40,201.90 L266.90,266.30 L266.90,273.30 L196.40,273.30 Z" fill="#edd6f1" opacity="0.85"/>
<path d="M196.40,205.60 L260.40,273.30 L196.40,273.30 Z" fill="#ffffff" />
</g>
<g clip-path="url(#cp10)">
<rect x="274.00" y="201.90" width="70.50" height="70.40" fill="#e9d4f3" />
<path d="M313.00,201.90 L344.50,201.90 L344.50,272.30 L308.00,272.30 Z" fill="#e2c4ec" />
<filter id="nz2" x="274.0" y="201.9" width="70.5" height="70.4" filterUnits="userSpaceOnUse" color-interpolation-filters="sRGB"><feTurbulence type="fractalNoise" baseFrequency="1.2" numOctaves="1" seed="5" result="t"/><feColorMatrix in="t" type="matrix" values="0 0 0 0 0.706 0 0 0 0 0.647 0 0 0 0 0.894 1.8 0 0 0 -0.85"/></filter>
<rect x="274.0" y="201.9" width="70.5" height="70.4" filter="url(#nz2)"/>
<path d="M303.40,201.90 L327.50,201.90 L321.50,224.80 L314.10,238.10 L310.10,258.20 L308.10,272.30 L301.40,272.30 L300.10,244.80 L301.40,228.80 Z" fill="#ffffff" />
<path d="M274.00,231.00 L278.50,258.00 L279.50,272.30 L274.00,272.30 Z" fill="#ffffff" />
<path d="M305,206 Q302,215 306,222 Q309,228 305,234 Q303,240 308,246" fill="none" stroke="#cdb6e4" stroke-width="0.6" />
<path d="M318,224 Q314,232 316,238 M306,252 Q310,258 307,266" fill="none" stroke="#cdb6e4" stroke-width="0.6" />
</g>
<g clip-path="url(#cp20)">
<rect x="351.20" y="201.90" width="70.50" height="70.40" fill="#d9c7ee" />
<clipPath id="m13"><path d="M351.2,205.9 L421.7,202.9 L421.7,240 L351.2,256 Z"/></clipPath>
<g clip-path="url(#m13)">
<filter id="nz3" x="351.2" y="201.9" width="70.5" height="70.4" filterUnits="userSpaceOnUse" color-interpolation-filters="sRGB"><feTurbulence type="fractalNoise" baseFrequency="0.3" numOctaves="2" seed="7" result="t"/><feColorMatrix in="t" type="matrix" values="0 0 0 0 0.588 0 0 0 0 0.549 0 0 0 0 0.847 2.6 0 0 0 -1.0"/></filter>
<rect x="351.2" y="201.9" width="70.5" height="70.4" filter="url(#nz3)"/>
</g>
<path d="M351.20,268.00 L352.50,263.60 L413.60,248.90 L421.70,247.70 L421.70,272.30 L351.20,272.30 Z" fill="#e5d3f2" />
<path d="M351.2,265.5 L352.5,264.4 L413.6,249.6 L421.7,248.4" fill="none" stroke="#ffffff" stroke-width="1.6" />
</g>
<g clip-path="url(#cp01)">
<rect x="196.40" y="277.10" width="70.50" height="70.40" fill="#ffffff" />
<clipPath id="m21"><path d="M196.4,277.1 L266.9,277.1 L266.9,307.6 L196.4,327.7 Z"/></clipPath>
<g clip-path="url(#m21)">
<rect x="196.40" y="277.10" width="70.50" height="70.40" fill="#efbbe9" />
<filter id="nz4" x="196.4" y="277.1" width="70.5" height="70.4" filterUnits="userSpaceOnUse" color-interpolation-filters="sRGB"><feTurbulence type="fractalNoise" baseFrequency="1.2" numOctaves="1" seed="11" result="t"/><feColorMatrix in="t" type="matrix" values="0 0 0 0 0.745 0 0 0 0 0.510 0 0 0 0 0.843 1.8 0 0 0 -0.85"/></filter>
<rect x="196.4" y="277.1" width="70.5" height="70.4" filter="url(#nz4)"/>
</g>
<path d="M196.4,329 L266.9,309" fill="none" stroke="#f6dcf2" stroke-width="1.8" />
</g>
<g clip-path="url(#cp11)">
<rect x="274.00" y="277.10" width="70.50" height="70.40" fill="#eeb8e7" />
<path d="M274.00,300.00 L300.00,320.00 L315.00,330.00 L314.00,347.50 L274.00,347.50 Z" fill="#f0c0ea" />
<filter id="nz5" x="274.0" y="277.1" width="70.5" height="70.4" filterUnits="userSpaceOnUse" color-interpolation-filters="sRGB"><feTurbulence type="fractalNoise" baseFrequency="1.2" numOctaves="1" seed="13" result="t"/><feColorMatrix in="t" type="matrix" values="0 0 0 0 0.765 0 0 0 0 0.529 0 0 0 0 0.855 1.8 0 0 0 -0.85"/></filter>
<rect x="274.0" y="277.1" width="70.5" height="70.4" filter="url(#nz5)"/>
<path d="M274.00,281.30 L284.50,284.20 L292.90,290.00 L299.60,296.70 L305.40,300.90 L308.80,303.80 L311.00,308.00 L314.50,314.00 L316.50,321.50 L313.00,322.00 L308.80,319.30 L303.80,316.80 L297.10,313.50 L291.20,308.40 L284.50,302.60 L274.00,299.20 Z" fill="#ffffff" />
<path d="M279.5,290.5 Q281,294.5 285.5,296 Q289,297.5 292,300" fill="none" stroke="#e3a3d8" stroke-width="1.3" />
<ellipse cx="300" cy="307.4" rx="9.2" ry="5.2" fill="#e88aa6" transform="rotate(36 300 307.4)"/>
<ellipse cx="301" cy="308.2" rx="6" ry="3.2" fill="#e27a98" transform="rotate(36 301 308.2)"/>
</g>
<g clip-path="url(#cp21)">
<rect x="351.20" y="277.10" width="70.50" height="70.40" fill="#ebb6e6" />
<path d="M412.00,277.10 L421.70,277.10 L421.70,347.50 L392.00,347.50 Z" fill="#f0c2ea" />
<filter id="nz6" x="351.2" y="277.1" width="60" height="70.4" filterUnits="userSpaceOnUse" color-interpolation-filters="sRGB"><feTurbulence type="fractalNoise" baseFrequency="0.7" numOctaves="2" seed="17" result="t"/><feColorMatrix in="t" type="matrix" values="0 0 0 0 0.769 0 0 0 0 0.549 0 0 0 0 0.863 1.9 0 0 0 -0.85"/></filter>
<rect x="351.2" y="277.1" width="60" height="70.4" filter="url(#nz6)"/>
<path d="M380.50,347.50 L392.00,347.50 L401.00,331.40 L407.00,312.60 L415.50,282.50 L416.00,277.10 L409.00,277.10 L403.00,293.00 L394.00,316.00 L385.00,336.00 Z" fill="#f9e4f6" />
<filter id="nz7" x="380" y="277.1" width="38" height="70.4" filterUnits="userSpaceOnUse" color-interpolation-filters="sRGB"><feTurbulence type="fractalNoise" baseFrequency="0.7" numOctaves="1" seed="19" result="t"/><feColorMatrix in="t" type="matrix" values="0 0 0 0 0.910 0 0 0 0 0.667 0 0 0 0 0.886 2.0 0 0 0 -0.8"/></filter>
<rect x="380" y="277.1" width="38" height="70.4" filter="url(#nz7)"/>
</g>
<g clip-path="url(#cp02)">
<rect x="196.40" y="352.40" width="70.50" height="70.40" fill="#ffffff" />
<clipPath id="m31"><path d="M196.4,352.4 L266.9,352.4 L266.9,385.2 L196.4,399.9 Z"/></clipPath>
<g clip-path="url(#m31)">
<rect x="196.40" y="352.40" width="70.50" height="70.40" fill="#ebb3e8" />
<filter id="nz8" x="196.4" y="352.4" width="70.5" height="70.4" filterUnits="userSpaceOnUse" color-interpolation-filters="sRGB"><feTurbulence type="fractalNoise" baseFrequency="1.2" numOctaves="1" seed="23" result="t"/><feColorMatrix in="t" type="matrix" values="0 0 0 0 0.686 0 0 0 0 0.490 0 0 0 0 0.831 1.8 0 0 0 -0.85"/></filter>
<rect x="196.4" y="352.4" width="70.5" height="70.4" filter="url(#nz8)"/>
</g>
</g>
<g clip-path="url(#cp12)">
<rect x="274.00" y="352.40" width="70.50" height="70.40" fill="#e9b4e6" />
<path d="M274.00,352.40 L344.50,352.40 L344.50,395.00 L274.00,370.00 Z" fill="#e6aee4" />
<filter id="nz9" x="274.0" y="352.4" width="70.5" height="70.4" filterUnits="userSpaceOnUse" color-interpolation-filters="sRGB"><feTurbulence type="fractalNoise" baseFrequency="1.2" numOctaves="1" seed="29" result="t"/><feColorMatrix in="t" type="matrix" values="0 0 0 0 0.745 0 0 0 0 0.529 0 0 0 0 0.847 1.8 0 0 0 -0.85"/></filter>
<rect x="274.0" y="352.4" width="70.5" height="70.4" filter="url(#nz9)"/>
<path d="M274.00,352.40 L281.50,352.40 L283.00,357.00 L287.00,363.00 L292.00,368.00 L298.00,374.00 L305.00,381.00 L313.00,388.00 L321.00,392.50 L331.00,394.50 L341.50,395.50 L339.00,399.00 L333.00,403.00 L328.50,410.00 L322.00,407.00 L314.00,401.00 L305.00,396.50 L296.00,390.50 L286.00,383.50 L277.00,376.50 L274.00,373.50 Z" fill="#ffffff" />
<ellipse cx="286.7" cy="358.8" rx="2.6" ry="5.6" fill="#e6aee4" transform="rotate(-38 286.7 358.8)"/>
<path d="M279,368.5 Q288,370 296,376 Q300,384 304,393 M297,378 L305,381 M312,388 L316,398 M318,391 Q322,396 330,395" fill="none" stroke="#cf9ede" stroke-width="0.6" />
</g>
<g clip-path="url(#cp22)">
<rect x="351.20" y="352.40" width="70.50" height="70.40" fill="#edb9ea" />
<path d="M398.00,422.80 L421.70,422.80 L421.70,352.40 L416.00,352.40 Z" fill="#f1c6ee" />
<clipPath id="m33"><path d="M351.2,366.4 L359.2,352.4 L413.2,352.4 L392,385 L384,422.79999999999995 L351.2,422.79999999999995 Z"/></clipPath>
<g clip-path="url(#m33)">
<rect x="351.20" y="352.40" width="70.50" height="70.40" fill="#e2b2ea" />
<filter id="nz10" x="351.2" y="352.4" width="70.5" height="70.4" filterUnits="userSpaceOnUse" color-interpolation-filters="sRGB"><feTurbulence type="fractalNoise" baseFrequency="0.55" numOctaves="2" seed="31" result="t"/><feColorMatrix in="t" type="matrix" values="0 0 0 0 0.549 0 0 0 0 0.451 0 0 0 0 0.804 2.6 0 0 0 -1.05"/></filter>
<rect x="351.2" y="352.4" width="70.5" height="70.4" filter="url(#nz10)"/>
</g>
<clipPath id="m33b"><path d="M362,422.79999999999995 L386.2,390 L375,370 L392,352.4 L360,352.4 L366,372 L358,400 L352,422.79999999999995 Z"/></clipPath>
<g clip-path="url(#m33b)">
<rect x="351.20" y="352.40" width="70.50" height="70.40" fill="#edbaea" />
<filter id="nz11" x="351.2" y="352.4" width="70.5" height="70.4" filterUnits="userSpaceOnUse" color-interpolation-filters="sRGB"><feTurbulence type="fractalNoise" baseFrequency="0.9" numOctaves="1" seed="33" result="t"/><feColorMatrix in="t" type="matrix" values="0 0 0 0 0.588 0 0 0 0 0.471 0 0 0 0 0.816 1.8 0 0 0 -0.85"/></filter>
<rect x="351.2" y="352.4" width="70.5" height="70.4" filter="url(#nz11)"/>
</g>
<filter id="nz12" x="351.2" y="352.4" width="70.5" height="70.4" filterUnits="userSpaceOnUse" color-interpolation-filters="sRGB"><feTurbulence type="fractalNoise" baseFrequency="1.2" numOctaves="1" seed="37" result="t"/><feColorMatrix in="t" type="matrix" values="0 0 0 0 0.745 0 0 0 0 0.549 0 0 0 0 0.863 1.5 0 0 0 -0.75"/></filter>
<rect x="351.2" y="352.4" width="70.5" height="70.4" filter="url(#nz12)"/>
<path d="M415,363 L405,382 L395,400 L389,422" fill="none" stroke="#ffffff" stroke-width="0.8" stroke-dasharray="1.2 0.8"/>
</g>
<path d="M225.50,321.40 L227.45,326.25 L223.55,326.25 Z" fill="#1e9fe3" />
<path d="M257.46,318.00 L252.34,319.08 L253.02,315.24 Z" fill="#1e9fe3" />
<path d="M313.50,319.50 L315.45,324.35 L311.55,324.35 Z" fill="#1e9fe3" />
<path d="M321.90,321.50 L323.85,326.35 L319.95,326.35 Z" fill="#1e9fe3" />
<path d="M378.60,329.60 L380.55,334.45 L376.65,334.45 Z" fill="#1e9fe3" />
<path d="M393.00,332.10 L394.95,336.95 L391.05,336.95 Z" fill="#1e9fe3" />
<path d="M408.36,325.50 L403.24,326.58 L403.92,322.74 Z" fill="#1e9fe3" />
<path d="M300.17,283.31 L305.40,283.14 L304.06,286.80 Z" fill="#e3202c" />
<path d="M331.54,316.90 L336.66,315.82 L335.98,319.66 Z" fill="#e3202c" />
<path d="M356.77,285.51 L362.00,285.34 L360.66,289.00 Z" fill="#e3202c" />
<path d="M396.06,307.50 L390.94,308.58 L391.62,304.74 Z" fill="#e3202c" />
<path d="M328.70,406.15 L328.04,410.79 L325.01,409.04 Z" fill="#e3202c" />
<rect x="243.70" y="259.20" width="14.20" height="2.80" fill="#000" />
<text x="264.60" y="269.50" font-size="7.4" text-anchor="end" textLength="26.7" lengthAdjust="spacingAndGlyphs" >200 µm</text>
<rect x="243.70" y="334.40" width="14.20" height="2.80" fill="#000" />
<text x="264.60" y="344.70" font-size="7.4" text-anchor="end" textLength="26.7" lengthAdjust="spacingAndGlyphs" >200 µm</text>
<rect x="243.70" y="409.70" width="14.20" height="2.80" fill="#000" />
<text x="264.60" y="420.00" font-size="7.4" text-anchor="end" textLength="26.7" lengthAdjust="spacingAndGlyphs" >200 µm</text>
<rect x="321.30" y="259.20" width="14.20" height="2.80" fill="#000" />
<text x="342.20" y="269.50" font-size="7.4" text-anchor="end" textLength="26.7" lengthAdjust="spacingAndGlyphs" >200 µm</text>
<rect x="321.30" y="334.40" width="14.20" height="2.80" fill="#000" />
<text x="342.20" y="344.70" font-size="7.4" text-anchor="end" textLength="26.7" lengthAdjust="spacingAndGlyphs" >200 µm</text>
<rect x="321.30" y="409.70" width="14.20" height="2.80" fill="#000" />
<text x="342.20" y="420.00" font-size="7.4" text-anchor="end" textLength="26.7" lengthAdjust="spacingAndGlyphs" >200 µm</text>
<rect x="398.50" y="259.20" width="14.20" height="2.80" fill="#000" />
<text x="419.40" y="269.50" font-size="7.4" text-anchor="end" textLength="26.7" lengthAdjust="spacingAndGlyphs" >200 µm</text>
<rect x="398.50" y="334.40" width="14.20" height="2.80" fill="#000" />
<text x="419.40" y="344.70" font-size="7.4" text-anchor="end" textLength="26.7" lengthAdjust="spacingAndGlyphs" >200 µm</text>
<rect x="398.50" y="409.70" width="14.20" height="2.80" fill="#000" />
<text x="419.40" y="420.00" font-size="7.4" text-anchor="end" textLength="26.7" lengthAdjust="spacingAndGlyphs" >200 µm</text>
<line x1="463.40" y1="215.42" x2="463.40" y2="360.50" stroke="#231f20" stroke-width="0.8" />
<line x1="463.10" y1="360.20" x2="584.50" y2="360.20" stroke="#231f20" stroke-width="0.8" />
<line x1="460.40" y1="360.20" x2="463.40" y2="360.20" stroke="#231f20" stroke-width="0.7" />
<text x="456.40" y="362.40" font-size="6.2" text-anchor="end" >0</text>
<line x1="460.40" y1="336.12" x2="463.40" y2="336.12" stroke="#231f20" stroke-width="0.7" />
<text x="456.40" y="338.32" font-size="6.2" text-anchor="end" >2</text>
<line x1="460.40" y1="312.04" x2="463.40" y2="312.04" stroke="#231f20" stroke-width="0.7" />
<text x="456.40" y="314.24" font-size="6.2" text-anchor="end" >4</text>
<line x1="460.40" y1="287.96" x2="463.40" y2="287.96" stroke="#231f20" stroke-width="0.7" />
<text x="456.40" y="290.16" font-size="6.2" text-anchor="end" >6</text>
<line x1="460.40" y1="263.88" x2="463.40" y2="263.88" stroke="#231f20" stroke-width="0.7" />
<text x="456.40" y="266.08" font-size="6.2" text-anchor="end" >8</text>
<line x1="460.40" y1="239.80" x2="463.40" y2="239.80" stroke="#231f20" stroke-width="0.7" />
<text x="456.40" y="242.00" font-size="6.2" text-anchor="end" >10</text>
<line x1="460.40" y1="215.72" x2="463.40" y2="215.72" stroke="#231f20" stroke-width="0.7" />
<text x="456.40" y="217.92" font-size="6.2" text-anchor="end" >12</text>
<rect x="512.40" y="259.91" width="23.80" height="100.29" fill="#6f6f70" />
<rect x="548.50" y="344.19" width="23.80" height="16.01" fill="#f2a6a8" />
<line x1="524.30" y1="245.82" x2="524.30" y2="273.87" stroke="#111" stroke-width="0.8" />
<line x1="521.30" y1="245.82" x2="527.30" y2="245.82" stroke="#111" stroke-width="0.8" />
<line x1="521.30" y1="273.87" x2="527.30" y2="273.87" stroke="#111" stroke-width="0.8" />
<circle cx="519.00" cy="251.84" r="2.3" fill="#fff" stroke="#111" stroke-width="0.8"/>
<circle cx="529.50" cy="251.84" r="2.3" fill="#fff" stroke="#111" stroke-width="0.8"/>
<circle cx="523.60" cy="275.92" r="2.3" fill="#fff" stroke="#111" stroke-width="0.8"/>
<line x1="560.40" y1="336.72" x2="560.40" y2="351.17" stroke="#e4575c" stroke-width="0.8" />
<line x1="557.40" y1="336.72" x2="563.40" y2="336.72" stroke="#e4575c" stroke-width="0.8" />
<line x1="557.40" y1="351.17" x2="563.40" y2="351.17" stroke="#e4575c" stroke-width="0.8" />
<circle cx="560.50" cy="336.12" r="2.3" fill="#fff" stroke="#e4575c" stroke-width="0.8"/>
<circle cx="554.40" cy="348.16" r="2.3" fill="#fff" stroke="#e4575c" stroke-width="0.8"/>
<circle cx="565.80" cy="348.16" r="2.3" fill="#fff" stroke="#e4575c" stroke-width="0.8"/>
<circle cx="482.70" cy="360.20" r="2.3" fill="#fff" stroke="#6aa3d8" stroke-width="0.8"/>
<circle cx="493.40" cy="360.20" r="2.3" fill="#fff" stroke="#6aa3d8" stroke-width="0.8"/>
<line x1="488.00" y1="360.20" x2="488.00" y2="363.20" stroke="#231f20" stroke-width="0.8" />
<text x="491.40" y="370.50" font-size="7.6" text-anchor="end" transform="rotate(-45 491.40 370.50)" >Uninfected</text>
<line x1="524.30" y1="360.20" x2="524.30" y2="363.20" stroke="#231f20" stroke-width="0.8" />
<text x="527.70" y="370.50" font-size="7.6" text-anchor="end" transform="rotate(-45 527.70 370.50)" >WT</text>
<line x1="560.40" y1="360.20" x2="560.40" y2="363.20" stroke="#231f20" stroke-width="0.8" />
<text x="563.80" y="370.50" font-size="7.6" text-anchor="end" transform="rotate(-45 563.80 370.50)" >Δ<tspan font-style="italic">manY</tspan></text>
<line x1="524.10" y1="237.60" x2="561.00" y2="237.60" stroke="#231f20" stroke-width="0.8" />
<text x="529.50" y="232.50" font-size="6.6" textLength="25.6" lengthAdjust="spacingAndGlyphs" >0.0003</text>
<text x="441.20" y="288.00" font-size="7.0" text-anchor="middle" textLength="88.2" lengthAdjust="spacingAndGlyphs" transform="rotate(-90 441.20 288.00)" >Histopathology scores</text>
<text x="0.00" y="446.00" font-size="11.8" fill="#000" font-weight="bold" >e</text>
<text x="101.40" y="446.10" font-size="8.6" textLength="77.3" lengthAdjust="spacingAndGlyphs" >Penicillin treatment</text>
<text x="89.00" y="456.60" font-size="7.2" textLength="102.3" lengthAdjust="spacingAndGlyphs" >(200 µg per mouse every 12 h)</text>
<path d="M46.40,476.68 L110.54,476.68 L110.54,492.31 L114.58,492.31 L114.58,500.08 L124.02,500.08 L124.02,507.86 L139.65,507.86 L139.65,515.72 L143.96,515.72 L143.96,523.49 L146.12,523.49 L146.12,531.26 L235.05,531.26 L235.05,531.26" fill="none" stroke="#e8484d" stroke-width="0.9" stroke-dasharray="2.6,1.6"/>
<path d="M46.40,476.68 L98.41,476.68 L98.41,484.45 L110.81,484.45 L110.81,492.31 L114.58,492.31 L114.58,500.08 L118.63,500.08 L118.63,515.72 L123.21,515.72 L123.21,523.49 L126.71,523.49 L126.71,531.26 L137.49,531.26 L137.49,539.12 L140.19,539.12 L140.19,546.89 L151.24,546.89 L151.24,554.67 L153.12,554.67 L153.12,562.53 L168.75,562.53 L168.75,570.30" fill="none" stroke="#222" stroke-width="0.9" stroke-dasharray="2.6,1.6"/>
<path d="M46.40,476.68 L84.67,476.68 L84.67,495.40 L86.56,495.40 L86.56,532.85 L92.75,532.85 L92.75,532.85 L92.75,532.85 L92.75,551.58 L94.91,551.58 L94.91,570.30" fill="none" stroke="#e8484d" stroke-width="0.9" />
<path d="M46.40,476.68 L85.48,476.68 L85.48,495.40 L90.33,495.40 L90.33,532.85 L93.29,532.85 L93.29,551.58 L95.45,551.58 L95.45,570.30" fill="none" stroke="#222" stroke-width="1.0" />
<path d="M90.33,495.40 L90.33,532.85" fill="none" stroke="#888" stroke-width="1.0" />
<line x1="46.40" y1="457.66" x2="46.40" y2="570.70" stroke="#231f20" stroke-width="0.9" />
<line x1="46.00" y1="570.30" x2="235.45" y2="570.30" stroke="#231f20" stroke-width="0.9" />
<line x1="43.20" y1="570.30" x2="46.40" y2="570.30" stroke="#231f20" stroke-width="0.8" />
<text x="38.40" y="572.90" font-size="7.4" text-anchor="end" >0</text>
<line x1="43.20" y1="551.58" x2="46.40" y2="551.58" stroke="#231f20" stroke-width="0.8" />
<text x="38.40" y="554.18" font-size="7.4" text-anchor="end" >20</text>
<line x1="43.20" y1="532.85" x2="46.40" y2="532.85" stroke="#231f20" stroke-width="0.8" />
<text x="38.40" y="535.45" font-size="7.4" text-anchor="end" >40</text>
<line x1="43.20" y1="514.13" x2="46.40" y2="514.13" stroke="#231f20" stroke-width="0.8" />
<text x="38.40" y="516.73" font-size="7.4" text-anchor="end" >60</text>
<line x1="43.20" y1="495.40" x2="46.40" y2="495.40" stroke="#231f20" stroke-width="0.8" />
<text x="38.40" y="498.00" font-size="7.4" text-anchor="end" >80</text>
<line x1="43.20" y1="476.68" x2="46.40" y2="476.68" stroke="#231f20" stroke-width="0.8" />
<text x="38.40" y="479.28" font-size="7.4" text-anchor="end" >100</text>
<line x1="43.20" y1="457.96" x2="46.40" y2="457.96" stroke="#231f20" stroke-width="0.8" />
<text x="38.40" y="460.56" font-size="7.4" text-anchor="end" >120</text>
<line x1="46.40" y1="570.30" x2="46.40" y2="573.30" stroke="#231f20" stroke-width="0.8" />
<text x="46.40" y="583.20" font-size="7.4" text-anchor="middle" >0</text>
<line x1="59.88" y1="570.30" x2="59.88" y2="572.10" stroke="#231f20" stroke-width="0.8" />
<line x1="73.35" y1="570.30" x2="73.35" y2="573.30" stroke="#231f20" stroke-width="0.8" />
<text x="73.35" y="583.20" font-size="7.4" text-anchor="middle" >1</text>
<line x1="86.82" y1="570.30" x2="86.82" y2="572.10" stroke="#231f20" stroke-width="0.8" />
<line x1="100.30" y1="570.30" x2="100.30" y2="573.30" stroke="#231f20" stroke-width="0.8" />
<text x="100.30" y="583.20" font-size="7.4" text-anchor="middle" >2</text>
<line x1="113.78" y1="570.30" x2="113.78" y2="572.10" stroke="#231f20" stroke-width="0.8" />
<line x1="127.25" y1="570.30" x2="127.25" y2="573.30" stroke="#231f20" stroke-width="0.8" />
<text x="127.25" y="583.20" font-size="7.4" text-anchor="middle" >3</text>
<line x1="140.72" y1="570.30" x2="140.72" y2="572.10" stroke="#231f20" stroke-width="0.8" />
<line x1="154.20" y1="570.30" x2="154.20" y2="573.30" stroke="#231f20" stroke-width="0.8" />
<text x="154.20" y="583.20" font-size="7.4" text-anchor="middle" >4</text>
<line x1="167.67" y1="570.30" x2="167.67" y2="572.10" stroke="#231f20" stroke-width="0.8" />
<line x1="181.15" y1="570.30" x2="181.15" y2="573.30" stroke="#231f20" stroke-width="0.8" />
<text x="181.15" y="583.20" font-size="7.4" text-anchor="middle" >5</text>
<line x1="194.62" y1="570.30" x2="194.62" y2="572.10" stroke="#231f20" stroke-width="0.8" />
<line x1="208.10" y1="570.30" x2="208.10" y2="573.30" stroke="#231f20" stroke-width="0.8" />
<text x="208.10" y="583.20" font-size="7.4" text-anchor="middle" >6</text>
<line x1="221.57" y1="570.30" x2="221.57" y2="572.10" stroke="#231f20" stroke-width="0.8" />
<line x1="235.05" y1="570.30" x2="235.05" y2="573.30" stroke="#231f20" stroke-width="0.8" />
<text x="235.05" y="583.20" font-size="7.4" text-anchor="middle" >7</text>
<text x="113.10" y="596.00" font-size="8.6" textLength="53.7" lengthAdjust="spacingAndGlyphs" >Days elapsed</text>
<text x="19.60" y="514.80" font-size="8.6" text-anchor="middle" textLength="85.8" lengthAdjust="spacingAndGlyphs" transform="rotate(-90 19.60 514.80)" >Probability of survival</text>
<text x="72.70" y="539.00" font-size="7.2" text-anchor="middle" >First</text>
<text x="72.70" y="545.90" font-size="7.2" text-anchor="middle" >treatment</text>
<text x="72.70" y="552.60" font-size="7.2" text-anchor="middle" >time point</text>
<line x1="72.70" y1="557.50" x2="72.70" y2="566.50" stroke="#4c5a7a" stroke-width="0.9" />
<path d="M72.70,568.60 L71.27,566.00 L74.13,566.00 Z" fill="#4c5a7a"/>
<line x1="145.80" y1="474.50" x2="152.40" y2="474.50" stroke="#444" stroke-width="0.9" />
<text x="156.60" y="476.90" font-size="7.0" textLength="65.4" lengthAdjust="spacingAndGlyphs" >WT (<tspan font-style="italic">n</tspan> = 5)  + vehicle</text>
<line x1="145.80" y1="486.80" x2="152.40" y2="486.80" stroke="#222" stroke-width="0.9" stroke-dasharray="2,1.4"/>
<text x="156.60" y="489.20" font-size="7.0" textLength="73.6" lengthAdjust="spacingAndGlyphs" >WT (<tspan font-style="italic">n</tspan> = 12) + penicillin</text>
<line x1="145.80" y1="499.10" x2="152.40" y2="499.10" stroke="#e8484d" stroke-width="0.9" />
<text x="156.60" y="501.50" font-size="7.0" textLength="77.1" lengthAdjust="spacingAndGlyphs" >Δ<tspan font-style="italic">manY</tspan> (<tspan font-style="italic">n</tspan> = 5) + vehicle</text>
<line x1="145.80" y1="511.30" x2="152.40" y2="511.30" stroke="#e8484d" stroke-width="0.9" stroke-dasharray="2,1.4"/>
<text x="156.60" y="513.70" font-size="7.0" textLength="85.5" lengthAdjust="spacingAndGlyphs" >Δ<tspan font-style="italic">manY</tspan> (<tspan font-style="italic">n</tspan> = 12) + penicillin</text>
<line x1="245.60" y1="488.70" x2="245.60" y2="513.70" stroke="#231f20" stroke-width="0.8" />
<text x="249.00" y="501.20" font-size="7.0" text-anchor="middle" textLength="27.5" lengthAdjust="spacingAndGlyphs" transform="rotate(90 249.00 501.20)" >&lt;0.0001</text>
<text x="267.40" y="446.00" font-size="11.8" fill="#000" font-weight="bold" >f</text>
<text x="353.50" y="446.30" font-size="8.4" text-anchor="middle" >Moribund</text>
<text x="353.50" y="456.00" font-size="6.6" text-anchor="middle" >WT <tspan font-style="italic">n</tspan> = 3</text>
<line x1="308.80" y1="467.90" x2="308.80" y2="566.80" stroke="#231f20" stroke-width="0.9" />
<line x1="308.40" y1="566.40" x2="396.50" y2="566.40" stroke="#231f20" stroke-width="0.9" />
<line x1="307.30" y1="563.94" x2="308.80" y2="563.94" stroke="#444" stroke-width="0.6" />
<line x1="307.30" y1="561.47" x2="308.80" y2="561.47" stroke="#444" stroke-width="0.6" />
<line x1="307.30" y1="559.48" x2="308.80" y2="559.48" stroke="#444" stroke-width="0.6" />
<line x1="307.30" y1="555.75" x2="308.80" y2="555.75" stroke="#444" stroke-width="0.6" />
<line x1="307.30" y1="553.29" x2="308.80" y2="553.29" stroke="#444" stroke-width="0.6" />
<line x1="307.30" y1="551.30" x2="308.80" y2="551.30" stroke="#444" stroke-width="0.6" />
<line x1="307.30" y1="547.57" x2="308.80" y2="547.57" stroke="#444" stroke-width="0.6" />
<line x1="307.30" y1="545.11" x2="308.80" y2="545.11" stroke="#444" stroke-width="0.6" />
<line x1="307.30" y1="543.12" x2="308.80" y2="543.12" stroke="#444" stroke-width="0.6" />
<line x1="307.30" y1="539.39" x2="308.80" y2="539.39" stroke="#444" stroke-width="0.6" />
<line x1="307.30" y1="536.92" x2="308.80" y2="536.92" stroke="#444" stroke-width="0.6" />
<line x1="307.30" y1="534.93" x2="308.80" y2="534.93" stroke="#444" stroke-width="0.6" />
<line x1="307.30" y1="531.20" x2="308.80" y2="531.20" stroke="#444" stroke-width="0.6" />
<line x1="307.30" y1="528.74" x2="308.80" y2="528.74" stroke="#444" stroke-width="0.6" />
<line x1="307.30" y1="526.75" x2="308.80" y2="526.75" stroke="#444" stroke-width="0.6" />
<line x1="307.30" y1="523.02" x2="308.80" y2="523.02" stroke="#444" stroke-width="0.6" />
<line x1="307.30" y1="520.56" x2="308.80" y2="520.56" stroke="#444" stroke-width="0.6" />
<line x1="307.30" y1="518.57" x2="308.80" y2="518.57" stroke="#444" stroke-width="0.6" />
<line x1="307.30" y1="514.84" x2="308.80" y2="514.84" stroke="#444" stroke-width="0.6" />
<line x1="307.30" y1="512.37" x2="308.80" y2="512.37" stroke="#444" stroke-width="0.6" />
<line x1="307.30" y1="510.38" x2="308.80" y2="510.38" stroke="#444" stroke-width="0.6" />
<line x1="307.30" y1="506.65" x2="308.80" y2="506.65" stroke="#444" stroke-width="0.6" />
<line x1="307.30" y1="504.19" x2="308.80" y2="504.19" stroke="#444" stroke-width="0.6" />
<line x1="307.30" y1="502.20" x2="308.80" y2="502.20" stroke="#444" stroke-width="0.6" />
<line x1="307.30" y1="498.47" x2="308.80" y2="498.47" stroke="#444" stroke-width="0.6" />
<line x1="307.30" y1="496.01" x2="308.80" y2="496.01" stroke="#444" stroke-width="0.6" />
<line x1="307.30" y1="494.02" x2="308.80" y2="494.02" stroke="#444" stroke-width="0.6" />
<line x1="307.30" y1="490.29" x2="308.80" y2="490.29" stroke="#444" stroke-width="0.6" />
<line x1="307.30" y1="487.82" x2="308.80" y2="487.82" stroke="#444" stroke-width="0.6" />
<line x1="307.30" y1="485.83" x2="308.80" y2="485.83" stroke="#444" stroke-width="0.6" />
<line x1="307.30" y1="482.10" x2="308.80" y2="482.10" stroke="#444" stroke-width="0.6" />
<line x1="307.30" y1="479.64" x2="308.80" y2="479.64" stroke="#444" stroke-width="0.6" />
<line x1="307.30" y1="477.65" x2="308.80" y2="477.65" stroke="#444" stroke-width="0.6" />
<line x1="307.30" y1="473.92" x2="308.80" y2="473.92" stroke="#444" stroke-width="0.6" />
<line x1="307.30" y1="471.46" x2="308.80" y2="471.46" stroke="#444" stroke-width="0.6" />
<line x1="307.30" y1="469.47" x2="308.80" y2="469.47" stroke="#444" stroke-width="0.6" />
<line x1="306.00" y1="566.40" x2="308.80" y2="566.40" stroke="#231f20" stroke-width="0.7" />
<text x="299.57" y="565.60" font-size="4.74" >0</text>
<text x="299.47" y="569.43" font-size="7.4" text-anchor="end" >10</text>
<line x1="307.20" y1="558.22" x2="308.80" y2="558.22" stroke="#231f20" stroke-width="0.7" />
<line x1="306.00" y1="550.03" x2="308.80" y2="550.03" stroke="#231f20" stroke-width="0.7" />
<text x="299.57" y="549.23" font-size="4.74" >2</text>
<text x="299.47" y="553.07" font-size="7.4" text-anchor="end" >10</text>
<line x1="307.20" y1="541.85" x2="308.80" y2="541.85" stroke="#231f20" stroke-width="0.7" />
<line x1="306.00" y1="533.67" x2="308.80" y2="533.67" stroke="#231f20" stroke-width="0.7" />
<text x="299.57" y="532.87" font-size="4.74" >4</text>
<text x="299.47" y="536.70" font-size="7.4" text-anchor="end" >10</text>
<line x1="307.20" y1="525.48" x2="308.80" y2="525.48" stroke="#231f20" stroke-width="0.7" />
<line x1="306.00" y1="517.30" x2="308.80" y2="517.30" stroke="#231f20" stroke-width="0.7" />
<text x="299.57" y="516.50" font-size="4.74" >6</text>
<text x="299.47" y="520.33" font-size="7.4" text-anchor="end" >10</text>
<line x1="307.20" y1="509.12" x2="308.80" y2="509.12" stroke="#231f20" stroke-width="0.7" />
<line x1="306.00" y1="500.93" x2="308.80" y2="500.93" stroke="#231f20" stroke-width="0.7" />
<text x="299.57" y="500.13" font-size="4.74" >8</text>
<text x="299.47" y="503.97" font-size="7.4" text-anchor="end" >10</text>
<line x1="307.20" y1="492.75" x2="308.80" y2="492.75" stroke="#231f20" stroke-width="0.7" />
<line x1="306.00" y1="484.57" x2="308.80" y2="484.57" stroke="#231f20" stroke-width="0.7" />
<text x="296.93" y="483.77" font-size="4.74" >10</text>
<text x="296.83" y="487.60" font-size="7.4" text-anchor="end" >10</text>
<line x1="307.20" y1="476.38" x2="308.80" y2="476.38" stroke="#231f20" stroke-width="0.7" />
<line x1="306.00" y1="468.20" x2="308.80" y2="468.20" stroke="#231f20" stroke-width="0.7" />
<text x="296.93" y="467.40" font-size="4.74" >12</text>
<text x="296.83" y="471.23" font-size="7.4" text-anchor="end" >10</text>
<line x1="317.50" y1="566.40" x2="317.50" y2="569.60" stroke="#231f20" stroke-width="0.8" />
<text x="320.50" y="575.60" font-size="7.3" text-anchor="end" transform="rotate(-45 320.50 575.60)" >Brain</text>
<line x1="329.60" y1="566.40" x2="329.60" y2="569.60" stroke="#231f20" stroke-width="0.8" />
<text x="332.60" y="575.60" font-size="7.3" text-anchor="end" transform="rotate(-45 332.60 575.60)" >CSF</text>
<line x1="341.20" y1="566.40" x2="341.20" y2="569.60" stroke="#231f20" stroke-width="0.8" />
<text x="344.20" y="575.60" font-size="7.3" text-anchor="end" transform="rotate(-45 344.20 575.60)" >Liver</text>
<line x1="352.90" y1="566.40" x2="352.90" y2="569.60" stroke="#231f20" stroke-width="0.8" />
<text x="355.90" y="575.60" font-size="7.3" text-anchor="end" transform="rotate(-45 355.90 575.60)" >Spleen</text>
<line x1="364.70" y1="566.40" x2="364.70" y2="569.60" stroke="#231f20" stroke-width="0.8" />
<text x="367.70" y="575.60" font-size="7.3" text-anchor="end" transform="rotate(-45 367.70 575.60)" >Lung</text>
<line x1="376.80" y1="566.40" x2="376.80" y2="569.60" stroke="#231f20" stroke-width="0.8" />
<text x="379.80" y="575.60" font-size="7.3" text-anchor="end" transform="rotate(-45 379.80 575.60)" >Kidney</text>
<line x1="388.50" y1="566.40" x2="388.50" y2="569.60" stroke="#231f20" stroke-width="0.8" />
<text x="391.50" y="575.60" font-size="7.3" text-anchor="end" transform="rotate(-45 391.50 575.60)" >Blood</text>
<text x="273.90" y="517.30" font-size="8.6" text-anchor="middle" textLength="57.3" lengthAdjust="spacingAndGlyphs" transform="rotate(-90 273.90 517.30)" >CFU per organ</text>
<text x="284.40" y="517.30" font-size="8.6" text-anchor="middle" fill="#6aa3d8" textLength="70.5" lengthAdjust="spacingAndGlyphs" transform="rotate(-90 284.40 517.30)" >or 1 ml blood/CSF</text>
<line x1="317.50" y1="502.98" x2="317.50" y2="522.21" stroke="#e4575c" stroke-width="0.8" />
<line x1="314.90" y1="502.98" x2="320.10" y2="502.98" stroke="#e4575c" stroke-width="0.8" />
<line x1="314.90" y1="522.21" x2="320.10" y2="522.21" stroke="#e4575c" stroke-width="0.8" />
<circle cx="317.50" cy="503.39" r="2.1" fill="none" stroke="#e4575c" stroke-width="0.8"/>
<circle cx="317.50" cy="508.30" r="2.1" fill="none" stroke="#e4575c" stroke-width="0.8"/>
<circle cx="317.50" cy="521.39" r="2.1" fill="none" stroke="#e4575c" stroke-width="0.8"/>
<line x1="312.90" y1="511.16" x2="322.10" y2="511.16" stroke="#e4575c" stroke-width="1.2" />
<line x1="329.60" y1="494.80" x2="329.60" y2="533.67" stroke="#6aa3d8" stroke-width="0.8" />
<line x1="327.00" y1="494.80" x2="332.20" y2="494.80" stroke="#6aa3d8" stroke-width="0.8" />
<line x1="327.00" y1="533.67" x2="332.20" y2="533.67" stroke="#6aa3d8" stroke-width="0.8" />
<circle cx="329.60" cy="495.20" r="2.1" fill="none" stroke="#6aa3d8" stroke-width="0.8"/>
<circle cx="329.60" cy="515.66" r="2.1" fill="none" stroke="#6aa3d8" stroke-width="0.8"/>
<circle cx="329.60" cy="533.67" r="2.1" fill="none" stroke="#6aa3d8" stroke-width="0.8"/>
<line x1="325.00" y1="514.85" x2="334.20" y2="514.85" stroke="#6aa3d8" stroke-width="1.2" />
<line x1="341.20" y1="531.21" x2="341.20" y2="537.76" stroke="#222" stroke-width="0.8" />
<line x1="338.60" y1="531.21" x2="343.80" y2="531.21" stroke="#222" stroke-width="0.8" />
<line x1="338.60" y1="537.76" x2="343.80" y2="537.76" stroke="#222" stroke-width="0.8" />
<circle cx="339.40" cy="532.03" r="2.1" fill="none" stroke="#222" stroke-width="0.8"/>
<circle cx="343.00" cy="534.49" r="2.1" fill="none" stroke="#222" stroke-width="0.8"/>
<circle cx="341.20" cy="537.76" r="2.1" fill="none" stroke="#222" stroke-width="0.8"/>
<line x1="336.60" y1="533.67" x2="345.80" y2="533.67" stroke="#222" stroke-width="1.2" />
<line x1="352.90" y1="535.30" x2="352.90" y2="545.94" stroke="#222" stroke-width="0.8" />
<line x1="350.30" y1="535.30" x2="355.50" y2="535.30" stroke="#222" stroke-width="0.8" />
<line x1="350.30" y1="545.94" x2="355.50" y2="545.94" stroke="#222" stroke-width="0.8" />
<circle cx="352.90" cy="535.30" r="2.1" fill="none" stroke="#222" stroke-width="0.8"/>
<circle cx="354.70" cy="543.49" r="2.1" fill="none" stroke="#222" stroke-width="0.8"/>
<circle cx="351.30" cy="546.76" r="2.1" fill="none" stroke="#222" stroke-width="0.8"/>
<line x1="348.30" y1="541.85" x2="357.50" y2="541.85" stroke="#222" stroke-width="1.2" />
<line x1="364.70" y1="523.85" x2="364.70" y2="540.21" stroke="#222" stroke-width="0.8" />
<line x1="362.10" y1="523.85" x2="367.30" y2="523.85" stroke="#222" stroke-width="0.8" />
<line x1="362.10" y1="540.21" x2="367.30" y2="540.21" stroke="#222" stroke-width="0.8" />
<circle cx="364.70" cy="524.66" r="2.1" fill="none" stroke="#222" stroke-width="0.8"/>
<circle cx="364.70" cy="536.94" r="2.1" fill="none" stroke="#222" stroke-width="0.8"/>
<circle cx="364.70" cy="540.21" r="2.1" fill="none" stroke="#222" stroke-width="0.8"/>
<line x1="360.10" y1="535.30" x2="369.30" y2="535.30" stroke="#222" stroke-width="1.2" />
<line x1="376.80" y1="532.03" x2="376.80" y2="539.39" stroke="#222" stroke-width="0.8" />
<line x1="374.20" y1="532.03" x2="379.40" y2="532.03" stroke="#222" stroke-width="0.8" />
<line x1="374.20" y1="539.39" x2="379.40" y2="539.39" stroke="#222" stroke-width="0.8" />
<circle cx="376.80" cy="532.03" r="2.1" fill="none" stroke="#222" stroke-width="0.8"/>
<circle cx="374.60" cy="539.39" r="2.1" fill="none" stroke="#222" stroke-width="0.8"/>
<circle cx="379.00" cy="539.39" r="2.1" fill="none" stroke="#222" stroke-width="0.8"/>
<line x1="372.20" y1="536.94" x2="381.40" y2="536.94" stroke="#222" stroke-width="1.2" />
<circle cx="386.30" cy="566.40" r="2.1" fill="#cfe0f5" stroke="#6aa3d8" stroke-width="0.8"/>
<circle cx="390.70" cy="566.40" r="2.1" fill="#cfe0f5" stroke="#6aa3d8" stroke-width="0.8"/>
<text x="496.95" y="446.30" font-size="8.4" text-anchor="middle" >Moribund</text>
<text x="496.95" y="456.00" font-size="6.6" text-anchor="middle" >Δ<tspan font-style="italic">manY n</tspan> = 3</text>
<line x1="452.90" y1="467.50" x2="452.90" y2="567.10" stroke="#231f20" stroke-width="0.9" />
<line x1="452.50" y1="566.70" x2="538.80" y2="566.70" stroke="#231f20" stroke-width="0.9" />
<line x1="451.40" y1="564.22" x2="452.90" y2="564.22" stroke="#444" stroke-width="0.6" />
<line x1="451.40" y1="561.74" x2="452.90" y2="561.74" stroke="#444" stroke-width="0.6" />
<line x1="451.40" y1="559.73" x2="452.90" y2="559.73" stroke="#444" stroke-width="0.6" />
<line x1="451.40" y1="555.98" x2="452.90" y2="555.98" stroke="#444" stroke-width="0.6" />
<line x1="451.40" y1="553.50" x2="452.90" y2="553.50" stroke="#444" stroke-width="0.6" />
<line x1="451.40" y1="551.49" x2="452.90" y2="551.49" stroke="#444" stroke-width="0.6" />
<line x1="451.40" y1="547.74" x2="452.90" y2="547.74" stroke="#444" stroke-width="0.6" />
<line x1="451.40" y1="545.25" x2="452.90" y2="545.25" stroke="#444" stroke-width="0.6" />
<line x1="451.40" y1="543.25" x2="452.90" y2="543.25" stroke="#444" stroke-width="0.6" />
<line x1="451.40" y1="539.49" x2="452.90" y2="539.49" stroke="#444" stroke-width="0.6" />
<line x1="451.40" y1="537.01" x2="452.90" y2="537.01" stroke="#444" stroke-width="0.6" />
<line x1="451.40" y1="535.01" x2="452.90" y2="535.01" stroke="#444" stroke-width="0.6" />
<line x1="451.40" y1="531.25" x2="452.90" y2="531.25" stroke="#444" stroke-width="0.6" />
<line x1="451.40" y1="528.77" x2="452.90" y2="528.77" stroke="#444" stroke-width="0.6" />
<line x1="451.40" y1="526.77" x2="452.90" y2="526.77" stroke="#444" stroke-width="0.6" />
<line x1="451.40" y1="523.01" x2="452.90" y2="523.01" stroke="#444" stroke-width="0.6" />
<line x1="451.40" y1="520.53" x2="452.90" y2="520.53" stroke="#444" stroke-width="0.6" />
<line x1="451.40" y1="518.53" x2="452.90" y2="518.53" stroke="#444" stroke-width="0.6" />
<line x1="451.40" y1="514.77" x2="452.90" y2="514.77" stroke="#444" stroke-width="0.6" />
<line x1="451.40" y1="512.29" x2="452.90" y2="512.29" stroke="#444" stroke-width="0.6" />
<line x1="451.40" y1="510.28" x2="452.90" y2="510.28" stroke="#444" stroke-width="0.6" />
<line x1="451.40" y1="506.53" x2="452.90" y2="506.53" stroke="#444" stroke-width="0.6" />
<line x1="451.40" y1="504.05" x2="452.90" y2="504.05" stroke="#444" stroke-width="0.6" />
<line x1="451.40" y1="502.04" x2="452.90" y2="502.04" stroke="#444" stroke-width="0.6" />
<line x1="451.40" y1="498.29" x2="452.90" y2="498.29" stroke="#444" stroke-width="0.6" />
<line x1="451.40" y1="495.80" x2="452.90" y2="495.80" stroke="#444" stroke-width="0.6" />
<line x1="451.40" y1="493.80" x2="452.90" y2="493.80" stroke="#444" stroke-width="0.6" />
<line x1="451.40" y1="490.04" x2="452.90" y2="490.04" stroke="#444" stroke-width="0.6" />
<line x1="451.40" y1="487.56" x2="452.90" y2="487.56" stroke="#444" stroke-width="0.6" />
<line x1="451.40" y1="485.56" x2="452.90" y2="485.56" stroke="#444" stroke-width="0.6" />
<line x1="451.40" y1="481.80" x2="452.90" y2="481.80" stroke="#444" stroke-width="0.6" />
<line x1="451.40" y1="479.32" x2="452.90" y2="479.32" stroke="#444" stroke-width="0.6" />
<line x1="451.40" y1="477.32" x2="452.90" y2="477.32" stroke="#444" stroke-width="0.6" />
<line x1="451.40" y1="473.56" x2="452.90" y2="473.56" stroke="#444" stroke-width="0.6" />
<line x1="451.40" y1="471.08" x2="452.90" y2="471.08" stroke="#444" stroke-width="0.6" />
<line x1="451.40" y1="469.08" x2="452.90" y2="469.08" stroke="#444" stroke-width="0.6" />
<line x1="450.10" y1="566.70" x2="452.90" y2="566.70" stroke="#231f20" stroke-width="0.7" />
<text x="443.67" y="565.90" font-size="4.74" >0</text>
<text x="443.57" y="569.73" font-size="7.4" text-anchor="end" >10</text>
<line x1="451.30" y1="558.46" x2="452.90" y2="558.46" stroke="#231f20" stroke-width="0.7" />
<line x1="450.10" y1="550.22" x2="452.90" y2="550.22" stroke="#231f20" stroke-width="0.7" />
<text x="443.67" y="549.42" font-size="4.74" >2</text>
<text x="443.57" y="553.25" font-size="7.4" text-anchor="end" >10</text>
<line x1="451.30" y1="541.98" x2="452.90" y2="541.98" stroke="#231f20" stroke-width="0.7" />
<line x1="450.10" y1="533.73" x2="452.90" y2="533.73" stroke="#231f20" stroke-width="0.7" />
<text x="443.67" y="532.93" font-size="4.74" >4</text>
<text x="443.57" y="536.77" font-size="7.4" text-anchor="end" >10</text>
<line x1="451.30" y1="525.49" x2="452.90" y2="525.49" stroke="#231f20" stroke-width="0.7" />
<line x1="450.10" y1="517.25" x2="452.90" y2="517.25" stroke="#231f20" stroke-width="0.7" />
<text x="443.67" y="516.45" font-size="4.74" >6</text>
<text x="443.57" y="520.28" font-size="7.4" text-anchor="end" >10</text>
<line x1="451.30" y1="509.01" x2="452.90" y2="509.01" stroke="#231f20" stroke-width="0.7" />
<line x1="450.10" y1="500.77" x2="452.90" y2="500.77" stroke="#231f20" stroke-width="0.7" />
<text x="443.67" y="499.97" font-size="4.74" >8</text>
<text x="443.57" y="503.80" font-size="7.4" text-anchor="end" >10</text>
<line x1="451.30" y1="492.53" x2="452.90" y2="492.53" stroke="#231f20" stroke-width="0.7" />
<line x1="450.10" y1="484.28" x2="452.90" y2="484.28" stroke="#231f20" stroke-width="0.7" />
<text x="441.03" y="483.48" font-size="4.74" >10</text>
<text x="440.93" y="487.32" font-size="7.4" text-anchor="end" >10</text>
<line x1="451.30" y1="476.04" x2="452.90" y2="476.04" stroke="#231f20" stroke-width="0.7" />
<line x1="450.10" y1="467.80" x2="452.90" y2="467.80" stroke="#231f20" stroke-width="0.7" />
<text x="441.03" y="467.00" font-size="4.74" >12</text>
<text x="440.93" y="470.83" font-size="7.4" text-anchor="end" >10</text>
<line x1="460.70" y1="566.70" x2="460.70" y2="569.90" stroke="#231f20" stroke-width="0.8" />
<text x="463.70" y="575.90" font-size="7.3" text-anchor="end" transform="rotate(-45 463.70 575.90)" >Brain</text>
<line x1="473.20" y1="566.70" x2="473.20" y2="569.90" stroke="#231f20" stroke-width="0.8" />
<text x="476.20" y="575.90" font-size="7.3" text-anchor="end" transform="rotate(-45 476.20 575.90)" >CSF</text>
<line x1="484.80" y1="566.70" x2="484.80" y2="569.90" stroke="#231f20" stroke-width="0.8" />
<text x="487.80" y="575.90" font-size="7.3" text-anchor="end" transform="rotate(-45 487.80 575.90)" >Liver</text>
<line x1="496.30" y1="566.70" x2="496.30" y2="569.90" stroke="#231f20" stroke-width="0.8" />
<text x="499.30" y="575.90" font-size="7.3" text-anchor="end" transform="rotate(-45 499.30 575.90)" >Spleen</text>
<line x1="508.50" y1="566.70" x2="508.50" y2="569.90" stroke="#231f20" stroke-width="0.8" />
<text x="511.50" y="575.90" font-size="7.3" text-anchor="end" transform="rotate(-45 511.50 575.90)" >Lung</text>
<line x1="520.00" y1="566.70" x2="520.00" y2="569.90" stroke="#231f20" stroke-width="0.8" />
<text x="523.00" y="575.90" font-size="7.3" text-anchor="end" transform="rotate(-45 523.00 575.90)" >Kidney</text>
<line x1="532.20" y1="566.70" x2="532.20" y2="569.90" stroke="#231f20" stroke-width="0.8" />
<text x="535.20" y="575.90" font-size="7.3" text-anchor="end" transform="rotate(-45 535.20 575.90)" >Blood</text>
<text x="417.20" y="514.40" font-size="8.6" text-anchor="middle" textLength="57.3" lengthAdjust="spacingAndGlyphs" transform="rotate(-90 417.20 514.40)" >CFU per organ</text>
<text x="427.70" y="514.40" font-size="8.6" text-anchor="middle" fill="#6aa3d8" textLength="70.5" lengthAdjust="spacingAndGlyphs" transform="rotate(-90 427.70 514.40)" >or 1 ml blood/CSF</text>
<circle cx="459.30" cy="519.72" r="2.1" fill="none" stroke="#e4575c" stroke-width="0.8"/>
<circle cx="463.10" cy="521.37" r="2.1" fill="none" stroke="#e4575c" stroke-width="0.8"/>
<circle cx="460.70" cy="525.49" r="2.1" fill="none" stroke="#e4575c" stroke-width="0.8"/>
<line x1="456.10" y1="522.20" x2="465.30" y2="522.20" stroke="#e4575c" stroke-width="1.2" />
<line x1="473.20" y1="532.09" x2="473.20" y2="538.68" stroke="#6aa3d8" stroke-width="0.8" />
<line x1="470.60" y1="532.09" x2="475.80" y2="532.09" stroke="#6aa3d8" stroke-width="0.8" />
<line x1="470.60" y1="538.68" x2="475.80" y2="538.68" stroke="#6aa3d8" stroke-width="0.8" />
<circle cx="473.20" cy="531.26" r="2.1" fill="none" stroke="#6aa3d8" stroke-width="0.8"/>
<circle cx="471.40" cy="537.03" r="2.1" fill="none" stroke="#6aa3d8" stroke-width="0.8"/>
<circle cx="475.00" cy="537.85" r="2.1" fill="none" stroke="#6aa3d8" stroke-width="0.8"/>
<line x1="468.60" y1="535.38" x2="477.80" y2="535.38" stroke="#6aa3d8" stroke-width="1.2" />
<line x1="484.80" y1="528.79" x2="484.80" y2="566.70" stroke="#222" stroke-width="0.8" />
<line x1="482.20" y1="528.79" x2="487.40" y2="528.79" stroke="#222" stroke-width="0.8" />
<circle cx="484.80" cy="528.79" r="2.1" fill="none" stroke="#222" stroke-width="0.8"/>
<circle cx="482.80" cy="566.70" r="2.1" fill="none" stroke="#222" stroke-width="0.8"/>
<circle cx="486.80" cy="566.70" r="2.1" fill="none" stroke="#222" stroke-width="0.8"/>
<line x1="480.20" y1="553.51" x2="489.40" y2="553.51" stroke="#222" stroke-width="1.2" />
<line x1="496.30" y1="536.21" x2="496.30" y2="566.70" stroke="#222" stroke-width="0.8" />
<line x1="493.70" y1="536.21" x2="498.90" y2="536.21" stroke="#222" stroke-width="0.8" />
<circle cx="496.30" cy="537.03" r="2.1" fill="none" stroke="#222" stroke-width="0.8"/>
<circle cx="496.30" cy="566.70" r="2.1" fill="none" stroke="#222" stroke-width="0.8"/>
<circle cx="496.30" cy="566.70" r="2.1" fill="none" stroke="#222" stroke-width="0.8"/>
<line x1="491.70" y1="550.22" x2="500.90" y2="550.22" stroke="#222" stroke-width="1.2" />
<line x1="508.50" y1="533.73" x2="508.50" y2="546.10" stroke="#222" stroke-width="0.8" />
<line x1="505.90" y1="533.73" x2="511.10" y2="533.73" stroke="#222" stroke-width="0.8" />
<line x1="505.90" y1="546.10" x2="511.10" y2="546.10" stroke="#222" stroke-width="0.8" />
<circle cx="508.50" cy="532.91" r="2.1" fill="none" stroke="#222" stroke-width="0.8"/>
<circle cx="508.50" cy="537.03" r="2.1" fill="none" stroke="#222" stroke-width="0.8"/>
<circle cx="508.50" cy="546.10" r="2.1" fill="none" stroke="#222" stroke-width="0.8"/>
<line x1="503.90" y1="539.50" x2="513.10" y2="539.50" stroke="#222" stroke-width="1.2" />
<line x1="520.00" y1="534.56" x2="520.00" y2="566.70" stroke="#222" stroke-width="0.8" />
<line x1="517.40" y1="534.56" x2="522.60" y2="534.56" stroke="#222" stroke-width="0.8" />
<circle cx="518.40" cy="539.09" r="2.1" fill="none" stroke="#222" stroke-width="0.8"/>
<circle cx="521.80" cy="541.98" r="2.1" fill="none" stroke="#222" stroke-width="0.8"/>
<circle cx="520.00" cy="566.70" r="2.1" fill="none" stroke="#222" stroke-width="0.8"/>
<line x1="515.40" y1="549.39" x2="524.60" y2="549.39" stroke="#222" stroke-width="1.2" />
<circle cx="530.20" cy="566.70" r="2.1" fill="#cfe0f5" stroke="#6aa3d8" stroke-width="0.8"/>
<circle cx="534.20" cy="566.70" r="2.1" fill="#cfe0f5" stroke="#6aa3d8" stroke-width="0.8"/>
<text x="641.25" y="446.30" font-size="8.4" text-anchor="middle" >Surviving</text>
<text x="641.25" y="456.00" font-size="6.6" text-anchor="middle" >Δ<tspan font-style="italic">manY</tspan> 7 dpi <tspan font-style="italic">n</tspan> = 6</text>
<line x1="597.10" y1="467.50" x2="597.10" y2="566.80" stroke="#231f20" stroke-width="0.9" />
<line x1="596.70" y1="566.40" x2="685.00" y2="566.40" stroke="#231f20" stroke-width="0.9" />
<line x1="595.60" y1="563.93" x2="597.10" y2="563.93" stroke="#444" stroke-width="0.6" />
<line x1="595.60" y1="561.45" x2="597.10" y2="561.45" stroke="#444" stroke-width="0.6" />
<line x1="595.60" y1="559.46" x2="597.10" y2="559.46" stroke="#444" stroke-width="0.6" />
<line x1="595.60" y1="555.71" x2="597.10" y2="555.71" stroke="#444" stroke-width="0.6" />
<line x1="595.60" y1="553.24" x2="597.10" y2="553.24" stroke="#444" stroke-width="0.6" />
<line x1="595.60" y1="551.24" x2="597.10" y2="551.24" stroke="#444" stroke-width="0.6" />
<line x1="595.60" y1="547.49" x2="597.10" y2="547.49" stroke="#444" stroke-width="0.6" />
<line x1="595.60" y1="545.02" x2="597.10" y2="545.02" stroke="#444" stroke-width="0.6" />
<line x1="595.60" y1="543.02" x2="597.10" y2="543.02" stroke="#444" stroke-width="0.6" />
<line x1="595.60" y1="539.28" x2="597.10" y2="539.28" stroke="#444" stroke-width="0.6" />
<line x1="595.60" y1="536.80" x2="597.10" y2="536.80" stroke="#444" stroke-width="0.6" />
<line x1="595.60" y1="534.81" x2="597.10" y2="534.81" stroke="#444" stroke-width="0.6" />
<line x1="595.60" y1="531.06" x2="597.10" y2="531.06" stroke="#444" stroke-width="0.6" />
<line x1="595.60" y1="528.59" x2="597.10" y2="528.59" stroke="#444" stroke-width="0.6" />
<line x1="595.60" y1="526.59" x2="597.10" y2="526.59" stroke="#444" stroke-width="0.6" />
<line x1="595.60" y1="522.84" x2="597.10" y2="522.84" stroke="#444" stroke-width="0.6" />
<line x1="595.60" y1="520.37" x2="597.10" y2="520.37" stroke="#444" stroke-width="0.6" />
<line x1="595.60" y1="518.37" x2="597.10" y2="518.37" stroke="#444" stroke-width="0.6" />
<line x1="595.60" y1="514.63" x2="597.10" y2="514.63" stroke="#444" stroke-width="0.6" />
<line x1="595.60" y1="512.15" x2="597.10" y2="512.15" stroke="#444" stroke-width="0.6" />
<line x1="595.60" y1="510.16" x2="597.10" y2="510.16" stroke="#444" stroke-width="0.6" />
<line x1="595.60" y1="506.41" x2="597.10" y2="506.41" stroke="#444" stroke-width="0.6" />
<line x1="595.60" y1="503.94" x2="597.10" y2="503.94" stroke="#444" stroke-width="0.6" />
<line x1="595.60" y1="501.94" x2="597.10" y2="501.94" stroke="#444" stroke-width="0.6" />
<line x1="595.60" y1="498.19" x2="597.10" y2="498.19" stroke="#444" stroke-width="0.6" />
<line x1="595.60" y1="495.72" x2="597.10" y2="495.72" stroke="#444" stroke-width="0.6" />
<line x1="595.60" y1="493.72" x2="597.10" y2="493.72" stroke="#444" stroke-width="0.6" />
<line x1="595.60" y1="489.98" x2="597.10" y2="489.98" stroke="#444" stroke-width="0.6" />
<line x1="595.60" y1="487.50" x2="597.10" y2="487.50" stroke="#444" stroke-width="0.6" />
<line x1="595.60" y1="485.51" x2="597.10" y2="485.51" stroke="#444" stroke-width="0.6" />
<line x1="595.60" y1="481.76" x2="597.10" y2="481.76" stroke="#444" stroke-width="0.6" />
<line x1="595.60" y1="479.29" x2="597.10" y2="479.29" stroke="#444" stroke-width="0.6" />
<line x1="595.60" y1="477.29" x2="597.10" y2="477.29" stroke="#444" stroke-width="0.6" />
<line x1="595.60" y1="473.54" x2="597.10" y2="473.54" stroke="#444" stroke-width="0.6" />
<line x1="595.60" y1="471.07" x2="597.10" y2="471.07" stroke="#444" stroke-width="0.6" />
<line x1="595.60" y1="469.07" x2="597.10" y2="469.07" stroke="#444" stroke-width="0.6" />
<line x1="594.30" y1="566.40" x2="597.10" y2="566.40" stroke="#231f20" stroke-width="0.7" />
<text x="587.87" y="565.60" font-size="4.74" >0</text>
<text x="587.77" y="569.43" font-size="7.4" text-anchor="end" >10</text>
<line x1="595.50" y1="558.18" x2="597.10" y2="558.18" stroke="#231f20" stroke-width="0.7" />
<line x1="594.30" y1="549.97" x2="597.10" y2="549.97" stroke="#231f20" stroke-width="0.7" />
<text x="587.87" y="549.17" font-size="4.74" >2</text>
<text x="587.77" y="553.00" font-size="7.4" text-anchor="end" >10</text>
<line x1="595.50" y1="541.75" x2="597.10" y2="541.75" stroke="#231f20" stroke-width="0.7" />
<line x1="594.30" y1="533.53" x2="597.10" y2="533.53" stroke="#231f20" stroke-width="0.7" />
<text x="587.87" y="532.73" font-size="4.74" >4</text>
<text x="587.77" y="536.57" font-size="7.4" text-anchor="end" >10</text>
<line x1="595.50" y1="525.32" x2="597.10" y2="525.32" stroke="#231f20" stroke-width="0.7" />
<line x1="594.30" y1="517.10" x2="597.10" y2="517.10" stroke="#231f20" stroke-width="0.7" />
<text x="587.87" y="516.30" font-size="4.74" >6</text>
<text x="587.77" y="520.13" font-size="7.4" text-anchor="end" >10</text>
<line x1="595.50" y1="508.88" x2="597.10" y2="508.88" stroke="#231f20" stroke-width="0.7" />
<line x1="594.30" y1="500.67" x2="597.10" y2="500.67" stroke="#231f20" stroke-width="0.7" />
<text x="587.87" y="499.87" font-size="4.74" >8</text>
<text x="587.77" y="503.70" font-size="7.4" text-anchor="end" >10</text>
<line x1="595.50" y1="492.45" x2="597.10" y2="492.45" stroke="#231f20" stroke-width="0.7" />
<line x1="594.30" y1="484.23" x2="597.10" y2="484.23" stroke="#231f20" stroke-width="0.7" />
<text x="585.23" y="483.43" font-size="4.74" >10</text>
<text x="585.13" y="487.27" font-size="7.4" text-anchor="end" >10</text>
<line x1="595.50" y1="476.02" x2="597.10" y2="476.02" stroke="#231f20" stroke-width="0.7" />
<line x1="594.30" y1="467.80" x2="597.10" y2="467.80" stroke="#231f20" stroke-width="0.7" />
<text x="585.23" y="467.00" font-size="4.74" >12</text>
<text x="585.13" y="470.83" font-size="7.4" text-anchor="end" >10</text>
<line x1="604.90" y1="566.40" x2="604.90" y2="569.60" stroke="#231f20" stroke-width="0.8" />
<text x="607.90" y="575.60" font-size="7.3" text-anchor="end" transform="rotate(-45 607.90 575.60)" >Brain</text>
<line x1="616.70" y1="566.40" x2="616.70" y2="569.60" stroke="#231f20" stroke-width="0.8" />
<text x="619.70" y="575.60" font-size="7.3" text-anchor="end" transform="rotate(-45 619.70 575.60)" >CSF</text>
<line x1="628.90" y1="566.40" x2="628.90" y2="569.60" stroke="#231f20" stroke-width="0.8" />
<text x="631.90" y="575.60" font-size="7.3" text-anchor="end" transform="rotate(-45 631.90 575.60)" >Liver</text>
<line x1="641.00" y1="566.40" x2="641.00" y2="569.60" stroke="#231f20" stroke-width="0.8" />
<text x="644.00" y="575.60" font-size="7.3" text-anchor="end" transform="rotate(-45 644.00 575.60)" >Spleen</text>
<line x1="652.60" y1="566.40" x2="652.60" y2="569.60" stroke="#231f20" stroke-width="0.8" />
<text x="655.60" y="575.60" font-size="7.3" text-anchor="end" transform="rotate(-45 655.60 575.60)" >Lung</text>
<line x1="664.50" y1="566.40" x2="664.50" y2="569.60" stroke="#231f20" stroke-width="0.8" />
<text x="667.50" y="575.60" font-size="7.3" text-anchor="end" transform="rotate(-45 667.50 575.60)" >Kidney</text>
<line x1="676.60" y1="566.40" x2="676.60" y2="569.60" stroke="#231f20" stroke-width="0.8" />
<text x="679.60" y="575.60" font-size="7.3" text-anchor="end" transform="rotate(-45 679.60 575.60)" >Blood</text>
<text x="561.70" y="516.90" font-size="8.6" text-anchor="middle" textLength="57.3" lengthAdjust="spacingAndGlyphs" transform="rotate(-90 561.70 516.90)" >CFU per organ</text>
<text x="571.90" y="516.90" font-size="8.6" text-anchor="middle" fill="#6aa3d8" textLength="70.5" lengthAdjust="spacingAndGlyphs" transform="rotate(-90 571.90 516.90)" >or 1 ml blood/CSF</text>
<line x1="604.90" y1="536.82" x2="604.90" y2="556.54" stroke="#e4575c" stroke-width="0.8" />
<line x1="602.30" y1="536.82" x2="607.50" y2="536.82" stroke="#e4575c" stroke-width="0.8" />
<line x1="602.30" y1="556.54" x2="607.50" y2="556.54" stroke="#e4575c" stroke-width="0.8" />
<circle cx="602.90" cy="536.82" r="2.1" fill="none" stroke="#e4575c" stroke-width="0.8"/>
<circle cx="606.90" cy="539.28" r="2.1" fill="none" stroke="#e4575c" stroke-width="0.8"/>
<circle cx="606.90" cy="541.75" r="2.1" fill="none" stroke="#e4575c" stroke-width="0.8"/>
<circle cx="602.90" cy="545.04" r="2.1" fill="none" stroke="#e4575c" stroke-width="0.8"/>
<circle cx="604.90" cy="548.32" r="2.1" fill="none" stroke="#e4575c" stroke-width="0.8"/>
<circle cx="604.90" cy="566.40" r="2.1" fill="none" stroke="#e4575c" stroke-width="0.8"/>
<line x1="600.30" y1="545.86" x2="609.50" y2="545.86" stroke="#e4575c" stroke-width="1.2" />
<line x1="616.70" y1="548.32" x2="616.70" y2="566.40" stroke="#6aa3d8" stroke-width="0.8" />
<line x1="614.10" y1="548.32" x2="619.30" y2="548.32" stroke="#6aa3d8" stroke-width="0.8" />
<circle cx="616.70" cy="547.50" r="2.1" fill="none" stroke="#6aa3d8" stroke-width="0.8"/>
<circle cx="616.70" cy="551.61" r="2.1" fill="none" stroke="#6aa3d8" stroke-width="0.8"/>
<circle cx="614.70" cy="566.40" r="2.1" fill="none" stroke="#6aa3d8" stroke-width="0.8"/>
<circle cx="618.70" cy="566.40" r="2.1" fill="none" stroke="#6aa3d8" stroke-width="0.8"/>
<circle cx="616.70" cy="566.40" r="2.1" fill="none" stroke="#6aa3d8" stroke-width="0.8"/>
<circle cx="616.70" cy="566.40" r="2.1" fill="none" stroke="#6aa3d8" stroke-width="0.8"/>
<line x1="612.10" y1="559.00" x2="621.30" y2="559.00" stroke="#6aa3d8" stroke-width="1.2" />
<line x1="628.90" y1="539.28" x2="628.90" y2="566.40" stroke="#222" stroke-width="0.8" />
<line x1="626.30" y1="539.28" x2="631.50" y2="539.28" stroke="#222" stroke-width="0.8" />
<circle cx="627.30" cy="540.11" r="2.1" fill="none" stroke="#222" stroke-width="0.8"/>
<circle cx="630.70" cy="542.57" r="2.1" fill="none" stroke="#222" stroke-width="0.8"/>
<circle cx="628.90" cy="545.04" r="2.1" fill="none" stroke="#222" stroke-width="0.8"/>
<circle cx="626.90" cy="566.40" r="2.1" fill="none" stroke="#222" stroke-width="0.8"/>
<circle cx="630.90" cy="566.40" r="2.1" fill="none" stroke="#222" stroke-width="0.8"/>
<circle cx="628.90" cy="566.40" r="2.1" fill="none" stroke="#222" stroke-width="0.8"/>
<line x1="624.30" y1="553.25" x2="633.50" y2="553.25" stroke="#222" stroke-width="1.2" />
<line x1="641.00" y1="539.28" x2="641.00" y2="566.40" stroke="#222" stroke-width="0.8" />
<line x1="638.40" y1="539.28" x2="643.60" y2="539.28" stroke="#222" stroke-width="0.8" />
<circle cx="639.40" cy="540.11" r="2.1" fill="none" stroke="#222" stroke-width="0.8"/>
<circle cx="642.80" cy="543.39" r="2.1" fill="none" stroke="#222" stroke-width="0.8"/>
<circle cx="641.00" cy="545.86" r="2.1" fill="none" stroke="#222" stroke-width="0.8"/>
<circle cx="639.00" cy="566.40" r="2.1" fill="none" stroke="#222" stroke-width="0.8"/>
<circle cx="643.00" cy="566.40" r="2.1" fill="none" stroke="#222" stroke-width="0.8"/>
<circle cx="641.00" cy="566.40" r="2.1" fill="none" stroke="#222" stroke-width="0.8"/>
<line x1="636.40" y1="550.79" x2="645.60" y2="550.79" stroke="#222" stroke-width="1.2" />
<line x1="652.60" y1="543.39" x2="652.60" y2="566.40" stroke="#222" stroke-width="0.8" />
<line x1="650.00" y1="543.39" x2="655.20" y2="543.39" stroke="#222" stroke-width="0.8" />
<circle cx="651.00" cy="544.22" r="2.1" fill="none" stroke="#222" stroke-width="0.8"/>
<circle cx="654.40" cy="546.68" r="2.1" fill="none" stroke="#222" stroke-width="0.8"/>
<circle cx="650.60" cy="566.40" r="2.1" fill="none" stroke="#222" stroke-width="0.8"/>
<circle cx="654.60" cy="566.40" r="2.1" fill="none" stroke="#222" stroke-width="0.8"/>
<circle cx="652.60" cy="566.40" r="2.1" fill="none" stroke="#222" stroke-width="0.8"/>
<circle cx="652.60" cy="566.40" r="2.1" fill="none" stroke="#222" stroke-width="0.8"/>
<line x1="648.00" y1="554.90" x2="657.20" y2="554.90" stroke="#222" stroke-width="1.2" />
<line x1="664.50" y1="540.11" x2="664.50" y2="566.40" stroke="#222" stroke-width="0.8" />
<line x1="661.90" y1="540.11" x2="667.10" y2="540.11" stroke="#222" stroke-width="0.8" />
<circle cx="662.90" cy="540.93" r="2.1" fill="none" stroke="#222" stroke-width="0.8"/>
<circle cx="666.30" cy="543.39" r="2.1" fill="none" stroke="#222" stroke-width="0.8"/>
<circle cx="664.50" cy="545.04" r="2.1" fill="none" stroke="#222" stroke-width="0.8"/>
<circle cx="662.50" cy="566.40" r="2.1" fill="none" stroke="#222" stroke-width="0.8"/>
<circle cx="666.50" cy="566.40" r="2.1" fill="none" stroke="#222" stroke-width="0.8"/>
<circle cx="664.50" cy="566.40" r="2.1" fill="none" stroke="#222" stroke-width="0.8"/>
<line x1="659.90" y1="553.25" x2="669.10" y2="553.25" stroke="#222" stroke-width="1.2" />
<circle cx="674.60" cy="566.40" r="2.1" fill="#cfe0f5" stroke="#6aa3d8" stroke-width="0.8"/>
<circle cx="678.60" cy="566.40" r="2.1" fill="#cfe0f5" stroke="#6aa3d8" stroke-width="0.8"/>
</svg></body></html>
